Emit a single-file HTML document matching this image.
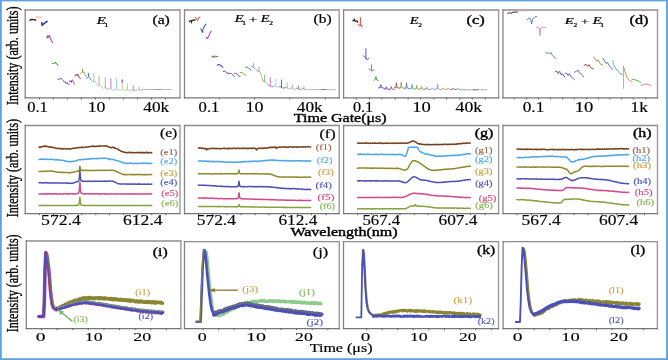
<!DOCTYPE html>
<html><head><meta charset="utf-8"><style>html,body{margin:0;padding:0;background:#fff;overflow:hidden}svg{display:block;font-family:"Liberation Serif",serif;filter:blur(0.4px)}</style></head><body>
<svg width="668" height="360" viewBox="0 0 668 360" font-family="Liberation Serif, serif">
<rect x="0" y="0" width="668" height="360" fill="#fff"/>
<line x1="25.2" y1="10" x2="180" y2="10" stroke="#8c8c8c" stroke-width="1.3" stroke-linecap="square"/>
<line x1="180" y1="10" x2="180" y2="97.9" stroke="#9a9a9a" stroke-width="1.4" stroke-linecap="square"/>
<line x1="25.2" y1="10" x2="25.2" y2="97.9" stroke="#858585" stroke-width="1.3" stroke-linecap="square"/>
<line x1="25.2" y1="97.9" x2="180" y2="97.9" stroke="#767676" stroke-width="1.2" stroke-linecap="square"/>
<line x1="184.5" y1="10" x2="339.2" y2="10" stroke="#8c8c8c" stroke-width="1.3" stroke-linecap="square"/>
<line x1="339.2" y1="10" x2="339.2" y2="97.9" stroke="#9a9a9a" stroke-width="1.4" stroke-linecap="square"/>
<line x1="184.5" y1="10" x2="184.5" y2="97.9" stroke="#858585" stroke-width="1.3" stroke-linecap="square"/>
<line x1="184.5" y1="97.9" x2="339.2" y2="97.9" stroke="#767676" stroke-width="1.2" stroke-linecap="square"/>
<line x1="343.6" y1="10" x2="498.6" y2="10" stroke="#8c8c8c" stroke-width="1.3" stroke-linecap="square"/>
<line x1="498.6" y1="10" x2="498.6" y2="97.9" stroke="#9a9a9a" stroke-width="1.4" stroke-linecap="square"/>
<line x1="343.6" y1="10" x2="343.6" y2="97.9" stroke="#858585" stroke-width="1.3" stroke-linecap="square"/>
<line x1="343.6" y1="97.9" x2="498.6" y2="97.9" stroke="#767676" stroke-width="1.2" stroke-linecap="square"/>
<line x1="503" y1="10" x2="657.5" y2="10" stroke="#8c8c8c" stroke-width="1.3" stroke-linecap="square"/>
<line x1="657.5" y1="10" x2="657.5" y2="97.9" stroke="#9a9a9a" stroke-width="1.4" stroke-linecap="square"/>
<line x1="503" y1="10" x2="503" y2="97.9" stroke="#858585" stroke-width="1.3" stroke-linecap="square"/>
<line x1="503" y1="97.9" x2="657.5" y2="97.9" stroke="#767676" stroke-width="1.2" stroke-linecap="square"/>
<line x1="25.2" y1="125.5" x2="180" y2="125.5" stroke="#8c8c8c" stroke-width="1.3" stroke-linecap="square"/>
<line x1="180" y1="125.5" x2="180" y2="213.6" stroke="#9a9a9a" stroke-width="1.4" stroke-linecap="square"/>
<line x1="25.2" y1="125.5" x2="25.2" y2="213.6" stroke="#858585" stroke-width="1.3" stroke-linecap="square"/>
<line x1="25.2" y1="213.6" x2="180" y2="213.6" stroke="#767676" stroke-width="1.2" stroke-linecap="square"/>
<line x1="184.5" y1="125.5" x2="339.2" y2="125.5" stroke="#8c8c8c" stroke-width="1.3" stroke-linecap="square"/>
<line x1="339.2" y1="125.5" x2="339.2" y2="213.6" stroke="#9a9a9a" stroke-width="1.4" stroke-linecap="square"/>
<line x1="184.5" y1="125.5" x2="184.5" y2="213.6" stroke="#858585" stroke-width="1.3" stroke-linecap="square"/>
<line x1="184.5" y1="213.6" x2="339.2" y2="213.6" stroke="#767676" stroke-width="1.2" stroke-linecap="square"/>
<line x1="343.6" y1="125.5" x2="498.6" y2="125.5" stroke="#8c8c8c" stroke-width="1.3" stroke-linecap="square"/>
<line x1="498.6" y1="125.5" x2="498.6" y2="213.6" stroke="#9a9a9a" stroke-width="1.4" stroke-linecap="square"/>
<line x1="343.6" y1="125.5" x2="343.6" y2="213.6" stroke="#858585" stroke-width="1.3" stroke-linecap="square"/>
<line x1="343.6" y1="213.6" x2="498.6" y2="213.6" stroke="#767676" stroke-width="1.2" stroke-linecap="square"/>
<line x1="503" y1="125.5" x2="657.5" y2="125.5" stroke="#8c8c8c" stroke-width="1.3" stroke-linecap="square"/>
<line x1="657.5" y1="125.5" x2="657.5" y2="213.6" stroke="#9a9a9a" stroke-width="1.4" stroke-linecap="square"/>
<line x1="503" y1="125.5" x2="503" y2="213.6" stroke="#858585" stroke-width="1.3" stroke-linecap="square"/>
<line x1="503" y1="213.6" x2="657.5" y2="213.6" stroke="#767676" stroke-width="1.2" stroke-linecap="square"/>
<line x1="26.3" y1="241" x2="180.9" y2="241" stroke="#8c8c8c" stroke-width="1.3" stroke-linecap="square"/>
<line x1="180.9" y1="241" x2="180.9" y2="328.6" stroke="#9a9a9a" stroke-width="1.4" stroke-linecap="square"/>
<line x1="26.3" y1="241" x2="26.3" y2="328.6" stroke="#858585" stroke-width="1.3" stroke-linecap="square"/>
<line x1="26.3" y1="328.6" x2="180.9" y2="328.6" stroke="#767676" stroke-width="1.2" stroke-linecap="square"/>
<line x1="184.5" y1="241.6" x2="339.3" y2="241.6" stroke="#8c8c8c" stroke-width="1.3" stroke-linecap="square"/>
<line x1="339.3" y1="241.6" x2="339.3" y2="328.6" stroke="#9a9a9a" stroke-width="1.4" stroke-linecap="square"/>
<line x1="184.5" y1="241.6" x2="184.5" y2="328.6" stroke="#858585" stroke-width="1.3" stroke-linecap="square"/>
<line x1="184.5" y1="328.6" x2="339.3" y2="328.6" stroke="#767676" stroke-width="1.2" stroke-linecap="square"/>
<line x1="343.5" y1="241.6" x2="498.5" y2="241.6" stroke="#8c8c8c" stroke-width="1.3" stroke-linecap="square"/>
<line x1="498.5" y1="241.6" x2="498.5" y2="328.6" stroke="#9a9a9a" stroke-width="1.4" stroke-linecap="square"/>
<line x1="343.5" y1="241.6" x2="343.5" y2="328.6" stroke="#858585" stroke-width="1.3" stroke-linecap="square"/>
<line x1="343.5" y1="328.6" x2="498.5" y2="328.6" stroke="#767676" stroke-width="1.2" stroke-linecap="square"/>
<line x1="503.1" y1="241.6" x2="657.4" y2="241.6" stroke="#8c8c8c" stroke-width="1.3" stroke-linecap="square"/>
<line x1="657.4" y1="241.6" x2="657.4" y2="328.6" stroke="#9a9a9a" stroke-width="1.4" stroke-linecap="square"/>
<line x1="503.1" y1="241.6" x2="503.1" y2="328.6" stroke="#858585" stroke-width="1.3" stroke-linecap="square"/>
<line x1="503.1" y1="328.6" x2="657.4" y2="328.6" stroke="#767676" stroke-width="1.2" stroke-linecap="square"/>
<line x1="39.4" y1="97.9" x2="39.4" y2="99.5" stroke="#555" stroke-width="0.9"/>
<line x1="53.4" y1="97.9" x2="53.4" y2="99.5" stroke="#555" stroke-width="0.9"/>
<line x1="67.3" y1="97.9" x2="67.3" y2="99.5" stroke="#555" stroke-width="0.9"/>
<line x1="81.3" y1="97.9" x2="81.3" y2="99.5" stroke="#555" stroke-width="0.9"/>
<line x1="95.4" y1="97.9" x2="95.4" y2="99.5" stroke="#555" stroke-width="0.9"/>
<line x1="109.5" y1="97.9" x2="109.5" y2="99.5" stroke="#555" stroke-width="0.9"/>
<line x1="123.3" y1="97.9" x2="123.3" y2="99.5" stroke="#555" stroke-width="0.9"/>
<line x1="137.6" y1="97.9" x2="137.6" y2="99.5" stroke="#555" stroke-width="0.9"/>
<line x1="151.6" y1="97.9" x2="151.6" y2="99.5" stroke="#555" stroke-width="0.9"/>
<line x1="165.6" y1="97.9" x2="165.6" y2="99.5" stroke="#555" stroke-width="0.9"/>
<line x1="219.3" y1="97.9" x2="219.3" y2="99.5" stroke="#555" stroke-width="0.9"/>
<line x1="254.6" y1="97.9" x2="254.6" y2="99.5" stroke="#555" stroke-width="0.9"/>
<line x1="289.9" y1="97.9" x2="289.9" y2="99.5" stroke="#555" stroke-width="0.9"/>
<line x1="325.3" y1="97.9" x2="325.3" y2="99.5" stroke="#555" stroke-width="0.9"/>
<line x1="356.2" y1="97.9" x2="356.2" y2="99.5" stroke="#555" stroke-width="0.9"/>
<line x1="369.3" y1="97.9" x2="369.3" y2="99.5" stroke="#555" stroke-width="0.9"/>
<line x1="381.8" y1="97.9" x2="381.8" y2="99.5" stroke="#555" stroke-width="0.9"/>
<line x1="395.2" y1="97.9" x2="395.2" y2="99.5" stroke="#555" stroke-width="0.9"/>
<line x1="408.1" y1="97.9" x2="408.1" y2="99.5" stroke="#555" stroke-width="0.9"/>
<line x1="420.8" y1="97.9" x2="420.8" y2="99.5" stroke="#555" stroke-width="0.9"/>
<line x1="434" y1="97.9" x2="434" y2="99.5" stroke="#555" stroke-width="0.9"/>
<line x1="446.5" y1="97.9" x2="446.5" y2="99.5" stroke="#555" stroke-width="0.9"/>
<line x1="459.9" y1="97.9" x2="459.9" y2="99.5" stroke="#555" stroke-width="0.9"/>
<line x1="472.3" y1="97.9" x2="472.3" y2="99.5" stroke="#555" stroke-width="0.9"/>
<line x1="485.5" y1="97.9" x2="485.5" y2="99.5" stroke="#555" stroke-width="0.9"/>
<line x1="514.2" y1="97.9" x2="514.2" y2="99.5" stroke="#555" stroke-width="0.9"/>
<line x1="526.3" y1="97.9" x2="526.3" y2="99.5" stroke="#555" stroke-width="0.9"/>
<line x1="538.3" y1="97.9" x2="538.3" y2="99.5" stroke="#555" stroke-width="0.9"/>
<line x1="550.4" y1="97.9" x2="550.4" y2="99.5" stroke="#555" stroke-width="0.9"/>
<line x1="562.5" y1="97.9" x2="562.5" y2="99.5" stroke="#555" stroke-width="0.9"/>
<line x1="574.1" y1="97.9" x2="574.1" y2="99.5" stroke="#555" stroke-width="0.9"/>
<line x1="586.3" y1="97.9" x2="586.3" y2="99.5" stroke="#555" stroke-width="0.9"/>
<line x1="598.4" y1="97.9" x2="598.4" y2="99.5" stroke="#555" stroke-width="0.9"/>
<line x1="610" y1="97.9" x2="610" y2="99.5" stroke="#555" stroke-width="0.9"/>
<line x1="621.7" y1="97.9" x2="621.7" y2="99.5" stroke="#555" stroke-width="0.9"/>
<line x1="633.4" y1="97.9" x2="633.4" y2="99.5" stroke="#555" stroke-width="0.9"/>
<line x1="645.6" y1="97.9" x2="645.6" y2="99.5" stroke="#555" stroke-width="0.9"/>
<text transform="translate(27.17 111.7) scale(1.173 1)" font-size="14.13" fill="#000" stroke="#000" stroke-width="0.15">0.1</text>
<text transform="translate(87.74 111.76) scale(1.247 1)" font-size="14.23" fill="#000" stroke="#000" stroke-width="0.15">10</text>
<text transform="translate(143.26 111.77) scale(1.267 1)" font-size="13.64" fill="#000" stroke="#000" stroke-width="0.15">40k</text>
<text transform="translate(198.57 111.7) scale(1.179 1)" font-size="14.13" fill="#000" stroke="#000" stroke-width="0.15">0.1</text>
<text transform="translate(245.52 111.76) scale(1.263 1)" font-size="14.23" fill="#000" stroke="#000" stroke-width="0.15">10</text>
<text transform="translate(296.86 111.77) scale(1.267 1)" font-size="13.64" fill="#000" stroke="#000" stroke-width="0.15">40k</text>
<text transform="translate(352.88 111.7) scale(1.149 1)" font-size="14.13" fill="#000" stroke="#000" stroke-width="0.15">0.1</text>
<text transform="translate(412.26 111.76) scale(1.311 1)" font-size="14.23" fill="#000" stroke="#000" stroke-width="0.15">10</text>
<text transform="translate(455.55 111.77) scale(1.297 1)" font-size="13.64" fill="#000" stroke="#000" stroke-width="0.15">40k</text>
<text transform="translate(522.74 111.7) scale(1.222 1)" font-size="14.13" fill="#000" stroke="#000" stroke-width="0.15">0.1</text>
<text transform="translate(574.76 111.76) scale(1.311 1)" font-size="14.23" fill="#000" stroke="#000" stroke-width="0.15">10</text>
<text transform="translate(630.48 111.9) scale(1.252 1)" font-size="13.84" fill="#000" stroke="#000" stroke-width="0.15">1k</text>
<text transform="translate(152.41 23.86) scale(1.319 1)" font-size="11.91" fill="#000" stroke="#000" stroke-width="0.25">(a)</text>
<text transform="translate(313.57 23.14) scale(1.313 1)" font-size="11.8" fill="#000" stroke="#000" stroke-width="0.2">(b)</text>
<text transform="translate(466.53 23.64) scale(1.385 1)" font-size="11.8" fill="#000" stroke="#000" stroke-width="0.35">(c)</text>
<text transform="translate(629.54 23.64) scale(1.376 1)" font-size="11.8" fill="#000" stroke="#000" stroke-width="0.35">(d)</text>
<text transform="translate(96.87 23.8) scale(1.550 1)" font-size="9.47" fill="#000" stroke="#000" stroke-width="0.22" font-style="italic">E</text>
<text transform="translate(104.43 26.95) scale(1.150 1)" font-size="6.5" fill="#000" stroke="#000" stroke-width="0.25">1</text>
<text transform="translate(234.67 22.05) scale(1.468 1)" font-size="9.77" fill="#000" stroke="#000" stroke-width="0.22" font-style="italic">E</text>
<text transform="translate(242.13 25.25) scale(1.150 1)" font-size="6.5" fill="#000" stroke="#000" stroke-width="0.25">1</text>
<text transform="translate(260.67 22.05) scale(1.468 1)" font-size="9.77" fill="#000" stroke="#000" stroke-width="0.22" font-style="italic">E</text>
<text transform="translate(269.17 25.15) scale(1.150 1)" font-size="6.5" fill="#000" stroke="#000" stroke-width="0.25">2</text>
<text transform="translate(248.65 22.84) scale(1.430 1)" font-size="10.52" fill="#000" stroke="#000" stroke-width="0.15">+</text>
<text transform="translate(409.87 23.8) scale(1.515 1)" font-size="9.47" fill="#000" stroke="#000" stroke-width="0.22" font-style="italic">E</text>
<text transform="translate(418.37 27.05) scale(1.150 1)" font-size="6.5" fill="#000" stroke="#000" stroke-width="0.25">2</text>
<text transform="translate(564.87 23.8) scale(1.602 1)" font-size="9.16" fill="#000" stroke="#000" stroke-width="0.22" font-style="italic">E</text>
<text transform="translate(573.57 27.05) scale(1.150 1)" font-size="6.5" fill="#000" stroke="#000" stroke-width="0.25">2</text>
<text transform="translate(580.77 24.61) scale(1.309 1)" font-size="11.16" fill="#000" stroke="#000" stroke-width="0.15">+</text>
<text transform="translate(592.67 23.8) scale(1.515 1)" font-size="9.47" fill="#000" stroke="#000" stroke-width="0.22" font-style="italic">E</text>
<text transform="translate(600.13 26.95) scale(1.150 1)" font-size="6.5" fill="#000" stroke="#000" stroke-width="0.25">1</text>
<polyline points="29.9,20.4 30.8,19.6 32.5,19.4 34.2,19.8 35.8,20" fill="none" stroke="#222" stroke-width="1.36" stroke-linejoin="round" stroke-linecap="round"/>
<polyline points="35.6,17.1 41.6,17.1" fill="none" stroke="#f08a70" stroke-width="0.765" stroke-linejoin="round" stroke-linecap="round"/>
<polyline points="41.8,22.8 42,25.2 43.2,24.4 44.2,23.4 45.5,22.6 47,21.3" fill="none" stroke="#3a3fb0" stroke-width="1.7" stroke-linejoin="round" stroke-linecap="round"/>
<polyline points="46.9,38 47.5,35.7 48.1,37.4 49,35.8 49.7,35.6 50.2,38.4 51,39.4 51.4,40.8 52.6,42.4" fill="none" stroke="#a040a8" stroke-width="1.02" stroke-linejoin="round" stroke-linecap="round"/>
<polyline points="52.3,63.4 53.5,63.3 54.6,63 55.4,62.4 56.2,63.4 57,64.2 58.3,65.3" fill="none" stroke="#4a9a40" stroke-width="1.02" stroke-linejoin="round" stroke-linecap="round"/>
<polyline points="58,79.5 59.5,79 61,78.3 62.3,79.5 63.5,80.8" fill="none" stroke="#5050c0" stroke-width="0.935" stroke-linejoin="round" stroke-linecap="round"/>
<polyline points="63.8,82 65.3,81.8 66,83.5 67,82.3 67.8,84 69.2,84.6" fill="none" stroke="#6a50b8" stroke-width="0.935" stroke-linejoin="round" stroke-linecap="round"/>
<polyline points="69.3,81.5 70.3,80.5 71.2,82.5 72,79.8 73,80.6 73.5,82.5 74.5,84.3" fill="none" stroke="#9040a0" stroke-width="0.935" stroke-linejoin="round" stroke-linecap="round"/>
<polyline points="75,76.2 76,74.4 77,75.6 77.8,74 78.5,76 79.5,78 80.5,78.5" fill="none" stroke="#a03030" stroke-width="0.935" stroke-linejoin="round" stroke-linecap="round"/>
<polyline points="80.6,73.8 81.6,72.4 82.3,71.8 82.6,68.8 82.8,72.5 84,72 85,74.5 86.2,76.2" fill="none" stroke="#9a9a40" stroke-width="0.85" stroke-linejoin="round" stroke-linecap="round"/>
<polyline points="86.6,78.6 87.6,77.2 88.3,76.8 88.4,73 88.6,77 89.6,77.4 90.4,79.4 91.4,80.2" fill="none" stroke="#5070c8" stroke-width="0.85" stroke-linejoin="round" stroke-linecap="round"/>
<polyline points="93.9,73.3 93.9,81" fill="none" stroke="#88c8cc" stroke-width="0.935" stroke-linejoin="round" stroke-linecap="round"/>
<polyline points="92.3,82.6 93.9,81" fill="none" stroke="#88c8cc" stroke-width="0.765" stroke-linejoin="round" stroke-linecap="round"/>
<polyline points="93.9,81 95.4,82.5 97.4,84.8" fill="none" stroke="#88c8cc" stroke-width="0.765" stroke-linejoin="round" stroke-linecap="round"/>
<polyline points="99.1,76.2 99.1,84.6" fill="none" stroke="#c8a078" stroke-width="0.935" stroke-linejoin="round" stroke-linecap="round"/>
<polyline points="97.5,86.2 99.1,84.6" fill="none" stroke="#c8a078" stroke-width="0.765" stroke-linejoin="round" stroke-linecap="round"/>
<polyline points="99.1,84.6 100.6,86.1 102.6,87.4" fill="none" stroke="#c8a078" stroke-width="0.765" stroke-linejoin="round" stroke-linecap="round"/>
<polyline points="105.3,77.6 105.3,87.2" fill="none" stroke="#80c070" stroke-width="0.935" stroke-linejoin="round" stroke-linecap="round"/>
<polyline points="103.7,88.8 105.3,87.2" fill="none" stroke="#80c070" stroke-width="0.765" stroke-linejoin="round" stroke-linecap="round"/>
<polyline points="105.3,87.2 106.8,88.7 108.8,88.6" fill="none" stroke="#80c070" stroke-width="0.765" stroke-linejoin="round" stroke-linecap="round"/>
<polyline points="110.8,79 110.8,88.4" fill="none" stroke="#e0a8d0" stroke-width="0.935" stroke-linejoin="round" stroke-linecap="round"/>
<polyline points="109.2,90 110.8,88.4" fill="none" stroke="#e0a8d0" stroke-width="0.765" stroke-linejoin="round" stroke-linecap="round"/>
<polyline points="110.8,88.4 112.3,89.9 114.3,89.2" fill="none" stroke="#e0a8d0" stroke-width="0.765" stroke-linejoin="round" stroke-linecap="round"/>
<polyline points="116.4,79 116.4,89" fill="none" stroke="#80d0e0" stroke-width="0.935" stroke-linejoin="round" stroke-linecap="round"/>
<polyline points="114.8,90.6 116.4,89" fill="none" stroke="#80d0e0" stroke-width="0.765" stroke-linejoin="round" stroke-linecap="round"/>
<polyline points="116.4,89 117.9,90.5 119.9,89.3" fill="none" stroke="#80d0e0" stroke-width="0.765" stroke-linejoin="round" stroke-linecap="round"/>
<polyline points="122.2,81.6 122.2,89.1" fill="none" stroke="#c8d070" stroke-width="0.935" stroke-linejoin="round" stroke-linecap="round"/>
<polyline points="120.6,90.7 122.2,89.1" fill="none" stroke="#c8d070" stroke-width="0.765" stroke-linejoin="round" stroke-linecap="round"/>
<polyline points="122.2,89.1 123.7,90.6 125.7,89.6" fill="none" stroke="#c8d070" stroke-width="0.765" stroke-linejoin="round" stroke-linecap="round"/>
<polyline points="127.5,84.1 127.5,89.4" fill="none" stroke="#c0c0c0" stroke-width="0.935" stroke-linejoin="round" stroke-linecap="round"/>
<polyline points="125.9,91 127.5,89.4" fill="none" stroke="#c0c0c0" stroke-width="0.765" stroke-linejoin="round" stroke-linecap="round"/>
<polyline points="127.5,89.4 129,90.9 131,89.7" fill="none" stroke="#c0c0c0" stroke-width="0.765" stroke-linejoin="round" stroke-linecap="round"/>
<polyline points="133.2,85.9 133.2,89.5" fill="none" stroke="#b07890" stroke-width="0.935" stroke-linejoin="round" stroke-linecap="round"/>
<polyline points="131.6,91.1 133.2,89.5" fill="none" stroke="#b07890" stroke-width="0.765" stroke-linejoin="round" stroke-linecap="round"/>
<polyline points="133.2,89.5 134.7,91 136.7,89.7" fill="none" stroke="#b07890" stroke-width="0.765" stroke-linejoin="round" stroke-linecap="round"/>
<polyline points="139,86.6 139,89.5" fill="none" stroke="#90c090" stroke-width="0.935" stroke-linejoin="round" stroke-linecap="round"/>
<polyline points="137.4,91.1 139,89.5" fill="none" stroke="#90c090" stroke-width="0.765" stroke-linejoin="round" stroke-linecap="round"/>
<polyline points="139,89.5 140.5,91 142.5,89.7" fill="none" stroke="#90c090" stroke-width="0.765" stroke-linejoin="round" stroke-linecap="round"/>
<polyline points="110.8,79 110.8,88.4" fill="none" stroke="#e0b0d8" stroke-width="1.7" stroke-linejoin="round" stroke-linecap="round"/>
<polyline points="122.2,80 122.2,82" fill="none" stroke="#7060d0" stroke-width="1.275" stroke-linejoin="round" stroke-linecap="round"/>
<polyline points="141.7,89.5 146.6,89.5" fill="none" stroke="#90c8e0" stroke-width="0.935" stroke-linejoin="round" stroke-linecap="round"/>
<polyline points="146.6,89.5 151.5,89.5" fill="none" stroke="#b0b0d0" stroke-width="0.935" stroke-linejoin="round" stroke-linecap="round"/>
<polyline points="151.5,89.5 156.4,89.5" fill="none" stroke="#c0a0a0" stroke-width="0.935" stroke-linejoin="round" stroke-linecap="round"/>
<polyline points="156.4,89.5 161.3,89.5" fill="none" stroke="#909090" stroke-width="0.935" stroke-linejoin="round" stroke-linecap="round"/>
<polyline points="161.3,89.5 166.2,89.5" fill="none" stroke="#f0a888" stroke-width="0.935" stroke-linejoin="round" stroke-linecap="round"/>
<polyline points="166.2,89.5 171.1,89.5" fill="none" stroke="#b0b0e8" stroke-width="0.935" stroke-linejoin="round" stroke-linecap="round"/>
<polyline points="189.5,21.6 190.4,20.6 191.4,21.4 192.6,20.2 193.6,20.4 195,19.8" fill="none" stroke="#222" stroke-width="1.275" stroke-linejoin="round" stroke-linecap="round"/>
<polyline points="191.4,21 191.6,23" fill="none" stroke="#222" stroke-width="1.02" stroke-linejoin="round" stroke-linecap="round"/>
<polyline points="195.3,17.4 196.5,19.2 197.5,20.8 198.5,17.5 200,17.2" fill="none" stroke="#e03828" stroke-width="0.935" stroke-linejoin="round" stroke-linecap="round"/>
<polyline points="200.8,29 201.6,30.4 202.6,32.4 203.1,28.8 204.5,26.2 205.8,24" fill="none" stroke="#3a50c0" stroke-width="1.02" stroke-linejoin="round" stroke-linecap="round"/>
<polyline points="206.3,37.2 207,38.6 208,37.4 209,35.2 210,33 211.3,31" fill="none" stroke="#a848b8" stroke-width="1.02" stroke-linejoin="round" stroke-linecap="round"/>
<polyline points="212,57 213,56 214.2,57.5 215.5,56 216.6,56.4 217.8,56.8" fill="none" stroke="#409040" stroke-width="1.105" stroke-linejoin="round" stroke-linecap="round"/>
<polyline points="217.2,65.2 218.5,64.5 220,65 221,65.6 222,66.5 223,67.3" fill="none" stroke="#4848b8" stroke-width="1.02" stroke-linejoin="round" stroke-linecap="round"/>
<polyline points="223.2,71.4 224.8,71.2 226,72 227,73.3 228.3,73.4" fill="none" stroke="#6048b0" stroke-width="0.935" stroke-linejoin="round" stroke-linecap="round"/>
<polyline points="228.3,73.2 230,73.4 231.5,73.6 232.5,74.6 233.2,75.8 234.3,76.2" fill="none" stroke="#8048a8" stroke-width="0.935" stroke-linejoin="round" stroke-linecap="round"/>
<polyline points="234.2,73.2 235.5,73.6 236.5,73.2 237.5,74.6 238.8,76 240,76.4" fill="none" stroke="#a84040" stroke-width="0.935" stroke-linejoin="round" stroke-linecap="round"/>
<polyline points="240.2,72.4 242,72.6 243.5,73.6 245,74.6 246,75.2" fill="none" stroke="#9a9a40" stroke-width="0.935" stroke-linejoin="round" stroke-linecap="round"/>
<polyline points="245.6,67.4 247,67 248.5,68 250,69.2 251.2,70" fill="none" stroke="#5070c8" stroke-width="0.935" stroke-linejoin="round" stroke-linecap="round"/>
<polyline points="253.3,63.2 253.3,67.2" fill="none" stroke="#70b8b8" stroke-width="0.935" stroke-linejoin="round" stroke-linecap="round"/>
<polyline points="251.5,66.4 253.3,67.2" fill="none" stroke="#70b8b8" stroke-width="0.85" stroke-linejoin="round" stroke-linecap="round"/>
<polyline points="253.3,67.2 254.9,68.3 257.4,71.1" fill="none" stroke="#70b8b8" stroke-width="0.85" stroke-linejoin="round" stroke-linecap="round"/>
<polyline points="259,67 259,71.5" fill="none" stroke="#c8a078" stroke-width="0.935" stroke-linejoin="round" stroke-linecap="round"/>
<polyline points="257.2,70.7 259,71.5" fill="none" stroke="#c8a078" stroke-width="0.85" stroke-linejoin="round" stroke-linecap="round"/>
<polyline points="259,71.5 260.6,72.6 263,81.2" fill="none" stroke="#c8a078" stroke-width="0.85" stroke-linejoin="round" stroke-linecap="round"/>
<polyline points="264.6,75 264.6,81.6" fill="none" stroke="#80c070" stroke-width="0.935" stroke-linejoin="round" stroke-linecap="round"/>
<polyline points="262.8,80.8 264.6,81.6" fill="none" stroke="#80c070" stroke-width="0.85" stroke-linejoin="round" stroke-linecap="round"/>
<polyline points="264.6,81.6 266.2,82.7 268.7,85.6" fill="none" stroke="#80c070" stroke-width="0.85" stroke-linejoin="round" stroke-linecap="round"/>
<polyline points="270.3,77.7 270.3,86" fill="none" stroke="#d070b0" stroke-width="0.935" stroke-linejoin="round" stroke-linecap="round"/>
<polyline points="268.5,85.2 270.3,86" fill="none" stroke="#d070b0" stroke-width="0.85" stroke-linejoin="round" stroke-linecap="round"/>
<polyline points="270.3,86 271.9,87.1 274.3,86.1" fill="none" stroke="#d070b0" stroke-width="0.85" stroke-linejoin="round" stroke-linecap="round"/>
<polyline points="275.9,79 275.9,86.5" fill="none" stroke="#90d8dc" stroke-width="0.935" stroke-linejoin="round" stroke-linecap="round"/>
<polyline points="274.1,85.7 275.9,86.5" fill="none" stroke="#90d8dc" stroke-width="0.85" stroke-linejoin="round" stroke-linecap="round"/>
<polyline points="275.9,86.5 277.5,87.6 279.9,86.8" fill="none" stroke="#90d8dc" stroke-width="0.85" stroke-linejoin="round" stroke-linecap="round"/>
<polyline points="281.5,80 281.5,87.2" fill="none" stroke="#6060c0" stroke-width="0.935" stroke-linejoin="round" stroke-linecap="round"/>
<polyline points="279.7,86.4 281.5,87.2" fill="none" stroke="#6060c0" stroke-width="0.85" stroke-linejoin="round" stroke-linecap="round"/>
<polyline points="281.5,87.2 283.1,88.3 285.6,87.5" fill="none" stroke="#6060c0" stroke-width="0.85" stroke-linejoin="round" stroke-linecap="round"/>
<polyline points="287.2,83 287.2,87.9" fill="none" stroke="#b0c060" stroke-width="0.935" stroke-linejoin="round" stroke-linecap="round"/>
<polyline points="285.4,87.1 287.2,87.9" fill="none" stroke="#b0c060" stroke-width="0.85" stroke-linejoin="round" stroke-linecap="round"/>
<polyline points="287.2,87.9 288.8,89 291.1,88.1" fill="none" stroke="#b0c060" stroke-width="0.85" stroke-linejoin="round" stroke-linecap="round"/>
<polyline points="292.7,84.7 292.7,88.5" fill="none" stroke="#b0b0b0" stroke-width="0.935" stroke-linejoin="round" stroke-linecap="round"/>
<polyline points="290.9,87.7 292.7,88.5" fill="none" stroke="#b0b0b0" stroke-width="0.85" stroke-linejoin="round" stroke-linecap="round"/>
<polyline points="292.7,88.5 294.3,89.6 296.9,88.4" fill="none" stroke="#b0b0b0" stroke-width="0.85" stroke-linejoin="round" stroke-linecap="round"/>
<polyline points="298.5,86 298.5,88.8" fill="none" stroke="#c07090" stroke-width="0.935" stroke-linejoin="round" stroke-linecap="round"/>
<polyline points="296.7,88 298.5,88.8" fill="none" stroke="#c07090" stroke-width="0.85" stroke-linejoin="round" stroke-linecap="round"/>
<polyline points="298.5,88.8 300.1,89.9 302.3,88.6" fill="none" stroke="#c07090" stroke-width="0.85" stroke-linejoin="round" stroke-linecap="round"/>
<polyline points="303.9,86.3 303.9,89" fill="none" stroke="#90b890" stroke-width="0.935" stroke-linejoin="round" stroke-linecap="round"/>
<polyline points="302.1,88.2 303.9,89" fill="none" stroke="#90b890" stroke-width="0.85" stroke-linejoin="round" stroke-linecap="round"/>
<polyline points="303.9,89 305.5,90.1 305.7,89.1" fill="none" stroke="#90b890" stroke-width="0.85" stroke-linejoin="round" stroke-linecap="round"/>
<polyline points="307.2,89.6 311.95,89.6" fill="none" stroke="#90c8e0" stroke-width="0.935" stroke-linejoin="round" stroke-linecap="round"/>
<polyline points="311.95,89.6 316.7,89.6" fill="none" stroke="#b0b0d0" stroke-width="0.935" stroke-linejoin="round" stroke-linecap="round"/>
<polyline points="316.7,89.6 321.45,89.6" fill="none" stroke="#b0b0b0" stroke-width="0.935" stroke-linejoin="round" stroke-linecap="round"/>
<polyline points="321.45,89.6 326.2,89.6" fill="none" stroke="#707070" stroke-width="0.935" stroke-linejoin="round" stroke-linecap="round"/>
<polyline points="326.2,89.6 330.95,89.6" fill="none" stroke="#f0a888" stroke-width="0.935" stroke-linejoin="round" stroke-linecap="round"/>
<polyline points="330.95,89.6 335.7,89.6" fill="none" stroke="#b0b0e8" stroke-width="0.935" stroke-linejoin="round" stroke-linecap="round"/>
<polyline points="352.8,21 353.8,20.2 354.4,18.9 354.9,21 355.9,21.4 356.9,20.6 357.8,22.3" fill="none" stroke="#222" stroke-width="1.105" stroke-linejoin="round" stroke-linecap="round"/>
<polyline points="360.4,17.6 360.4,25.6 361.6,26.6 362.4,25" fill="none" stroke="#e03828" stroke-width="0.935" stroke-linejoin="round" stroke-linecap="round"/>
<polyline points="358.2,24.6 360.4,25.8" fill="none" stroke="#e03828" stroke-width="0.935" stroke-linejoin="round" stroke-linecap="round"/>
<polyline points="365.9,48.6 365.9,58.6 367.4,59.6 368.7,58" fill="none" stroke="#3a50c0" stroke-width="0.935" stroke-linejoin="round" stroke-linecap="round"/>
<polyline points="363.2,55.6 365,57.4 365.9,58.6" fill="none" stroke="#3a50c0" stroke-width="0.935" stroke-linejoin="round" stroke-linecap="round"/>
<polyline points="371.5,64.8 371.5,70.6 372.8,71 373.6,69.8" fill="none" stroke="#b050b8" stroke-width="0.935" stroke-linejoin="round" stroke-linecap="round"/>
<polyline points="368.8,68.8 370.4,70 371.5,70.6" fill="none" stroke="#b050b8" stroke-width="0.935" stroke-linejoin="round" stroke-linecap="round"/>
<polyline points="373.8,80.2 375.2,79.6 376,76.6 376.6,79.8 378.4,80.4" fill="none" stroke="#48a048" stroke-width="0.935" stroke-linejoin="round" stroke-linecap="round"/>
<polyline points="378.6,87.7 380.24,87.9 380.84,84.6 381.44,87.5 384.2,88.3" fill="none" stroke="#4848b8" stroke-width="0.85" stroke-linejoin="round" stroke-linecap="round"/>
<polyline points="384.2,89 385.6,89.2 386.2,86.8 386.8,88.8 389.2,89.6" fill="none" stroke="#6048b0" stroke-width="0.85" stroke-linejoin="round" stroke-linecap="round"/>
<polyline points="389.2,89 390.68,89.2 391.28,86.6 391.88,88.8 394.4,89.6" fill="none" stroke="#9048a8" stroke-width="0.85" stroke-linejoin="round" stroke-linecap="round"/>
<polyline points="394.4,87.7 395.76,87.9 396.36,82.8 396.96,87.5 399.3,88.3" fill="none" stroke="#a84040" stroke-width="0.85" stroke-linejoin="round" stroke-linecap="round"/>
<polyline points="399.3,87.7 400.62,87.9 401.22,82.3 401.82,87.5 404.1,88.3" fill="none" stroke="#909a30" stroke-width="0.85" stroke-linejoin="round" stroke-linecap="round"/>
<polyline points="404.1,88.1 405.9,88.3 406.5,82.8 407.1,87.9 410.1,88.7" fill="none" stroke="#4a68c8" stroke-width="0.85" stroke-linejoin="round" stroke-linecap="round"/>
<polyline points="410.1,88.6 411.42,88.8 412.02,84.4 412.62,88.4 414.9,89.2" fill="none" stroke="#48b0b0" stroke-width="0.85" stroke-linejoin="round" stroke-linecap="round"/>
<polyline points="414.9,88.8 416.18,89 416.78,85.4 417.38,88.6 419.6,89.4" fill="none" stroke="#c08a48" stroke-width="0.85" stroke-linejoin="round" stroke-linecap="round"/>
<polyline points="419.6,89 420.92,89.2 421.52,86.4 422.12,88.8 424.4,89.6" fill="none" stroke="#60b040" stroke-width="0.85" stroke-linejoin="round" stroke-linecap="round"/>
<polyline points="424.4,89 426.2,89.2 426.8,87.4 427.4,88.8 430.4,89.6" fill="none" stroke="#c060a8" stroke-width="0.85" stroke-linejoin="round" stroke-linecap="round"/>
<polyline points="430.4,89.1 431.8,89.3 432.4,87.8 433,88.9 435.4,89.7" fill="none" stroke="#60c8d0" stroke-width="0.85" stroke-linejoin="round" stroke-linecap="round"/>
<polyline points="435.4,89.1 437.04,89.3 437.64,84 438.24,88.9 441,89.7" fill="none" stroke="#9090d8" stroke-width="0.85" stroke-linejoin="round" stroke-linecap="round"/>
<polyline points="441,89.1 442.4,89.3 443,87.8 443.6,88.9 446,89.7" fill="none" stroke="#a8b840" stroke-width="0.85" stroke-linejoin="round" stroke-linecap="round"/>
<polyline points="446,89.2 447.4,89.4 448,88 448.6,89 451,89.8" fill="none" stroke="#a0a0a0" stroke-width="0.85" stroke-linejoin="round" stroke-linecap="round"/>
<polyline points="451,89.2 452.4,89.4 453,88.2 453.6,89 456,89.8" fill="none" stroke="#a05070" stroke-width="0.85" stroke-linejoin="round" stroke-linecap="round"/>
<polyline points="456,89.2 457,89.4 457.6,88.4 458.2,89 460,89.8" fill="none" stroke="#60a860" stroke-width="0.85" stroke-linejoin="round" stroke-linecap="round"/>
<polyline points="460,89.8 464.45,89.8" fill="none" stroke="#80c0e0" stroke-width="0.935" stroke-linejoin="round" stroke-linecap="round"/>
<polyline points="464.45,89.8 468.9,89.8" fill="none" stroke="#a0a0c0" stroke-width="0.935" stroke-linejoin="round" stroke-linecap="round"/>
<polyline points="468.9,89.8 473.35,89.8" fill="none" stroke="#b0b0b0" stroke-width="0.935" stroke-linejoin="round" stroke-linecap="round"/>
<polyline points="473.35,89.8 477.8,89.8" fill="none" stroke="#606060" stroke-width="0.935" stroke-linejoin="round" stroke-linecap="round"/>
<polyline points="477.8,89.8 482.25,89.8" fill="none" stroke="#f0a080" stroke-width="0.935" stroke-linejoin="round" stroke-linecap="round"/>
<polyline points="482.25,89.8 486.7,89.8" fill="none" stroke="#a0a0e0" stroke-width="0.935" stroke-linejoin="round" stroke-linecap="round"/>
<polyline points="507.6,13.6 509.6,12.6 511,13.4 513,12.2 517.3,12" fill="none" stroke="#222" stroke-width="0.935" stroke-linejoin="round" stroke-linecap="round"/>
<polyline points="517.3,10.8 527,10.8" fill="none" stroke="#f0a090" stroke-width="0.68" stroke-linejoin="round" stroke-linecap="round"/>
<polyline points="527.2,19.6 529,18 530.5,18.8 531.6,23.8 532.6,19.4 534.6,17 536.6,16.4" fill="none" stroke="#4a5cc0" stroke-width="0.85" stroke-linejoin="round" stroke-linecap="round"/>
<polyline points="536.2,27.6 538,26.8 539.4,28 540,35.6 540.8,28.2 543,27 545.6,27.4" fill="none" stroke="#c888cc" stroke-width="0.85" stroke-linejoin="round" stroke-linecap="round"/>
<polyline points="545.7,52.8 547.6,53.4 549,52.6 550.2,53.8 551,52.6 552.4,55.4 553.8,56.6 555.6,58.2" fill="none" stroke="#48a048" stroke-width="0.935" stroke-linejoin="round" stroke-linecap="round"/>
<polyline points="555.6,71.4 557,71.2 558.2,73.6 559.6,71.2 561,74.6 562.6,73.8 564,76.4 565,77" fill="none" stroke="#5050b8" stroke-width="0.935" stroke-linejoin="round" stroke-linecap="round"/>
<polyline points="565.2,73.4 566.6,73 568,75.6 569.4,73.6 570.8,76.6 572.6,78 574.4,79.6" fill="none" stroke="#7050b0" stroke-width="0.935" stroke-linejoin="round" stroke-linecap="round"/>
<polyline points="574.6,72.2 576.6,71.2 578.4,70.4 579.4,72.8 580.6,73.2 582.6,75.6 583.8,76.8" fill="none" stroke="#9048a8" stroke-width="0.935" stroke-linejoin="round" stroke-linecap="round"/>
<polyline points="584,65.6 586,64.2 587.6,66.4 589,64.6 590.6,67.6 593.4,69" fill="none" stroke="#a84040" stroke-width="0.935" stroke-linejoin="round" stroke-linecap="round"/>
<polyline points="593.6,57.2 595,58.4 596.6,61.2 598.2,60 600,63.6 602.8,65.4" fill="none" stroke="#909a30" stroke-width="0.935" stroke-linejoin="round" stroke-linecap="round"/>
<polyline points="603,58.2 604.6,61 606,63.4 607.6,62.6 609.8,66.6 612.7,69.4" fill="none" stroke="#4a68c8" stroke-width="0.935" stroke-linejoin="round" stroke-linecap="round"/>
<polyline points="612.8,60.8 613.6,64.6 615.6,68.4 618,71.4 620.2,73.4 622.3,74.4" fill="none" stroke="#48b0b0" stroke-width="0.935" stroke-linejoin="round" stroke-linecap="round"/>
<polyline points="623.5,66.6 623.5,88.5" fill="none" stroke="#c8a070" stroke-width="0.85" stroke-linejoin="round" stroke-linecap="round"/>
<polyline points="623.5,66.6 625.2,72.4 627.2,77.6 629.6,80.6 632,81.6" fill="none" stroke="#c08a48" stroke-width="0.935" stroke-linejoin="round" stroke-linecap="round"/>
<polyline points="632,79.2 635,79.8 638,80.8 641,82.6" fill="none" stroke="#60b040" stroke-width="0.935" stroke-linejoin="round" stroke-linecap="round"/>
<polyline points="641,85.4 643.4,84.4 646,84 648.6,84.6 650.5,85.6" fill="none" stroke="#d070b8" stroke-width="0.935" stroke-linejoin="round" stroke-linecap="round"/>
<line x1="39.3" y1="213.6" x2="39.3" y2="215.2" stroke="#555" stroke-width="0.9"/>
<line x1="53.5" y1="213.6" x2="53.5" y2="215.2" stroke="#555" stroke-width="0.9"/>
<line x1="67.4" y1="213.6" x2="67.4" y2="215.2" stroke="#555" stroke-width="0.9"/>
<line x1="81.7" y1="213.6" x2="81.7" y2="215.2" stroke="#555" stroke-width="0.9"/>
<line x1="95.8" y1="213.6" x2="95.8" y2="215.2" stroke="#555" stroke-width="0.9"/>
<line x1="109.4" y1="213.6" x2="109.4" y2="215.2" stroke="#555" stroke-width="0.9"/>
<line x1="123.6" y1="213.6" x2="123.6" y2="215.2" stroke="#555" stroke-width="0.9"/>
<line x1="137.8" y1="213.6" x2="137.8" y2="215.2" stroke="#555" stroke-width="0.9"/>
<line x1="151.7" y1="213.6" x2="151.7" y2="215.2" stroke="#555" stroke-width="0.9"/>
<line x1="166" y1="213.6" x2="166" y2="215.2" stroke="#555" stroke-width="0.9"/>
<line x1="198.5" y1="213.6" x2="198.5" y2="215.2" stroke="#555" stroke-width="0.9"/>
<line x1="212.75" y1="213.6" x2="212.75" y2="215.2" stroke="#555" stroke-width="0.9"/>
<line x1="227" y1="213.6" x2="227" y2="215.2" stroke="#555" stroke-width="0.9"/>
<line x1="241" y1="213.6" x2="241" y2="215.2" stroke="#555" stroke-width="0.9"/>
<line x1="255.25" y1="213.6" x2="255.25" y2="215.2" stroke="#555" stroke-width="0.9"/>
<line x1="269" y1="213.6" x2="269" y2="215.2" stroke="#555" stroke-width="0.9"/>
<line x1="283.5" y1="213.6" x2="283.5" y2="215.2" stroke="#555" stroke-width="0.9"/>
<line x1="297.75" y1="213.6" x2="297.75" y2="215.2" stroke="#555" stroke-width="0.9"/>
<line x1="311.5" y1="213.6" x2="311.5" y2="215.2" stroke="#555" stroke-width="0.9"/>
<line x1="326" y1="213.6" x2="326" y2="215.2" stroke="#555" stroke-width="0.9"/>
<line x1="357.5" y1="213.6" x2="357.5" y2="215.2" stroke="#555" stroke-width="0.9"/>
<line x1="371.75" y1="213.6" x2="371.75" y2="215.2" stroke="#555" stroke-width="0.9"/>
<line x1="386" y1="213.6" x2="386" y2="215.2" stroke="#555" stroke-width="0.9"/>
<line x1="400" y1="213.6" x2="400" y2="215.2" stroke="#555" stroke-width="0.9"/>
<line x1="414.25" y1="213.6" x2="414.25" y2="215.2" stroke="#555" stroke-width="0.9"/>
<line x1="428" y1="213.6" x2="428" y2="215.2" stroke="#555" stroke-width="0.9"/>
<line x1="442.5" y1="213.6" x2="442.5" y2="215.2" stroke="#555" stroke-width="0.9"/>
<line x1="456.75" y1="213.6" x2="456.75" y2="215.2" stroke="#555" stroke-width="0.9"/>
<line x1="470.5" y1="213.6" x2="470.5" y2="215.2" stroke="#555" stroke-width="0.9"/>
<line x1="485" y1="213.6" x2="485" y2="215.2" stroke="#555" stroke-width="0.9"/>
<line x1="517" y1="213.6" x2="517" y2="215.2" stroke="#555" stroke-width="0.9"/>
<line x1="531.5" y1="213.6" x2="531.5" y2="215.2" stroke="#555" stroke-width="0.9"/>
<line x1="545.75" y1="213.6" x2="545.75" y2="215.2" stroke="#555" stroke-width="0.9"/>
<line x1="560" y1="213.6" x2="560" y2="215.2" stroke="#555" stroke-width="0.9"/>
<line x1="574" y1="213.6" x2="574" y2="215.2" stroke="#555" stroke-width="0.9"/>
<line x1="588.25" y1="213.6" x2="588.25" y2="215.2" stroke="#555" stroke-width="0.9"/>
<line x1="602" y1="213.6" x2="602" y2="215.2" stroke="#555" stroke-width="0.9"/>
<line x1="616.5" y1="213.6" x2="616.5" y2="215.2" stroke="#555" stroke-width="0.9"/>
<line x1="630" y1="213.6" x2="630" y2="215.2" stroke="#555" stroke-width="0.9"/>
<line x1="644.5" y1="213.6" x2="644.5" y2="215.2" stroke="#555" stroke-width="0.9"/>
<text transform="translate(41.07 225.1) scale(1.276 1)" font-size="13.9" fill="#000" stroke="#000" stroke-width="0.15">572.4</text>
<text transform="translate(123.05 225.1) scale(1.264 1)" font-size="13.9" fill="#000" stroke="#000" stroke-width="0.15">612.4</text>
<text transform="translate(196.69 225.1) scale(1.256 1)" font-size="13.9" fill="#000" stroke="#000" stroke-width="0.15">572.4</text>
<text transform="translate(278.46 225.1) scale(1.244 1)" font-size="13.9" fill="#000" stroke="#000" stroke-width="0.15">612.4</text>
<text transform="translate(362.42 225.1) scale(1.210 1)" font-size="13.9" fill="#000" stroke="#000" stroke-width="0.15">567.4</text>
<text transform="translate(438.55 225.1) scale(1.253 1)" font-size="13.84" fill="#000" stroke="#000" stroke-width="0.15">607.4</text>
<text transform="translate(521.49 225.1) scale(1.256 1)" font-size="13.9" fill="#000" stroke="#000" stroke-width="0.15">567.4</text>
<text transform="translate(598.95 225.1) scale(1.260 1)" font-size="13.84" fill="#000" stroke="#000" stroke-width="0.15">607.4</text>
<text transform="translate(159.97 136.84) scale(1.271 1)" font-size="12.24" fill="#000" stroke="#000" stroke-width="0.2">(e)</text>
<text transform="translate(319.44 138.01) scale(1.409 1)" font-size="11.45" fill="#000" stroke="#000" stroke-width="0.2">(f)</text>
<text transform="translate(474.74 136.81) scale(1.364 1)" font-size="11.76" fill="#000" stroke="#000" stroke-width="0.35">(g)</text>
<text transform="translate(633.05 136.94) scale(1.352 1)" font-size="11.8" fill="#000" stroke="#000" stroke-width="0.35">(h)</text>
<text transform="translate(160.23 154.5) scale(1.282 1)" font-size="8.3" fill="#9a6040" stroke="#9a6040" stroke-width="0.12">(e1)</text>
<text transform="translate(160.23 164.15) scale(1.282 1)" font-size="8.3" fill="#55aae8" stroke="#55aae8" stroke-width="0.12">(e2)</text>
<text transform="translate(160.23 175.95) scale(1.282 1)" font-size="8.3" fill="#c8a040" stroke="#c8a040" stroke-width="0.12">(e3)</text>
<text transform="translate(160.23 185) scale(1.282 1)" font-size="8.3" fill="#4a54b4" stroke="#4a54b4" stroke-width="0.12">(e4)</text>
<text transform="translate(161.23 195.95) scale(1.282 1)" font-size="8.3" fill="#d84878" stroke="#d84878" stroke-width="0.12">(e5)</text>
<text transform="translate(161.23 205.7) scale(1.282 1)" font-size="8.3" fill="#82b452" stroke="#82b452" stroke-width="0.12">(e6)</text>
<text transform="translate(315.74 150.34) scale(1.295 1)" font-size="8.1" fill="#9a6040" stroke="#9a6040" stroke-width="0.12">(f1)</text>
<text transform="translate(316.84 162.54) scale(1.295 1)" font-size="8.1" fill="#55aae8" stroke="#55aae8" stroke-width="0.12">(f2)</text>
<text transform="translate(317.94 174.74) scale(1.295 1)" font-size="8.1" fill="#c8a040" stroke="#c8a040" stroke-width="0.12">(f3)</text>
<text transform="translate(315.62 188.49) scale(1.339 1)" font-size="8.1" fill="#4a54b4" stroke="#4a54b4" stroke-width="0.12">(f4)</text>
<text transform="translate(317.61 200.49) scale(1.382 1)" font-size="8.1" fill="#d84878" stroke="#d84878" stroke-width="0.12">(f5)</text>
<text transform="translate(319.65 208.99) scale(1.251 1)" font-size="8.1" fill="#82b452" stroke="#82b452" stroke-width="0.12">(f6)</text>
<text transform="translate(474.93 152.53) scale(1.275 1)" font-size="8.3" fill="#9a6040" stroke="#9a6040" stroke-width="0.15">(g1)</text>
<text transform="translate(474.93 161.58) scale(1.275 1)" font-size="8.3" fill="#55aae8" stroke="#55aae8" stroke-width="0.15">(g2)</text>
<text transform="translate(474.94 173.63) scale(1.260 1)" font-size="8.3" fill="#c8a040" stroke="#c8a040" stroke-width="0.15">(g3)</text>
<text transform="translate(475.14 185.98) scale(1.260 1)" font-size="8.3" fill="#4a54b4" stroke="#4a54b4" stroke-width="0.15">(g4)</text>
<text transform="translate(478.63 200.98) scale(1.283 1)" font-size="8.3" fill="#d84878" stroke="#d84878" stroke-width="0.15">(g5)</text>
<text transform="translate(475.13 207.83) scale(1.283 1)" font-size="8.3" fill="#82b452" stroke="#82b452" stroke-width="0.15">(g6)</text>
<text transform="translate(632.43 152.75) scale(1.283 1)" font-size="8.3" fill="#9a6040" stroke="#9a6040" stroke-width="0.15">(h1)</text>
<text transform="translate(632.43 161) scale(1.283 1)" font-size="8.3" fill="#55aae8" stroke="#55aae8" stroke-width="0.15">(h2)</text>
<text transform="translate(633.12 167.75) scale(1.305 1)" font-size="8.3" fill="#c8a040" stroke="#c8a040" stroke-width="0.15">(h3)</text>
<text transform="translate(633.43 183.5) scale(1.283 1)" font-size="8.3" fill="#4a54b4" stroke="#4a54b4" stroke-width="0.15">(h4)</text>
<text transform="translate(634.83 195) scale(1.283 1)" font-size="8.3" fill="#d84878" stroke="#d84878" stroke-width="0.15">(h5)</text>
<text transform="translate(636.43 205.4) scale(1.283 1)" font-size="8.3" fill="#82b452" stroke="#82b452" stroke-width="0.15">(h6)</text>
<polyline points="39,146.94 39.6,147.42 40.2,147.29 40.8,146.81 41.4,146.84 42,146.66 42.6,146.66 43.2,146.62 43.8,146.01 44.4,145.89 45,146.44 45.6,146.18 46.2,146.5 46.8,146.08 47.4,146.54 48,146.88 48.6,146.65 49.2,147.27 49.8,147.29 50.4,146.67 51,146.73 51.6,147.2 52.2,147.61 52.8,147.37 53.4,147.42 54,147.74 54.6,147.64 55.2,147.95 55.8,148.26 56.4,148.43 57,148.34 57.6,148.39 58.2,148.4 58.8,148.57 59.4,148.46 60,148.27 60.6,148.87 61.2,148.68 61.8,148.75 62.4,148.43 63,149.03 63.6,148.95 64.2,148.43 64.8,148.6 65.4,148.89 66,148.9 66.6,149.08 67.2,148.72 67.8,149.02 68.4,148.91 69,148.65 69.6,148.86 70.2,149.07 70.8,149.03 71.4,148.73 72,148.73 72.6,148.25 73.2,148.3 73.8,148.59 74.4,148.2 75,147.91 75.6,148.07 76.2,148.07 76.8,147.94 77.4,147.63 78,147.59 78.6,147.58 79.2,147.72 79.8,147.52 80.4,147.42 81,147.48 81.6,147.12 82.2,147.1 82.8,147.53 83.4,147.68 84,147.34 84.6,147.13 85.2,146.9 85.8,147.07 86.4,147.34 87,147.11 87.6,146.87 88.2,147.02 88.8,146.49 89.4,146.62 90,146.86 90.6,146.53 91.2,146.38 91.8,146.19 92.4,146.34 93,146.59 93.6,145.88 94.2,146.41 94.8,146.43 95.4,146.48 96,146.37 96.6,146.41 97.2,146.19 97.8,146.21 98.4,146.09 99,145.81 99.6,146.38 100.2,146.14 100.8,145.86 101.4,146.06 102,146.03 102.6,145.93 103.2,145.91 103.8,146.04 104.4,146.09 105,146.08 105.6,146 106.2,145.78 106.8,146.05 107.4,146.18 108,146.65 108.6,147.04 109.2,147.19 109.8,147.36 110.4,147.53 111,147.24 111.6,147.73 112.2,147.63 112.8,147.25 113.4,147.29 114,147.43 114.6,148.15 115.2,148 115.8,148.14 116.4,148.78 117,148.87 117.6,148.99 118.2,149.37 118.8,149.96 119.4,150.03 120,150.43 120.6,151.06 121.2,151.18 121.8,151.37 122.4,151.74 123,151.65 123.6,152.12 124.2,152.31 124.8,152.27 125.4,152.29 126,152.89 126.6,152.61 127.2,152.39 127.8,152.68 128.4,152.83 129,152.25 129.6,152.25 130.2,152.35 130.8,152.76 131.4,152.36 132,152.75 132.6,152.73 133.2,152.63 133.8,152.4 134.4,152.94 135,152.81 135.6,152.61 136.2,152.4 136.8,152.71 137.4,152.52 138,152.65 138.6,152.47 139.2,152.69 139.8,152.28 140.4,152.45 141,152.94 141.6,152.87 142.2,152.46 142.8,152.86 143.4,152.46 144,152.92 144.6,152.78 145.2,152.54 145.8,152.42 146.4,152.25 147,152.87 147.6,152.27 148.2,152.83 148.8,152.93 149.4,152.65 150,152.36 150.6,152.86 151.2,152.94 151.8,152.75" fill="none" stroke="#74401e" stroke-width="1.5" stroke-linejoin="round" stroke-linecap="round"/>
<polyline points="39,159.39 39.6,159.39 40.2,159.02 40.8,159.04 41.4,159.37 42,159.34 42.6,159.32 43.2,159.18 43.8,159.33 44.4,159.34 45,159.35 45.6,159.19 46.2,159.32 46.8,159.31 47.4,159.47 48,159.59 48.6,159.58 49.2,159.42 49.8,159.38 50.4,159.31 51,159.22 51.6,159.24 52.2,159.46 52.8,159.44 53.4,159.51 54,159.78 54.6,159.67 55.2,159.74 55.8,159.66 56.4,159.62 57,159.8 57.6,159.76 58.2,159.95 58.8,160.19 59.4,160.07 60,159.87 60.6,160.18 61.2,160.19 61.8,160.24 62.4,160.4 63,160.46 63.6,160.59 64.2,160.55 64.8,160.95 65.4,161.09 66,160.89 66.6,161.28 67.2,161.38 67.8,161.39 68.4,161.5 69,161.55 69.6,161.77 70.2,161.6 70.8,161.7 71.4,161.42 72,161.55 72.6,161.45 73.2,161.16 73.8,161.12 74.4,161.2 75,161.09 75.6,160.94 76.2,160.68 76.8,160.51 77.4,160.43 78,159.95 78.6,160.04 79.2,159.6 79.8,159.78 80.4,159.52 81,159.78 81.6,159.65 82.2,159.54 82.8,159.52 83.4,159.53 84,159.46 84.6,159.3 85.2,159.2 85.8,159.27 86.4,159.39 87,159.2 87.6,158.91 88.2,159.16 88.8,159.07 89.4,159.09 90,158.73 90.6,158.91 91.2,158.57 91.8,158.78 92.4,158.58 93,158.53 93.6,158.78 94.2,158.44 94.8,158.61 95.4,158.75 96,158.48 96.6,158.46 97.2,158.72 97.8,158.51 98.4,158.61 99,158.3 99.6,158.41 100.2,158.3 100.8,158.49 101.4,158.21 102,158.56 102.6,158.14 103.2,158.42 103.8,158.11 104.4,158.2 105,158.43 105.6,158.18 106.2,158.26 106.8,158.58 107.4,158.58 108,158.58 108.6,159.13 109.2,158.93 109.8,159.02 110.4,159.28 111,159.48 111.6,159.59 112.2,159.34 112.8,159.46 113.4,159.4 114,159.67 114.6,159.92 115.2,160.06 115.8,160.29 116.4,160.42 117,160.66 117.6,160.81 118.2,160.94 118.8,161.06 119.4,161.48 120,161.57 120.6,161.71 121.2,162.08 121.8,162.48 122.4,162.37 123,162.75 123.6,162.84 124.2,163.05 124.8,163.02 125.4,163.47 126,163.25 126.6,163.44 127.2,163.37 127.8,163.2 128.4,163.42 129,163.25 129.6,163.21 130.2,163.2 130.8,163.26 131.4,163.23 132,163.46 132.6,163.4 133.2,163.6 133.8,163.58 134.4,163.61 135,163.29 135.6,163.38 136.2,163.3 136.8,163.44 137.4,163.45 138,163.53 138.6,163.49 139.2,163.3 139.8,163.37 140.4,163.41 141,163.19 141.6,163.2 142.2,163.36 142.8,163.24 143.4,163.49 144,163.29 144.6,163.23 145.2,163.27 145.8,163.29 146.4,163.28 147,163.41 147.6,163.39 148.2,163.32 148.8,163.46 149.4,163.28 150,163.57 150.6,163.59 151.2,163.5 151.8,163.37" fill="none" stroke="#4ea6e6" stroke-width="1.5" stroke-linejoin="round" stroke-linecap="round"/>
<polyline points="39,171.51 39.6,171.61 40.2,171.53 40.8,171.59 41.4,171.57 42,171.33 42.6,171.27 43.2,171.53 43.8,171.27 44.4,171.21 45,171.44 45.6,171.2 46.2,171.29 46.8,171.11 47.4,171.13 48,170.93 48.6,171.07 49.2,171.14 49.8,171.01 50.4,171.09 51,171.1 51.6,170.93 52.2,171.25 52.8,171.28 53.4,171.28 54,171.29 54.6,171.7 55.2,171.68 55.8,171.88 56.4,172.05 57,172.1 57.6,172.26 58.2,172.15 58.8,172.36 59.4,172.27 60,172.46 60.6,172.44 61.2,172.17 61.8,172.19 62.4,172.24 63,172.53 63.6,172.36 64.2,172.46 64.8,172.37 65.4,172.47 66,172.45 66.6,172.46 67.2,172.57 67.8,172.59 68.4,172.72 69,172.65 69.6,172.75 70.2,172.72 70.8,172.73 71.4,172.54 72,172.25 72.6,172.38 73.2,172.28 73.8,172.11 74.4,171.85 75,171.77 75.6,171.48 76.2,171.62 76.8,171.47 77.4,171.3 78,171 78.3,171.11 78.5,171.02 78.7,170.52 78.9,170.55 79.1,170.1 79.3,169.5 79.5,168.67 79.7,167.34 79.9,166.21 80.1,166.98 80.3,168.6 80.5,169.19 80.7,169.86 80.9,169.95 81.1,170.28 81.3,170.41 81.5,170.3 81.6,170.5 82.2,170.33 82.8,170.28 83.4,170.49 84,170.29 84.6,170.36 85.2,170.44 85.8,170.51 86.4,170.34 87,170.3 87.6,170.6 88.2,170.39 88.8,170.62 89.4,170.6 90,170.41 90.6,170.43 91.2,170.45 91.8,170.49 92.4,170.47 93,170.45 93.6,170.47 94.2,170.58 94.8,170.41 95.4,170.38 96,170.48 96.6,170.3 97.2,170.32 97.8,170.56 98.4,170.39 99,170.39 99.6,170.19 100.2,170.33 100.8,170.39 101.4,170.18 102,170.39 102.6,170.39 103.2,170.18 103.8,170.38 104.4,170.32 105,170.39 105.6,170.27 106.2,170.39 106.8,170.4 107.4,170.14 108,170.15 108.6,170.37 109.2,170.47 109.8,170.21 110.4,170.29 111,170.33 111.6,170.23 112.2,170.25 112.8,170.28 113.4,170.39 114,170.61 114.6,170.67 115.2,170.91 115.8,171.29 116.4,171.27 117,171.74 117.6,172.09 118.2,172.23 118.8,172.5 119.4,173 120,173.09 120.6,173.34 121.2,173.69 121.8,174.02 122.4,174.01 123,174.26 123.6,174.4 124.2,174.67 124.8,174.57 125.4,174.73 126,174.48 126.6,174.54 127.2,174.65 127.8,174.74 128.4,174.58 129,174.5 129.6,174.46 130.2,174.61 130.8,174.49 131.4,174.71 132,174.72 132.6,174.49 133.2,174.52 133.8,174.71 134.4,174.65 135,174.71 135.6,174.54 136.2,174.47 136.8,174.52 137.4,174.71 138,174.52 138.6,174.54 139.2,174.57 139.8,174.57 140.4,174.57 141,174.75 141.6,174.48 142.2,174.42 142.8,174.76 143.4,174.74 144,174.78 144.6,174.58 145.2,174.76 145.8,174.75 146.4,174.5 147,174.69 147.6,174.72 148.2,174.66 148.8,174.61 149.4,174.52 150,174.54 150.6,174.5 151.2,174.44 151.8,174.63" fill="none" stroke="#8d8a2c" stroke-width="1.5" stroke-linejoin="round" stroke-linecap="round"/>
<polyline points="39,182.72 39.6,182.68 40.2,182.77 40.8,182.7 41.4,182.68 42,182.78 42.6,182.94 43.2,182.91 43.8,182.9 44.4,182.75 45,182.85 45.6,182.78 46.2,182.75 46.8,182.74 47.4,182.78 48,183.01 48.6,182.98 49.2,182.99 49.8,182.99 50.4,182.82 51,182.86 51.6,182.97 52.2,183.01 52.8,183.05 53.4,183.06 54,182.83 54.6,183 55.2,183.02 55.8,182.98 56.4,182.88 57,182.98 57.6,182.87 58.2,183.12 58.8,183.1 59.4,183.01 60,182.94 60.6,183.12 61.2,183.03 61.8,183.13 62.4,183.13 63,183.04 63.6,183.03 64.2,183.11 64.8,183.08 65.4,183.02 66,183.08 66.6,183.26 67.2,183.05 67.8,183.07 68.4,183.26 69,183.17 69.6,183.26 70.2,183.26 70.8,183.22 71.4,183.42 72,183.18 72.6,183.19 73.2,182.98 73.8,182.91 74.4,182.57 75,182.34 75.6,182.23 76.2,181.91 76.8,181.85 77.4,181.84 78,181.32 78.3,181.06 78.5,180.89 78.7,180.74 78.9,180.25 79.1,179.43 79.3,178.28 79.5,176.17 79.7,173.07 79.9,170.81 80.1,173.08 80.3,176.27 80.5,178.31 80.7,179.37 80.9,180.09 81.1,180.21 81.3,180.54 81.5,180.92 81.6,180.93 82.2,181.06 82.8,181.33 83.4,181.3 84,181.39 84.6,181.25 85.2,181.24 85.8,181.32 86.4,181.23 87,181.31 87.6,181.48 88.2,181.3 88.8,181.2 89.4,181.21 90,181.24 90.6,181.42 91.2,181.29 91.8,181.27 92.4,181.2 93,181.47 93.6,181.29 94.2,181.22 94.8,181.17 95.4,181.17 96,181.2 96.6,181.34 97.2,181.18 97.8,181.14 98.4,181.27 99,181.19 99.6,181.41 100.2,181.15 100.8,181.26 101.4,181.33 102,181.22 102.6,181.39 103.2,181.23 103.8,181.15 104.4,181.2 105,181.08 105.6,181.2 106.2,181.14 106.8,181.33 107.4,181.31 108,181.21 108.6,181.06 109.2,181.13 109.8,181.12 110.4,181.11 111,181.12 111.6,181.31 112.2,181.1 112.8,181.14 113.4,181.55 114,181.66 114.6,182.04 115.2,182.16 115.8,182.61 116.4,182.85 117,183.2 117.6,183.47 118.2,183.64 118.8,183.71 119.4,183.87 120,184.11 120.6,184.12 121.2,184.13 121.8,183.95 122.4,184.05 123,184.09 123.6,184.05 124.2,184.1 124.8,184.02 125.4,184.06 126,184.07 126.6,183.95 127.2,184.15 127.8,184.17 128.4,183.91 129,184.18 129.6,184.18 130.2,184.1 130.8,183.92 131.4,184.18 132,183.95 132.6,184.21 133.2,184.12 133.8,183.95 134.4,183.98 135,184.13 135.6,184.12 136.2,184.18 136.8,184.24 137.4,184.03 138,183.97 138.6,184.25 139.2,183.98 139.8,184.25 140.4,184.02 141,184.24 141.6,184.23 142.2,184.27 142.8,184.17 143.4,184.28 144,184.08 144.6,184.22 145.2,184.13 145.8,184.3 146.4,184.27 147,184.18 147.6,184.2 148.2,184.05 148.8,184.05 149.4,184.22 150,184.19 150.6,184.31 151.2,184.23 151.8,184.09" fill="none" stroke="#4c4fb4" stroke-width="1.5" stroke-linejoin="round" stroke-linecap="round"/>
<polyline points="39,193.93 39.6,193.96 40.2,193.97 40.8,194 41.4,193.96 42,194 42.6,193.79 43.2,193.89 43.8,194 44.4,193.93 45,193.99 45.6,193.81 46.2,193.89 46.8,193.84 47.4,193.91 48,193.92 48.6,193.78 49.2,193.83 49.8,193.85 50.4,194 51,193.96 51.6,193.82 52.2,193.97 52.8,193.81 53.4,193.93 54,193.81 54.6,193.78 55.2,193.99 55.8,193.83 56.4,193.83 57,194.01 57.6,193.99 58.2,193.85 58.8,194.01 59.4,193.91 60,193.94 60.6,193.82 61.2,194 61.8,193.94 62.4,194.01 63,193.99 63.6,193.84 64.2,193.86 64.8,193.81 65.4,193.81 66,193.79 66.6,193.84 67.2,193.91 67.8,193.77 68.4,193.93 69,193.85 69.6,193.84 70.2,193.96 70.8,193.87 71.4,193.83 72,193.87 72.6,193.91 73.2,193.75 73.8,193.96 74.4,193.72 75,193.88 75.6,193.88 76.2,193.65 76.8,193.78 77.4,193.58 78,193.43 78.3,193.11 78.5,192.92 78.7,192.67 78.9,192.42 79.1,191.53 79.3,190.42 79.5,188.25 79.7,184.81 79.9,182.36 80.1,184.67 80.3,188.16 80.5,190.43 80.7,191.51 80.9,192.37 81.1,192.82 81.3,193.12 81.5,193.11 81.6,193.4 82.2,193.46 82.8,193.65 83.4,193.78 84,193.89 84.6,193.78 85.2,193.94 85.8,193.86 86.4,193.81 87,193.82 87.6,193.79 88.2,193.77 88.8,193.79 89.4,193.93 90,194 90.6,193.8 91.2,193.78 91.8,194 92.4,193.9 93,193.87 93.6,193.83 94.2,193.91 94.8,193.97 95.4,193.88 96,193.87 96.6,193.79 97.2,193.99 97.8,193.78 98.4,193.89 99,193.98 99.6,193.81 100.2,193.95 100.8,194 101.4,193.93 102,193.97 102.6,193.8 103.2,193.88 103.8,193.81 104.4,193.98 105,193.85 105.6,193.89 106.2,194.02 106.8,193.98 107.4,194.01 108,193.89 108.6,193.89 109.2,193.95 109.8,193.89 110.4,193.85 111,193.88 111.6,193.81 112.2,193.87 112.8,194.02 113.4,194.01 114,193.93 114.6,193.9 115.2,193.86 115.8,193.8 116.4,193.84 117,193.97 117.6,193.99 118.2,193.87 118.8,193.97 119.4,193.96 120,193.95 120.6,193.94 121.2,193.96 121.8,193.87 122.4,193.95 123,193.85 123.6,193.9 124.2,193.96 124.8,193.94 125.4,193.85 126,194.01 126.6,193.94 127.2,193.92 127.8,193.78 128.4,193.91 129,193.84 129.6,193.94 130.2,193.89 130.8,193.98 131.4,193.93 132,193.97 132.6,193.86 133.2,193.93 133.8,193.96 134.4,193.98 135,193.86 135.6,193.98 136.2,193.99 136.8,193.94 137.4,194.01 138,194.01 138.6,193.9 139.2,193.91 139.8,193.82 140.4,193.98 141,194 141.6,193.89 142.2,193.95 142.8,193.95 143.4,193.95 144,193.82 144.6,193.97 145.2,193.92 145.8,193.94 146.4,193.88 147,193.93 147.6,193.97 148.2,193.93 148.8,193.95 149.4,193.79 150,193.82 150.6,193.89 151.2,193.94 151.8,193.83" fill="none" stroke="#d4488a" stroke-width="1.5" stroke-linejoin="round" stroke-linecap="round"/>
<polyline points="39,205.57 39.6,205.58 40.2,205.5 40.8,205.44 41.4,205.38 42,205.54 42.6,205.49 43.2,205.56 43.8,205.47 44.4,205.56 45,205.44 45.6,205.57 46.2,205.55 46.8,205.48 47.4,205.51 48,205.54 48.6,205.42 49.2,205.51 49.8,205.57 50.4,205.44 51,205.57 51.6,205.54 52.2,205.58 52.8,205.46 53.4,205.4 54,205.57 54.6,205.57 55.2,205.48 55.8,205.4 56.4,205.42 57,205.53 57.6,205.45 58.2,205.61 58.8,205.52 59.4,205.43 60,205.53 60.6,205.46 61.2,205.6 61.8,205.59 62.4,205.5 63,205.53 63.6,205.54 64.2,205.57 64.8,205.61 65.4,205.38 66,205.46 66.6,205.52 67.2,205.44 67.8,205.51 68.4,205.39 69,205.58 69.6,205.49 70.2,205.39 70.8,205.52 71.4,205.44 72,205.41 72.6,205.47 73.2,205.38 73.8,205.39 74.4,205.54 75,205.49 75.6,205.31 76.2,205.47 76.8,205.25 77.4,205.25 78,205.24 78.3,205.04 78.5,204.83 78.7,204.64 78.9,204.33 79.1,203.75 79.3,203.07 79.5,201.24 79.7,198.84 79.9,197.26 80.1,198.84 80.3,201.47 80.5,202.89 80.7,203.96 80.9,204.45 81.1,204.71 81.3,204.97 81.5,205 81.6,205.14 82.2,205.33 82.8,205.35 83.4,205.39 84,205.47 84.6,205.42 85.2,205.35 85.8,205.52 86.4,205.41 87,205.47 87.6,205.55 88.2,205.4 88.8,205.37 89.4,205.39 90,205.51 90.6,205.46 91.2,205.43 91.8,205.48 92.4,205.59 93,205.43 93.6,205.47 94.2,205.58 94.8,205.52 95.4,205.44 96,205.49 96.6,205.49 97.2,205.41 97.8,205.47 98.4,205.45 99,205.57 99.6,205.45 100.2,205.53 100.8,205.61 101.4,205.6 102,205.47 102.6,205.52 103.2,205.45 103.8,205.47 104.4,205.49 105,205.57 105.6,205.6 106.2,205.45 106.8,205.38 107.4,205.49 108,205.39 108.6,205.39 109.2,205.56 109.8,205.41 110.4,205.55 111,205.47 111.6,205.6 112.2,205.58 112.8,205.39 113.4,205.43 114,205.61 114.6,205.53 115.2,205.48 115.8,205.57 116.4,205.57 117,205.5 117.6,205.49 118.2,205.4 118.8,205.47 119.4,205.41 120,205.53 120.6,205.52 121.2,205.41 121.8,205.53 122.4,205.4 123,205.4 123.6,205.53 124.2,205.49 124.8,205.6 125.4,205.53 126,205.55 126.6,205.41 127.2,205.58 127.8,205.4 128.4,205.53 129,205.6 129.6,205.6 130.2,205.59 130.8,205.49 131.4,205.55 132,205.57 132.6,205.41 133.2,205.61 133.8,205.6 134.4,205.49 135,205.57 135.6,205.49 136.2,205.45 136.8,205.55 137.4,205.39 138,205.57 138.6,205.61 139.2,205.45 139.8,205.61 140.4,205.4 141,205.59 141.6,205.45 142.2,205.61 142.8,205.48 143.4,205.6 144,205.39 144.6,205.4 145.2,205.58 145.8,205.53 146.4,205.51 147,205.39 147.6,205.42 148.2,205.47 148.8,205.39 149.4,205.62 150,205.56 150.6,205.61 151.2,205.55 151.8,205.46" fill="none" stroke="#84a23e" stroke-width="1.5" stroke-linejoin="round" stroke-linecap="round"/>
<polyline points="198.5,147.87 199.1,147.95 199.7,148.2 200.3,147.98 200.9,148.07 201.5,148.2 202.1,148.04 202.7,148.32 203.3,148.47 203.9,148.64 204.5,148.29 205.1,148.51 205.7,148.79 206.3,149.91 206.9,149.65 207.5,148.58 208.1,148.91 208.7,148.88 209.3,148.69 209.9,148.66 210.5,148.38 211.1,148.3 211.7,148.6 212.3,148.32 212.9,148.39 213.5,148.42 214.1,148.29 214.7,148.55 215.3,148.53 215.9,148.76 216.5,148.57 217.1,148.63 217.7,148.55 218.3,148.64 218.9,148.51 219.5,148.4 220.1,148.82 220.7,148.82 221.3,148.72 221.9,148.63 222.5,148.39 223.1,148.34 223.7,148.37 224.3,148.23 224.9,148.64 225.5,148.42 226.1,148.68 226.7,148.4 227.3,148.74 227.9,148.67 228.5,148.15 229.1,148.27 229.7,148.69 230.3,148.42 230.9,148.72 231.5,148.37 232.1,148.17 232.7,148.5 233.3,148.59 233.9,148.28 234.5,148.17 235.1,148.31 235.7,148.69 236.3,148.56 236.9,148.18 237.5,148.25 238.1,148.16 238.7,148.14 239.3,148.58 239.9,148.21 240.5,148.44 241.1,148.37 241.7,148.21 242.3,148.53 242.9,148.17 243.5,148.47 244.1,148.15 244.7,148.33 245.3,148.2 245.9,148.23 246.5,148.64 247.1,148.53 247.7,148.23 248.3,148.57 248.9,148.15 249.5,148.26 250.1,148.52 250.7,148.39 251.3,148.06 251.9,148.58 252.5,148.11 253.1,148.13 253.7,148.43 254.3,148.15 254.9,148.16 255.5,148.36 256.1,149.39 256.7,149.97 257.3,148.73 257.9,148.36 258.5,148.14 259.1,148.18 259.7,148.48 260.3,148.19 260.9,148.25 261.5,148.42 262.1,148.01 262.7,147.98 263.3,148.42 263.9,148.33 264.5,147.95 265.1,147.87 265.7,148.15 266.3,148.21 266.9,147.7 267.5,148.08 268.1,147.98 268.7,147.74 269.3,147.56 269.9,147.3 270.5,147.2 271.1,147.69 271.7,147.2 272.3,147.43 272.9,147.12 273.5,147.43 274.1,147.27 274.7,147.08 275.3,147.03 275.9,147.88 276.5,148.44 277.1,147.58 277.7,147.26 278.3,147.4 278.9,147.26 279.5,147.05 280.1,147.43 280.7,147 281.3,146.88 281.9,147.02 282.5,147.12 283.1,146.88 283.7,146.95 284.3,147.05 284.9,147.17 285.5,146.9 286.1,147.03 286.7,147.34 287.3,147.38 287.9,147.18 288.5,147.19 289.1,147.11 289.7,146.84 290.3,146.77 290.9,146.75 291.5,147.27 292.1,147.14 292.7,147.28 293.3,146.71 293.9,147.07 294.5,146.96 295.1,147.1 295.7,146.85 296.3,147.25 296.9,146.68 297.5,146.95 298.1,147.06 298.7,147.15 299.3,147.04 299.9,147.01 300.5,147.06 301.1,147.12 301.7,146.78 302.3,146.97 302.9,147.09 303.5,147.07 304.1,146.79 304.7,147.01 305.3,147.04 305.9,146.87 306.5,146.89 307.1,146.74 307.7,146.86 308.3,146.87 308.9,146.55 309.5,146.89 310.1,147.1 310.7,147.03" fill="none" stroke="#74401e" stroke-width="1.5" stroke-linejoin="round" stroke-linecap="round"/>
<polyline points="198.5,160.99 199.1,161.09 199.7,161.1 200.3,160.83 200.9,160.77 201.5,160.98 202.1,160.95 202.7,161.26 203.3,161.23 203.9,161.21 204.5,161.21 205.1,161.3 205.7,161.05 206.3,161.24 206.9,161.13 207.5,161.56 208.1,161.13 208.7,161.58 209.3,161.2 209.9,161.56 210.5,161.4 211.1,161.46 211.7,161.72 212.3,161.3 212.9,161.34 213.5,161.81 214.1,161.6 214.7,161.38 215.3,161.86 215.9,161.85 216.5,161.4 217.1,161.58 217.7,161.44 218.3,161.55 218.9,161.74 219.5,161.52 220.1,161.83 220.7,161.51 221.3,161.6 221.9,161.98 222.5,161.79 223.1,161.83 223.7,161.96 224.3,161.93 224.9,161.91 225.5,161.75 226.1,162.16 226.7,162.32 227.3,162.36 227.9,162.22 228.5,162.08 229.1,162.11 229.7,162.31 230.3,162.32 230.9,162.04 231.5,162.12 232.1,162.21 232.7,162.3 233.3,162.46 233.9,162.3 234.5,162.04 235.1,162.47 235.7,162.24 236.3,162.28 236.9,162.1 237.5,162.19 238.1,162.14 238.7,162.32 239.3,161.93 239.9,162.13 240.5,161.9 241.1,162.14 241.7,161.75 242.3,161.83 242.9,161.83 243.5,161.95 244.1,161.59 244.7,161.76 245.3,161.59 245.9,161.58 246.5,161.65 247.1,161.87 247.7,161.57 248.3,161.79 248.9,161.32 249.5,161.7 250.1,161.36 250.7,161.24 251.3,161.52 251.9,161.58 252.5,161.07 253.1,161.2 253.7,161.46 254.3,161.22 254.9,161.16 255.5,161.03 256.1,161.04 256.7,161.33 257.3,161.5 257.9,161.48 258.5,161.17 259.1,160.87 259.7,160.99 260.3,161.19 260.9,161.16 261.5,161 262.1,160.72 262.7,160.82 263.3,160.73 263.9,160.75 264.5,160.5 265.1,160.81 265.7,160.73 266.3,160.28 266.9,160.3 267.5,160.56 268.1,160.2 268.7,160.52 269.3,160.26 269.9,160.33 270.5,160.32 271.1,160.05 271.7,160.08 272.3,160.07 272.9,160.31 273.5,160.32 274.1,160.03 274.7,160.46 275.3,160.22 275.9,160.15 276.5,160.27 277.1,160.59 277.7,160.39 278.3,160.45 278.9,160.64 279.5,160.69 280.1,160.61 280.7,160.45 281.3,160.57 281.9,160.77 282.5,160.74 283.1,160.66 283.7,160.56 284.3,160.59 284.9,160.82 285.5,160.74 286.1,160.47 286.7,160.86 287.3,160.98 287.9,160.94 288.5,161 289.1,161.02 289.7,160.82 290.3,160.96 290.9,160.74 291.5,160.59 292.1,160.73 292.7,160.71 293.3,161.05 293.9,160.92 294.5,160.85 295.1,160.9 295.7,160.63 296.3,160.86 296.9,160.96 297.5,160.8 298.1,160.73 298.7,160.82 299.3,160.79 299.9,160.99 300.5,160.71 301.1,160.69 301.7,160.82 302.3,161.03 302.9,161.07 303.5,161.03 304.1,161.18 304.7,160.88 305.3,160.71 305.9,160.96 306.5,160.95 307.1,160.81 307.7,161.08 308.3,160.91 308.9,160.85 309.5,160.9 310.1,161.24 310.7,160.73" fill="none" stroke="#4ea6e6" stroke-width="1.5" stroke-linejoin="round" stroke-linecap="round"/>
<polyline points="198.5,173.73 199.1,173.86 199.7,173.85 200.3,173.9 200.9,173.71 201.5,173.72 202.1,173.69 202.7,173.72 203.3,173.87 203.9,173.69 204.5,173.81 205.1,173.71 205.7,173.74 206.3,173.78 206.9,173.9 207.5,173.83 208.1,173.65 208.7,173.73 209.3,173.69 209.9,173.91 210.5,173.89 211.1,173.89 211.7,173.9 212.3,173.87 212.9,173.93 213.5,173.89 214.1,173.73 214.7,173.9 215.3,173.8 215.9,173.88 216.5,173.82 217.1,173.78 217.7,173.76 218.3,173.78 218.9,173.74 219.5,173.68 220.1,173.89 220.7,173.89 221.3,173.94 221.9,173.86 222.5,173.81 223.1,173.87 223.7,173.69 224.3,173.85 224.9,173.78 225.5,173.7 226.1,173.71 226.7,173.8 227.3,173.72 227.9,173.78 228.5,173.83 229.1,173.76 229.7,173.68 230.3,173.79 230.9,173.71 231.5,173.71 232.1,173.7 232.7,173.75 233.3,173.66 233.9,173.83 234.5,173.91 235.1,173.74 235.7,173.83 236.3,173.87 236.9,173.57 237.4,173.53 237.6,173.68 237.8,173.62 238,173.45 238.2,173.12 238.4,172.86 238.6,172.35 238.8,171.2 239,170.29 239.2,171 239.4,172.35 239.6,172.85 239.8,173.29 240,173.3 240.2,173.66 240.4,173.62 240.6,173.7 241.1,173.62 241.7,173.78 242.3,173.79 242.9,173.8 243.5,173.74 244.1,173.86 244.7,173.75 245.3,173.74 245.9,173.7 246.5,173.86 247.1,173.69 247.7,173.73 248.3,173.69 248.9,173.86 249.5,173.84 250.1,173.84 250.7,173.69 251.3,173.81 251.9,173.79 252.5,173.72 253.1,173.69 253.7,174 254.3,173.74 254.9,173.79 255.5,173.79 256.1,173.89 256.7,173.74 257.3,173.86 257.9,173.83 258.5,173.97 259.1,173.73 259.7,173.83 260.3,173.88 260.9,174.02 261.5,173.89 262.1,173.88 262.7,173.94 263.3,173.83 263.9,173.75 264.5,173.9 265.1,174.02 265.7,173.97 266.3,173.83 266.9,173.95 267.5,174 268.1,173.83 268.7,173.96 269.3,173.96 269.9,174.03 270.5,174.18 271.1,174.32 271.7,174.56 272.3,174.67 272.9,175 273.5,175.13 274.1,175.57 274.7,175.75 275.3,175.8 275.9,176.24 276.5,176.27 277.1,176.54 277.7,176.72 278.3,176.78 278.9,176.86 279.5,176.96 280.1,176.89 280.7,177.11 281.3,176.88 281.9,177.1 282.5,176.92 283.1,176.95 283.7,176.97 284.3,176.87 284.9,176.9 285.5,176.97 286.1,177 286.7,177.14 287.3,177.17 287.9,176.9 288.5,177.05 289.1,176.93 289.7,177.14 290.3,177 290.9,177.17 291.5,177.08 292.1,176.96 292.7,176.92 293.3,177 293.9,177.19 294.5,176.99 295.1,177.09 295.7,177.06 296.3,177.06 296.9,177.2 297.5,177.03 298.1,177.19 298.7,177.18 299.3,177.27 299.9,177.15 300.5,177.27 301.1,177.13 301.7,177.18 302.3,177.2 302.9,177.27 303.5,177.29 304.1,177.06 304.7,177.07 305.3,177.19 305.9,177.28 306.5,177.2 307.1,177.13 307.7,177.33 308.3,177.13 308.9,177.07 309.5,177.06 310.1,177.06 310.7,177.27" fill="none" stroke="#8d8a2c" stroke-width="1.5" stroke-linejoin="round" stroke-linecap="round"/>
<polyline points="198.5,185.08 199.1,185.26 199.7,185.25 200.3,185.34 200.9,185.15 201.5,185.16 202.1,185.32 202.7,185.31 203.3,185.22 203.9,185.35 204.5,185.29 205.1,185.43 205.7,185.26 206.3,185.31 206.9,185.55 207.5,185.41 208.1,185.42 208.7,185.61 209.3,185.59 209.9,185.48 210.5,185.64 211.1,185.71 211.7,185.6 212.3,185.78 212.9,185.66 213.5,185.77 214.1,185.73 214.7,185.81 215.3,186.08 215.9,185.95 216.5,186.16 217.1,186.04 217.7,186.13 218.3,186.25 218.9,186.23 219.5,186.1 220.1,186.28 220.7,186.33 221.3,186.23 221.9,186.25 222.5,186.52 223.1,186.44 223.7,186.38 224.3,186.49 224.9,186.45 225.5,186.65 226.1,186.59 226.7,186.5 227.3,186.74 227.9,186.55 228.5,186.62 229.1,186.57 229.7,186.8 230.3,186.63 230.9,186.76 231.5,186.64 232.1,186.77 232.7,186.83 233.3,186.79 233.9,186.76 234.5,186.76 235.1,186.74 235.7,186.77 236.3,186.58 236.9,186.64 237.4,186.46 237.6,186.58 237.8,186.49 238,186.06 238.2,185.8 238.4,185.45 238.6,184.42 238.8,182.49 239,181.34 239.2,182.77 239.4,184.37 239.6,185.34 239.8,185.92 240,186.31 240.2,186.27 240.4,186.39 240.6,186.43 241.1,186.66 241.7,186.66 242.3,186.62 242.9,186.67 243.5,186.57 244.1,186.66 244.7,186.86 245.3,186.74 245.9,186.64 246.5,186.83 247.1,186.66 247.7,186.62 248.3,186.55 248.9,186.58 249.5,186.59 250.1,186.59 250.7,186.78 251.3,186.59 251.9,186.58 252.5,186.68 253.1,186.77 253.7,186.58 254.3,186.71 254.9,186.59 255.5,186.64 256.1,186.65 256.7,186.75 257.3,186.69 257.9,186.61 258.5,186.71 259.1,186.56 259.7,186.57 260.3,186.74 260.9,186.61 261.5,186.68 262.1,186.54 262.7,186.73 263.3,186.65 263.9,186.55 264.5,186.77 265.1,186.66 265.7,186.65 266.3,186.65 266.9,186.64 267.5,186.71 268.1,186.9 268.7,186.78 269.3,186.86 269.9,186.97 270.5,187.05 271.1,187.06 271.7,187.24 272.3,187.14 272.9,187.23 273.5,187.31 274.1,187.29 274.7,187.38 275.3,187.42 275.9,187.66 276.5,187.55 277.1,187.77 277.7,187.7 278.3,187.89 278.9,187.95 279.5,187.92 280.1,188.16 280.7,188.13 281.3,188.16 281.9,188.06 282.5,188.22 283.1,188.22 283.7,188.33 284.3,188.51 284.9,188.53 285.5,188.33 286.1,188.55 286.7,188.65 287.3,188.56 287.9,188.45 288.5,188.69 289.1,188.57 289.7,188.74 290.3,188.71 290.9,188.7 291.5,188.74 292.1,188.5 292.7,188.73 293.3,188.6 293.9,188.57 294.5,188.67 295.1,188.76 295.7,188.61 296.3,188.78 296.9,188.91 297.5,188.86 298.1,188.91 298.7,188.87 299.3,189.11 299.9,188.94 300.5,189.1 301.1,189.13 301.7,188.98 302.3,189.31 302.9,189.12 303.5,189.38 304.1,189.4 304.7,189.43 305.3,189.44 305.9,189.34 306.5,189.38 307.1,189.37 307.7,189.57 308.3,189.32 308.9,189.37 309.5,189.62 310.1,189.59 310.7,189.56" fill="none" stroke="#4c4fb4" stroke-width="1.5" stroke-linejoin="round" stroke-linecap="round"/>
<polyline points="198.5,198.11 199.1,197.88 199.7,198.06 200.3,197.92 200.9,198.13 201.5,197.9 202.1,198.12 202.7,198.08 203.3,198.14 203.9,198.18 204.5,198.01 205.1,198.05 205.7,198.16 206.3,198.07 206.9,198.08 207.5,198.09 208.1,198.26 208.7,198.29 209.3,198.29 209.9,198.17 210.5,198.36 211.1,198.28 211.7,198.24 212.3,198.31 212.9,198.33 213.5,198.27 214.1,198.41 214.7,198.38 215.3,198.45 215.9,198.56 216.5,198.52 217.1,198.48 217.7,198.61 218.3,198.67 218.9,198.57 219.5,198.7 220.1,198.49 220.7,198.54 221.3,198.57 221.9,198.77 222.5,198.73 223.1,198.75 223.7,198.66 224.3,198.73 224.9,198.83 225.5,198.65 226.1,198.67 226.7,198.66 227.3,198.77 227.9,198.86 228.5,198.8 229.1,198.76 229.7,198.79 230.3,198.71 230.9,198.89 231.5,198.75 232.1,198.72 232.7,198.74 233.3,198.86 233.9,198.73 234.5,198.87 235.1,198.72 235.7,198.72 236.3,198.6 236.9,198.72 237.4,198.56 237.6,198.38 237.8,198.15 238,198.02 238.2,197.62 238.4,197.09 238.6,195.96 238.8,194.11 239,192.81 239.2,193.95 239.4,195.96 239.6,197.13 239.8,197.59 240,198.04 240.2,198.27 240.4,198.54 240.6,198.42 241.1,198.57 241.7,198.85 242.3,198.84 242.9,198.84 243.5,198.95 244.1,198.92 244.7,198.96 245.3,198.88 245.9,198.85 246.5,198.85 247.1,198.94 247.7,199.03 248.3,198.98 248.9,198.99 249.5,199.07 250.1,199.1 250.7,199.09 251.3,199.04 251.9,199.18 252.5,199.19 253.1,199.23 253.7,199.24 254.3,199.05 254.9,199.22 255.5,199.16 256.1,199.19 256.7,199.23 257.3,199.16 257.9,199.2 258.5,199.4 259.1,199.26 259.7,199.41 260.3,199.38 260.9,199.31 261.5,199.33 262.1,199.41 262.7,199.45 263.3,199.39 263.9,199.34 264.5,199.38 265.1,199.57 265.7,199.55 266.3,199.42 266.9,199.62 267.5,199.57 268.1,199.53 268.7,199.69 269.3,199.52 269.9,199.53 270.5,199.61 271.1,199.73 271.7,199.7 272.3,199.7 272.9,199.82 273.5,199.72 274.1,199.83 274.7,199.66 275.3,199.87 275.9,199.74 276.5,199.87 277.1,199.94 277.7,199.91 278.3,199.91 278.9,199.92 279.5,199.99 280.1,199.91 280.7,199.9 281.3,200 281.9,200 282.5,199.92 283.1,200.04 283.7,200.04 284.3,199.98 284.9,200.13 285.5,200.17 286.1,200.08 286.7,200.22 287.3,200.27 287.9,200.2 288.5,200.16 289.1,200.14 289.7,200.12 290.3,200.17 290.9,200.36 291.5,200.15 292.1,200.37 292.7,200.33 293.3,200.36 293.9,200.21 294.5,200.35 295.1,200.26 295.7,200.38 296.3,200.42 296.9,200.42 297.5,200.38 298.1,200.48 298.7,200.33 299.3,200.32 299.9,200.5 300.5,200.31 301.1,200.41 301.7,200.42 302.3,200.54 302.9,200.42 303.5,200.48 304.1,200.47 304.7,200.47 305.3,200.47 305.9,200.47 306.5,200.51 307.1,200.47 307.7,200.47 308.3,200.6 308.9,200.61 309.5,200.44 310.1,200.61 310.7,200.39" fill="none" stroke="#d4488a" stroke-width="1.5" stroke-linejoin="round" stroke-linecap="round"/>
<polyline points="198.5,206.47 199.1,206.5 199.7,206.48 200.3,206.49 200.9,206.48 201.5,206.54 202.1,206.44 202.7,206.54 203.3,206.39 203.9,206.46 204.5,206.47 205.1,206.42 205.7,206.57 206.3,206.47 206.9,206.58 207.5,206.63 208.1,206.46 208.7,206.62 209.3,206.6 209.9,206.57 210.5,206.42 211.1,206.52 211.7,206.57 212.3,206.49 212.9,206.48 213.5,206.5 214.1,206.49 214.7,206.62 215.3,206.52 215.9,206.55 216.5,206.6 217.1,206.68 217.7,206.53 218.3,206.47 218.9,206.7 219.5,206.67 220.1,206.67 220.7,206.61 221.3,206.54 221.9,206.53 222.5,206.57 223.1,206.61 223.7,206.52 224.3,206.68 224.9,206.69 225.5,206.53 226.1,206.73 226.7,206.65 227.3,206.76 227.9,206.66 228.5,206.74 229.1,206.67 229.7,206.71 230.3,206.69 230.9,206.58 231.5,206.62 232.1,206.64 232.7,206.69 233.3,206.69 233.9,206.73 234.5,206.76 235.1,206.7 235.7,206.68 236.3,206.72 236.9,206.8 237.4,206.71 237.6,206.64 237.8,206.63 238,206.4 238.2,206.23 238.4,205.98 238.6,205.55 238.8,204.84 239,204.53 239.2,205.06 239.4,205.56 239.6,206.14 239.8,206.45 240,206.55 240.2,206.5 240.4,206.67 240.6,206.62 241.1,206.66 241.7,206.66 242.3,206.81 242.9,206.92 243.5,206.74 244.1,206.76 244.7,206.83 245.3,206.76 245.9,206.87 246.5,206.94 247.1,206.88 247.7,206.79 248.3,206.8 248.9,206.85 249.5,206.97 250.1,207.04 250.7,206.94 251.3,206.86 251.9,206.89 252.5,206.95 253.1,206.88 253.7,206.89 254.3,206.98 254.9,207.08 255.5,206.95 256.1,207.11 256.7,207.12 257.3,207.02 257.9,206.97 258.5,206.97 259.1,207.1 259.7,207.14 260.3,207.16 260.9,207.01 261.5,207.07 262.1,206.98 262.7,207.06 263.3,207.06 263.9,207.03 264.5,207.03 265.1,207.25 265.7,207.1 266.3,207.15 266.9,207.17 267.5,207.16 268.1,207.2 268.7,207.18 269.3,207.19 269.9,207.1 270.5,207.24 271.1,207.25 271.7,207.27 272.3,207.18 272.9,207.22 273.5,207.31 274.1,207.3 274.7,207.15 275.3,207.22 275.9,207.19 276.5,207.33 277.1,207.26 277.7,207.26 278.3,207.23 278.9,207.29 279.5,207.36 280.1,207.35 280.7,207.25 281.3,207.3 281.9,207.36 282.5,207.23 283.1,207.44 283.7,207.24 284.3,207.39 284.9,207.28 285.5,207.48 286.1,207.42 286.7,207.31 287.3,207.39 287.9,207.47 288.5,207.48 289.1,207.44 289.7,207.44 290.3,207.47 290.9,207.52 291.5,207.42 292.1,207.45 292.7,207.5 293.3,207.44 293.9,207.37 294.5,207.46 295.1,207.41 295.7,207.5 296.3,207.51 296.9,207.55 297.5,207.37 298.1,207.35 298.7,207.57 299.3,207.53 299.9,207.59 300.5,207.55 301.1,207.59 301.7,207.4 302.3,207.41 302.9,207.51 303.5,207.55 304.1,207.4 304.7,207.6 305.3,207.43 305.9,207.42 306.5,207.48 307.1,207.42 307.7,207.4 308.3,207.4 308.9,207.39 309.5,207.42 310.1,207.54 310.7,207.57" fill="none" stroke="#84a23e" stroke-width="1.5" stroke-linejoin="round" stroke-linecap="round"/>
<polyline points="357.5,143.04 358.1,143.29 358.7,143.26 359.3,143.19 359.9,143.06 360.5,143.34 361.1,143.35 361.7,143.21 362.3,143.2 362.9,143.07 363.5,142.96 364.1,143.14 364.7,143.24 365.3,142.99 365.9,143.34 366.5,143.07 367.1,143.07 367.7,142.98 368.3,143.44 368.9,143.31 369.5,143.38 370.1,143.26 370.7,142.98 371.3,143.12 371.9,143.2 372.5,143.02 373.1,143.42 373.7,143.14 374.3,143.03 374.9,143.35 375.5,143.02 376.1,143.41 376.7,143.18 377.3,143.22 377.9,143.12 378.5,143.19 379.1,143.05 379.7,142.98 380.3,143.38 380.9,143.07 381.5,143.33 382.1,143.06 382.7,143.43 383.3,143.39 383.9,143.32 384.5,143.33 385.1,143.24 385.7,143.31 386.3,143.02 386.9,143.19 387.5,143.36 388.1,143.06 388.7,143.4 389.3,143.39 389.9,143.16 390.5,143.14 391.1,143.18 391.7,143.15 392.3,143.44 392.9,143.15 393.5,142.97 394.1,143 394.7,143.3 395.3,143.44 395.9,143.2 396.5,143.2 397.1,143.22 397.7,143.32 398.3,143.07 398.9,143.25 399.5,143.23 400.1,143.26 400.7,143.05 401.3,143.05 401.9,143.14 402.5,143.43 403.1,143.16 403.7,143.29 404.3,143.16 404.9,143.06 405.5,143.03 406.1,143.36 406.7,143.28 407.3,142.98 407.9,142.98 408.5,142.77 409.1,142.62 409.7,142.35 410.3,141.76 410.9,141.73 411.5,141.45 412.1,141.08 412.7,141.14 413.3,140.99 413.9,141.1 414.5,141.31 415.1,141.96 415.7,142.01 416.3,142.37 416.9,143.1 417.5,143.42 418.1,143.55 418.7,143.95 419.3,143.74 419.9,143.97 420.5,144.08 421.1,144.22 421.7,144.16 422.3,144.15 422.9,144.32 423.5,144.62 424.1,144.69 424.7,144.6 425.3,144.5 425.9,144.41 426.5,144.77 427.1,144.58 427.7,144.69 428.3,144.36 428.9,144.46 429.5,144.76 430.1,144.74 430.7,144.78 431.3,144.65 431.9,144.56 432.5,144.63 433.1,144.75 433.7,144.49 434.3,144.59 434.9,144.46 435.5,144.69 436.1,144.32 436.7,144.64 437.3,144.76 437.9,144.3 438.5,144.57 439.1,144.58 439.7,144.67 440.3,144.54 440.9,144.37 441.5,144.43 442.1,144.69 442.7,144.66 443.3,144.28 443.9,144.25 444.5,144.24 445.1,144.2 445.7,144.4 446.3,144.25 446.9,144.59 447.5,144.48 448.1,144.23 448.7,144.42 449.3,144.32 449.9,144.4 450.5,144.26 451.1,144.23 451.7,144.22 452.3,144.29 452.9,144.42 453.5,144.32 454.1,144.04 454.7,144.31 455.3,144.35 455.9,144.25 456.5,144.21 457.1,143.78 457.7,143.94 458.3,143.69 458.9,143.96 459.5,143.62 460.1,143.82 460.7,143.54 461.3,143.69 461.9,143.44 462.5,143.25 463.1,143.36 463.7,143.27 464.3,143.5 464.9,143.16 465.5,143.21 466.1,143.19 466.7,143.34 467.3,142.9 467.9,143.11 468.5,143.04 469.1,143.13 469.7,143.23 470.3,142.91" fill="none" stroke="#74401e" stroke-width="1.5" stroke-linejoin="round" stroke-linecap="round"/>
<polyline points="357.5,154.55 358.1,154.11 358.7,154.04 359.3,154.57 359.9,154.13 360.5,154.1 361.1,154.39 361.7,154.22 362.3,154.52 362.9,154.16 363.5,154.56 364.1,154.22 364.7,154.37 365.3,154.55 365.9,154.42 366.5,154.55 367.1,154.44 367.7,154.09 368.3,154.54 368.9,154.38 369.5,154.24 370.1,154.17 370.7,154.53 371.3,154.39 371.9,154.59 372.5,154.51 373.1,154.61 373.7,154.4 374.3,154.48 374.9,154.43 375.5,154.25 376.1,154.63 376.7,154.28 377.3,154.54 377.9,154.64 378.5,154.48 379.1,154.21 379.7,154.58 380.3,154.5 380.9,154.25 381.5,154.18 382.1,154.44 382.7,154.17 383.3,154.66 383.9,154.44 384.5,154.45 385.1,154.39 385.7,154.53 386.3,154.68 386.9,154.35 387.5,154.39 388.1,154.51 388.7,154.36 389.3,154.52 389.9,154.49 390.5,154.44 391.1,154.57 391.7,154.5 392.3,154.26 392.9,154.75 393.5,154.41 394.1,154.45 394.7,154.44 395.3,154.73 395.9,154.74 396.5,154.5 397.1,154.44 397.7,154.28 398.3,154.71 398.9,154.32 399.5,154.53 400.1,154.42 400.7,154.48 401.3,154.66 401.9,154.8 402.5,154.98 403.1,155.53 403.7,155.93 404.3,156.07 404.9,155.98 405.5,156.3 406.1,155.26 406.7,153.7 407.3,151.68 407.9,149.54 408.5,147.68 409.1,147.39 409.7,147.2 410.3,147.21 410.9,147.25 411.5,147.47 412.1,147.33 412.7,147.19 413.3,147.32 413.9,147.28 414.5,147.12 415.1,147.35 415.7,147.37 416.3,147.26 416.9,147.44 417.5,147.21 418.1,148.32 418.7,149.57 419.3,150.61 419.9,151.45 420.5,152.1 421.1,152.04 421.7,152.14 422.3,152.31 422.9,153.14 423.5,153.17 424.1,153.39 424.7,153.74 425.3,153.97 425.9,154.4 426.5,154.04 427.1,154.13 427.7,154.1 428.3,154.39 428.9,154.35 429.5,154.55 430.1,154.89 430.7,155.14 431.3,155.25 431.9,154.97 432.5,155.31 433.1,155.72 433.7,155.43 434.3,155.66 434.9,155.95 435.5,156 436.1,156.29 436.7,156.35 437.3,156.26 437.9,156.16 438.5,156.15 439.1,156.16 439.7,156.04 440.3,156.34 440.9,156.05 441.5,156.41 442.1,156.25 442.7,155.89 443.3,156.09 443.9,156.11 444.5,155.76 445.1,155.95 445.7,155.66 446.3,156.01 446.9,155.55 447.5,155.84 448.1,155.99 448.7,155.87 449.3,155.49 449.9,155.61 450.5,155.36 451.1,155.44 451.7,155.69 452.3,155.63 452.9,155.17 453.5,155.35 454.1,155.48 454.7,155.23 455.3,155.56 455.9,155.6 456.5,155.39 457.1,155.25 457.7,155.46 458.3,155.22 458.9,154.98 459.5,154.95 460.1,154.81 460.7,155.09 461.3,154.83 461.9,154.84 462.5,154.81 463.1,154.8 463.7,154.29 464.3,154.31 464.9,154.48 465.5,154.33 466.1,154.05 466.7,154.13 467.3,153.81 467.9,153.74 468.5,153.63 469.1,153.77 469.7,153.67 470.3,153.81" fill="none" stroke="#4ea6e6" stroke-width="1.5" stroke-linejoin="round" stroke-linecap="round"/>
<polyline points="357.5,168.15 358.1,168.16 358.7,168.14 359.3,167.85 359.9,168.04 360.5,167.98 361.1,168.02 361.7,167.88 362.3,167.9 362.9,168 363.5,167.92 364.1,168.01 364.7,167.86 365.3,167.89 365.9,168.12 366.5,168.02 367.1,168.06 367.7,168.15 368.3,168.02 368.9,167.92 369.5,168.19 370.1,168.12 370.7,168.16 371.3,168.15 371.9,168.29 372.5,168.07 373.1,168.23 373.7,168.09 374.3,168.18 374.9,168.22 375.5,168.1 376.1,168.03 376.7,168.18 377.3,168.27 377.9,168.23 378.5,168.19 379.1,168.27 379.7,168.11 380.3,168.12 380.9,168.18 381.5,168.37 382.1,168.15 382.7,168.13 383.3,168.14 383.9,168.12 384.5,168.22 385.1,168.33 385.7,168.43 386.3,168.26 386.9,168.28 387.5,168.26 388.1,168.27 388.7,168.45 389.3,168.37 389.9,168.27 390.5,168.22 391.1,168.47 391.7,168.45 392.3,168.5 392.9,168.29 393.5,168.4 394.1,168.54 394.7,168.43 395.3,168.56 395.9,168.28 396.5,168.57 397.1,168.24 397.7,168.37 398.3,168.24 398.9,168.58 399.5,168.65 400.1,168.91 400.7,169.04 401.3,169.3 401.9,169.37 402.5,169.74 403.1,169.85 403.7,169.88 404.3,170.25 404.9,170.12 405.5,170.09 406.1,169.89 406.7,169.6 407.3,168.85 407.9,168.28 408.5,167.32 409.1,166.02 409.7,164.9 410.3,163.99 410.9,162.86 411.5,162.12 412.1,161.49 412.7,160.78 413.3,160.59 413.9,160.76 414.5,160.65 415.1,160.73 415.7,161.09 416.3,161.26 416.9,161.53 417.5,161.74 418.1,161.95 418.7,162.39 419.3,162.8 419.9,163.12 420.5,163.39 421.1,163.83 421.7,164.31 422.3,164.88 422.9,165.26 423.5,165.71 424.1,166.26 424.7,166.44 425.3,167.07 425.9,167.39 426.5,167.88 427.1,168.37 427.7,168.53 428.3,169.13 428.9,169.13 429.5,169.59 430.1,169.83 430.7,169.93 431.3,170.21 431.9,170.3 432.5,170.36 433.1,170.48 433.7,170.21 434.3,170.33 434.9,170.45 435.5,170.19 436.1,170.41 436.7,170.12 437.3,170.24 437.9,170 438.5,170.04 439.1,169.96 439.7,169.77 440.3,169.92 440.9,169.77 441.5,169.77 442.1,169.64 442.7,169.57 443.3,169.49 443.9,169.34 444.5,169.49 445.1,169.13 445.7,169.36 446.3,169.3 446.9,169.12 447.5,169.18 448.1,169.11 448.7,169.06 449.3,168.93 449.9,168.94 450.5,168.94 451.1,168.91 451.7,169.11 452.3,168.85 452.9,168.81 453.5,168.76 454.1,168.83 454.7,168.63 455.3,168.57 455.9,168.37 456.5,168.28 457.1,168.1 457.7,168.04 458.3,167.95 458.9,168.04 459.5,167.8 460.1,167.54 460.7,167.55 461.3,167.31 461.9,167.35 462.5,167.19 463.1,167.23 463.7,166.91 464.3,167.02 464.9,166.7 465.5,166.88 466.1,166.67 466.7,166.38 467.3,166.59 467.9,166.34 468.5,166.32 469.1,166.21 469.7,166.43 470.3,166.15" fill="none" stroke="#8d8a2c" stroke-width="1.5" stroke-linejoin="round" stroke-linecap="round"/>
<polyline points="357.5,180.86 358.1,180.9 358.7,180.71 359.3,180.95 359.9,180.71 360.5,180.85 361.1,180.68 361.7,180.88 362.3,180.7 362.9,180.87 363.5,180.88 364.1,180.89 364.7,180.8 365.3,180.93 365.9,180.97 366.5,180.71 367.1,180.83 367.7,180.97 368.3,180.91 368.9,180.82 369.5,180.78 370.1,180.98 370.7,180.73 371.3,180.93 371.9,180.96 372.5,180.76 373.1,180.81 373.7,180.81 374.3,180.89 374.9,180.84 375.5,181 376.1,181.02 376.7,180.84 377.3,181.02 377.9,180.77 378.5,180.78 379.1,180.96 379.7,181 380.3,181.01 380.9,181.07 381.5,181.04 382.1,180.86 382.7,181.01 383.3,181.07 383.9,180.82 384.5,180.95 385.1,180.85 385.7,180.85 386.3,180.95 386.9,181.01 387.5,181.11 388.1,180.86 388.7,180.97 389.3,181.13 389.9,181.06 390.5,180.99 391.1,180.91 391.7,181.03 392.3,180.92 392.9,181.03 393.5,181.04 394.1,180.96 394.7,181.08 395.3,180.97 395.9,180.99 396.5,181.1 397.1,180.92 397.7,180.91 398.3,181.03 398.9,181.04 399.5,181.28 400.1,181.23 400.7,181.43 401.3,181.52 401.9,181.83 402.5,181.98 403.1,182.2 403.7,182.45 404.3,182.35 404.9,182.72 405.5,182.66 406.1,182.61 406.7,182.3 407.3,181.95 407.9,181.45 408.5,180.91 409.1,180.28 409.7,179.69 410.3,179.08 410.9,178.5 411.5,178.13 412.1,177.63 412.7,177.21 413.3,176.77 413.9,176.73 414.5,176.85 415.1,177.02 415.7,177.15 416.3,177.48 416.9,177.88 417.5,178.03 418.1,178.42 418.7,178.89 419.3,179.1 419.9,179.52 420.5,179.67 421.1,179.74 421.7,179.98 422.3,179.87 422.9,180.11 423.5,180.17 424.1,180.13 424.7,180.31 425.3,180.19 425.9,180.36 426.5,180.38 427.1,180.46 427.7,180.82 428.3,180.72 428.9,181.12 429.5,181.15 430.1,181.33 430.7,181.28 431.3,181.67 431.9,181.78 432.5,181.7 433.1,181.85 433.7,181.95 434.3,182.16 434.9,182.13 435.5,182.43 436.1,182.4 436.7,182.51 437.3,182.41 437.9,182.55 438.5,182.48 439.1,182.53 439.7,182.44 440.3,182.59 440.9,182.52 441.5,182.48 442.1,182.29 442.7,182.2 443.3,182.14 443.9,182.08 444.5,182.28 445.1,182.02 445.7,182.14 446.3,181.89 446.9,181.95 447.5,181.78 448.1,181.74 448.7,181.82 449.3,181.72 449.9,181.77 450.5,181.51 451.1,181.48 451.7,181.38 452.3,181.39 452.9,181.59 453.5,181.44 454.1,181.4 454.7,181.35 455.3,181.48 455.9,181.44 456.5,181.25 457.1,181.17 457.7,181.15 458.3,181.27 458.9,181.17 459.5,180.93 460.1,180.84 460.7,180.76 461.3,180.77 461.9,180.68 462.5,180.42 463.1,180.33 463.7,180.2 464.3,180.3 464.9,180.08 465.5,180.1 466.1,179.8 466.7,179.83 467.3,179.73 467.9,179.77 468.5,179.55 469.1,179.46 469.7,179.61 470.3,179.64" fill="none" stroke="#4c4fb4" stroke-width="1.5" stroke-linejoin="round" stroke-linecap="round"/>
<polyline points="357.5,197.47 358.1,197.6 358.7,197.58 359.3,197.43 359.9,197.59 360.5,197.53 361.1,197.39 361.7,197.61 362.3,197.44 362.9,197.45 363.5,197.48 364.1,197.52 364.7,197.4 365.3,197.54 365.9,197.57 366.5,197.49 367.1,197.56 367.7,197.52 368.3,197.56 368.9,197.41 369.5,197.45 370.1,197.47 370.7,197.38 371.3,197.59 371.9,197.51 372.5,197.38 373.1,197.49 373.7,197.45 374.3,197.39 374.9,197.38 375.5,197.45 376.1,197.36 376.7,197.48 377.3,197.46 377.9,197.37 378.5,197.54 379.1,197.34 379.7,197.37 380.3,197.52 380.9,197.38 381.5,197.43 382.1,197.46 382.7,197.42 383.3,197.44 383.9,197.44 384.5,197.43 385.1,197.33 385.7,197.51 386.3,197.38 386.9,197.32 387.5,197.4 388.1,197.5 388.7,197.45 389.3,197.41 389.9,197.41 390.5,197.35 391.1,197.44 391.7,197.38 392.3,197.31 392.9,197.32 393.5,197.31 394.1,197.45 394.7,197.5 395.3,197.47 395.9,197.34 396.5,197.32 397.1,197.51 397.7,197.37 398.3,197.32 398.9,197.42 399.5,197.43 400.1,197.41 400.7,197.39 401.3,197.35 401.9,197.4 402.5,197.37 403.1,197.34 403.7,197.16 404.3,196.96 404.9,196.9 405.5,196.44 406.1,196.33 406.7,195.95 407.3,195.74 407.9,195.4 408.5,195.05 409.1,194.76 409.7,194.37 410.3,194.04 410.9,193.96 411.5,193.61 412.1,193.39 412.7,193.41 413.3,193.26 413.9,193.09 414.5,193.22 415.1,193.17 415.7,193.4 416.3,193.34 416.9,193.59 417.5,193.6 418.1,193.56 418.7,193.71 419.3,193.89 419.9,193.85 420.5,193.72 421.1,193.79 421.7,193.79 422.3,193.78 422.9,193.95 423.5,194.03 424.1,193.97 424.7,194.12 425.3,194.27 425.9,194.36 426.5,194.27 427.1,194.33 427.7,194.63 428.3,194.58 428.9,194.64 429.5,194.89 430.1,194.86 430.7,195.07 431.3,195.16 431.9,195.16 432.5,195.29 433.1,195.34 433.7,195.56 434.3,195.51 434.9,195.59 435.5,195.8 436.1,195.73 436.7,195.82 437.3,195.89 437.9,195.81 438.5,195.91 439.1,196.05 439.7,196.11 440.3,195.96 440.9,196 441.5,195.9 442.1,196.02 442.7,196 443.3,196.05 443.9,196.02 444.5,196.05 445.1,196.22 445.7,196.21 446.3,196.14 446.9,196.11 447.5,196.14 448.1,196.18 448.7,196.23 449.3,196.38 449.9,196.4 450.5,196.35 451.1,196.57 451.7,196.57 452.3,196.62 452.9,196.71 453.5,196.62 454.1,196.81 454.7,196.87 455.3,196.9 455.9,196.74 456.5,196.98 457.1,197.06 457.7,196.9 458.3,197.12 458.9,197.16 459.5,197.01 460.1,197.22 460.7,197.27 461.3,197.31 461.9,197.18 462.5,197.44 463.1,197.26 463.7,197.3 464.3,197.54 464.9,197.45 465.5,197.41 466.1,197.48 466.7,197.56 467.3,197.5 467.9,197.67 468.5,197.62 469.1,197.56 469.7,197.56 470.3,197.51" fill="none" stroke="#d4488a" stroke-width="1.5" stroke-linejoin="round" stroke-linecap="round"/>
<polyline points="357.5,208.86 358.1,208.73 358.7,208.73 359.3,208.82 359.9,208.69 360.5,208.87 361.1,208.86 361.7,208.69 362.3,208.84 362.9,208.8 363.5,208.83 364.1,208.91 364.7,208.92 365.3,208.78 365.9,208.88 366.5,208.87 367.1,208.91 367.7,208.69 368.3,208.9 368.9,208.73 369.5,208.71 370.1,208.82 370.7,208.88 371.3,208.91 371.9,208.77 372.5,208.88 373.1,208.69 373.7,208.91 374.3,208.75 374.9,208.81 375.5,208.71 376.1,208.69 376.7,208.68 377.3,208.82 377.9,208.81 378.5,208.88 379.1,208.88 379.7,208.78 380.3,208.88 380.9,208.73 381.5,208.89 382.1,208.74 382.7,208.91 383.3,208.77 383.9,208.78 384.5,208.8 385.1,208.69 385.7,208.7 386.3,208.81 386.9,208.85 387.5,208.69 388.1,208.78 388.7,208.77 389.3,208.87 389.9,208.92 390.5,208.7 391.1,208.81 391.7,208.7 392.3,208.87 392.9,208.91 393.5,208.85 394.1,208.82 394.7,208.69 395.3,208.7 395.9,208.74 396.5,208.7 397.1,208.71 397.7,208.91 398.3,208.76 398.9,208.9 399.5,208.86 400.1,208.87 400.7,208.9 401.3,208.85 401.9,208.76 402.5,208.79 403.1,208.77 403.7,208.69 404.3,208.68 404.9,208.72 405.5,208.54 406.1,208.43 406.7,208.08 407.3,207.84 407.9,207.44 408.5,207.15 409.1,206.91 409.7,206.44 410.3,206.2 410.9,206.12 411.5,205.97 412.1,205.96 412.7,205.87 413.3,205.89 413.9,205.85 414.1,205.95 414.3,205.79 414.5,205.74 414.7,205.82 414.9,205.61 415.1,205.25 415.3,205.06 415.5,204.68 415.7,205.07 415.9,205.43 416.1,205.68 416.3,205.81 416.5,205.83 416.7,206.1 416.9,206.01 417.1,206.01 417.5,206.01 418.1,206.16 418.7,206.28 419.3,206.16 419.9,206.26 420.5,206.24 421.1,206.21 421.7,206.27 422.3,206.32 422.9,206.4 423.5,206.23 424.1,206.31 424.7,206.39 425.3,206.41 425.9,206.52 426.5,206.63 427.1,206.65 427.7,206.79 428.3,206.75 428.9,207.05 429.5,207.08 430.1,207.02 430.7,207.12 431.3,207.34 431.9,207.27 432.5,207.49 433.1,207.39 433.7,207.61 434.3,207.69 434.9,207.72 435.5,207.84 436.1,207.93 436.7,207.99 437.3,207.8 437.9,207.94 438.5,207.88 439.1,208.05 439.7,207.93 440.3,207.92 440.9,207.89 441.5,207.89 442.1,207.95 442.7,207.93 443.3,208.02 443.9,208.09 444.5,208.07 445.1,207.98 445.7,207.97 446.3,208.1 446.9,207.98 447.5,208.08 448.1,208.16 448.7,208.08 449.3,208.06 449.9,207.97 450.5,208.02 451.1,208.2 451.7,207.99 452.3,208 452.9,208.14 453.5,208.08 454.1,208.16 454.7,208.08 455.3,208.08 455.9,208.1 456.5,208.22 457.1,208.22 457.7,208.07 458.3,208.24 458.9,208.27 459.5,208.2 460.1,208.12 460.7,208.11 461.3,208.35 461.9,208.15 462.5,208.13 463.1,208.15 463.7,208.36 464.3,208.39 464.9,208.34 465.5,208.38 466.1,208.36 466.7,208.18 467.3,208.26 467.9,208.33 468.5,208.34 469.1,208.36 469.7,208.35 470.3,208.21" fill="none" stroke="#84a23e" stroke-width="1.5" stroke-linejoin="round" stroke-linecap="round"/>
<polyline points="517,149.04 517.6,149.09 518.2,149.24 518.8,149.4 519.4,149.11 520,149.09 520.6,149.16 521.2,149.44 521.8,149.12 522.4,149.44 523,149.4 523.6,149.12 524.2,149.33 524.8,149.29 525.4,149.27 526,149.59 526.6,149.11 527.2,149.07 527.8,149.57 528.4,149.28 529,149.18 529.6,149.25 530.2,149.27 530.8,149.6 531.4,149.2 532,149.21 532.6,149.41 533.2,149.39 533.8,149.62 534.4,149.56 535,149.3 535.6,149.22 536.2,149.57 536.8,149.66 537.4,149.15 538,149.53 538.6,149.61 539.2,149.5 539.8,149.27 540.4,149.58 541,149.55 541.6,149.27 542.2,149.52 542.8,149.29 543.4,149.2 544,149.37 544.6,149.37 545.2,149.41 545.8,149.55 546.4,149.66 547,149.73 547.6,149.74 548.2,149.76 548.8,149.65 549.4,149.39 550,149.33 550.6,149.58 551.2,149.54 551.8,149.61 552.4,149.3 553,149.36 553.6,149.76 554.2,149.59 554.8,149.65 555.4,149.33 556,149.49 556.6,149.77 557.2,149.64 557.8,149.83 558.4,149.4 559,149.54 559.6,149.73 560.2,149.54 560.8,149.73 561.4,149.61 562,149.38 562.6,149.37 563.2,149.85 563.8,149.38 564.4,149.43 565,149.5 565.6,149.71 566.2,149.79 566.8,149.58 567.4,149.6 568,149.75 568.6,149.48 569.2,149.53 569.8,149.66 570.4,149.67 571,149.35 571.6,149.39 572.2,149.4 572.8,149.72 573.4,149.7 574,149.84 574.6,149.73 575.2,149.45 575.8,149.72 576.4,149.84 577,149.49 577.6,149.3 578.2,149.49 578.8,149.43 579.4,149.37 580,149.29 580.6,149.33 581.2,149.72 581.8,149.27 582.4,149.57 583,149.34 583.6,149.33 584.2,149.66 584.8,149.37 585.4,149.29 586,149.43 586.6,149.55 587.2,149.45 587.8,149.62 588.4,149.36 589,149.42 589.6,149.51 590.2,149.36 590.8,149.49 591.4,149.34 592,149.15 592.6,149.13 593.2,149.48 593.8,149.45 594.4,149.54 595,149.39 595.6,149.32 596.2,149.09 596.8,149.45 597.4,149.04 598,149.19 598.6,149.02 599.2,149.14 599.8,149.09 600.4,149.14 601,149.28 601.6,149.18 602.2,149.01 602.8,149.28 603.4,149.25 604,149.29 604.6,148.85 605.2,149.15 605.8,149.29 606.4,148.93 607,148.89 607.6,149.21 608.2,148.95 608.8,148.96 609.4,149.18 610,148.93 610.6,148.82 611.2,148.82 611.8,148.88 612.4,149.06 613,148.87 613.6,149.08 614.2,148.69 614.8,148.78 615.4,148.98 616,148.89 616.6,148.89 617.2,149.12 617.8,148.76 618.4,148.7 619,148.61 619.6,148.84 620.2,148.74 620.8,148.83 621.4,148.57 622,148.56 622.6,148.76 623.2,148.96 623.8,148.71 624.4,149.04 625,148.85 625.6,148.76 626.2,148.95 626.8,148.66 627.4,148.86 628,148.99 628.6,148.82" fill="none" stroke="#74401e" stroke-width="1.5" stroke-linejoin="round" stroke-linecap="round"/>
<polyline points="517,157.42 517.6,157.48 518.2,157.51 518.8,157.76 519.4,157.58 520,157.67 520.6,157.39 521.2,157.55 521.8,157.68 522.4,157.53 523,157.69 523.6,157.64 524.2,157.4 524.8,157.23 525.4,157.52 526,157.23 526.6,157.15 527.2,157.43 527.8,157.45 528.4,157.42 529,157.44 529.6,157.09 530.2,157.01 530.8,156.99 531.4,157.32 532,156.93 532.6,156.91 533.2,156.82 533.8,156.8 534.4,156.76 535,156.86 535.6,156.75 536.2,156.78 536.8,157 537.4,156.65 538,156.89 538.6,156.83 539.2,156.72 539.8,156.7 540.4,156.75 541,156.64 541.6,156.46 542.2,156.48 542.8,156.41 543.4,156.46 544,156.68 544.6,156.42 545.2,156.25 545.8,156.4 546.4,156.52 547,156.35 547.6,156.44 548.2,156.17 548.8,156.15 549.4,156.39 550,156.12 550.6,156.22 551.2,156.25 551.8,156.17 552.4,156.11 553,156.1 553.6,156.52 554.2,156.43 554.8,156.56 555.4,156.4 556,156.63 556.6,156.63 557.2,156.57 557.8,156.57 558.4,156.61 559,156.53 559.6,156.64 560.2,156.83 560.8,156.65 561.4,156.97 562,156.87 562.6,156.94 563.2,157.06 563.8,157.01 564.4,156.82 565,156.88 565.6,156.79 566.2,156.82 566.8,157.43 567.4,157.73 568,158.49 568.6,159.12 569.2,159.67 569.8,160.67 570.4,161.3 571,161.61 571.6,161.76 572.2,161.92 572.8,161.79 573.4,161.74 574,161.43 574.6,161.47 575.2,161.32 575.8,160.72 576.4,160.68 577,160.33 577.6,160.03 578.2,159.99 578.8,159.6 579.4,159.67 580,159.3 580.6,159.68 581.2,159.32 581.8,159.19 582.4,159.48 583,159.32 583.6,159.19 584.2,159.11 584.8,158.81 585.4,158.55 586,158.48 586.6,158.58 587.2,158.43 587.8,157.94 588.4,157.85 589,157.68 589.6,157.7 590.2,157.15 590.8,157.33 591.4,156.93 592,156.91 592.6,156.59 593.2,156.45 593.8,156.67 594.4,156.41 595,156.52 595.6,156.42 596.2,156.33 596.8,156.02 597.4,156.24 598,156.4 598.6,156.19 599.2,156 599.8,156.03 600.4,156.35 601,156.33 601.6,156 602.2,156.01 602.8,156.15 603.4,156.04 604,155.87 604.6,156.18 605.2,155.99 605.8,155.85 606.4,155.67 607,155.83 607.6,155.9 608.2,155.61 608.8,155.53 609.4,155.76 610,155.8 610.6,155.53 611.2,155.52 611.8,155.55 612.4,155.45 613,155.24 613.6,155.26 614.2,155.19 614.8,155.14 615.4,155.05 616,155.13 616.6,155.02 617.2,155.24 617.8,154.98 618.4,155.2 619,155.1 619.6,154.84 620.2,154.75 620.8,154.89 621.4,154.82 622,154.81 622.6,154.61 623.2,154.75 623.8,154.82 624.4,154.67 625,154.57 625.6,154.83 626.2,154.55 626.8,154.83 627.4,154.69 628,154.4 628.6,154.58" fill="none" stroke="#4ea6e6" stroke-width="1.5" stroke-linejoin="round" stroke-linecap="round"/>
<polyline points="517,167.03 517.6,167.06 518.2,167.13 518.8,166.91 519.4,167.07 520,167.17 520.6,167.18 521.2,166.87 521.8,167.07 522.4,167.06 523,167.01 523.6,167.21 524.2,167.03 524.8,166.99 525.4,167.21 526,167.08 526.6,166.94 527.2,166.95 527.8,167.03 528.4,166.85 529,167.08 529.6,167.14 530.2,167.01 530.8,167.19 531.4,167.23 532,167.08 532.6,167.14 533.2,166.9 533.8,166.88 534.4,167.27 535,166.99 535.6,166.96 536.2,167.25 536.8,167.19 537.4,166.93 538,167.02 538.6,166.99 539.2,167.01 539.8,166.9 540.4,167.12 541,167.04 541.6,167.08 542.2,166.99 542.8,166.97 543.4,166.94 544,167.29 544.6,167.25 545.2,167.17 545.8,166.99 546.4,167.01 547,167 547.6,167.08 548.2,166.98 548.8,167.07 549.4,167.04 550,167.04 550.6,167.24 551.2,167.16 551.8,167.17 552.4,167.12 553,167.2 553.6,167.31 554.2,167.11 554.8,167.01 555.4,167.19 556,167.14 556.6,167.31 557.2,167.03 557.8,167.36 558.4,167 559,167.22 559.6,167.18 560.2,167.13 560.8,167.45 561.4,167.53 562,167.53 562.6,167.92 563.2,168.24 563.8,168.26 564.4,168.51 565,168.91 565.6,169.07 566.2,169.01 566.8,169.3 567.4,169.92 568,170.59 568.6,171.7 569.2,172.58 569.8,173.1 570.4,173.41 571,173.76 571.6,173.83 572.2,173.38 572.8,172.93 573.4,172.54 574,172.33 574.6,171.91 575.2,171.47 575.8,171.46 576.4,171.48 577,171.4 577.6,171.07 578.2,170.52 578.8,170.23 579.4,169.78 580,169.23 580.6,168.64 581.2,168.05 581.8,167.52 582.4,167.23 583,166.77 583.6,166.55 584.2,166.2 584.8,166.13 585.4,166.2 586,166.34 586.6,166.33 587.2,166.17 587.8,166.17 588.4,166.49 589,166.12 589.6,166.48 590.2,166.41 590.8,166.33 591.4,166.51 592,166.38 592.6,166.09 593.2,166.48 593.8,166.26 594.4,166.47 595,166.43 595.6,166.15 596.2,166.11 596.8,166.1 597.4,166.42 598,166.42 598.6,166.19 599.2,166.14 599.8,166.24 600.4,166.43 601,166.4 601.6,166.45 602.2,166.5 602.8,166.41 603.4,166.44 604,166.1 604.6,166.09 605.2,166.45 605.8,166.35 606.4,166.23 607,166.14 607.6,166.23 608.2,166.23 608.8,166.3 609.4,166.28 610,166.17 610.6,166.12 611.2,166.18 611.8,166.14 612.4,166.13 613,166.26 613.6,166.14 614.2,166.43 614.8,166.32 615.4,166.28 616,166.36 616.6,166.19 617.2,166.1 617.8,166.12 618.4,166.23 619,166.24 619.6,166.2 620.2,166.22 620.8,166.44 621.4,166.09 622,166.28 622.6,166.25 623.2,166.21 623.8,166.39 624.4,166.18 625,166.11 625.6,166.16 626.2,166.5 626.8,166.24 627.4,166.14 628,166.5 628.6,166.36" fill="none" stroke="#8d8a2c" stroke-width="1.5" stroke-linejoin="round" stroke-linecap="round"/>
<polyline points="517,178.81 517.6,178.83 518.2,178.92 518.8,178.95 519.4,178.94 520,178.76 520.6,178.97 521.2,178.79 521.8,178.75 522.4,178.68 523,178.84 523.6,178.71 524.2,178.76 524.8,178.89 525.4,178.96 526,178.96 526.6,178.73 527.2,178.73 527.8,178.81 528.4,178.92 529,179.04 529.6,179.03 530.2,179.09 530.8,178.98 531.4,179.01 532,178.89 532.6,178.91 533.2,178.89 533.8,179.02 534.4,179.05 535,179.05 535.6,179 536.2,179.02 536.8,178.97 537.4,179.19 538,179.12 538.6,179.19 539.2,179.23 539.8,179.05 540.4,179 541,179.07 541.6,179.31 542.2,179.28 542.8,179.15 543.4,179.3 544,179.16 544.6,179.36 545.2,179.09 545.8,179.33 546.4,179.43 547,179.24 547.6,179.27 548.2,179.16 548.8,179.22 549.4,179.21 550,179.24 550.6,179.17 551.2,179.26 551.8,179.2 552.4,179.36 553,179.32 553.6,179.27 554.2,179.53 554.8,179.31 555.4,179.39 556,179.53 556.6,179.48 557.2,179.56 557.8,179.43 558.4,179.53 559,179.24 559.6,179.48 560.2,179.33 560.8,179.24 561.4,179.24 562,178.99 562.6,178.58 563.2,178.31 563.8,178 564.4,177.99 565,177.68 565.6,177.44 566.2,177.52 566.8,177.48 567.4,177.82 568,178.25 568.6,178.83 569.2,179.22 569.8,179.53 570.4,179.99 571,180.1 571.6,180.43 572.2,180.58 572.8,180.22 573.4,180.41 574,180.28 574.6,179.88 575.2,179.84 575.8,179.67 576.4,179.12 577,178.99 577.6,178.78 578.2,178.61 578.8,178.19 579.4,178.16 580,177.96 580.6,177.88 581.2,177.74 581.8,177.73 582.4,177.64 583,177.63 583.6,177.63 584.2,177.64 584.8,177.7 585.4,177.77 586,177.79 586.6,177.76 587.2,177.93 587.8,178.2 588.4,178.05 589,178.38 589.6,178.41 590.2,178.36 590.8,178.37 591.4,178.7 592,178.81 592.6,178.67 593.2,178.88 593.8,179 594.4,179.03 595,178.92 595.6,179.03 596.2,179.27 596.8,179.3 597.4,179.36 598,179.26 598.6,179.51 599.2,179.49 599.8,179.39 600.4,179.53 601,179.34 601.6,179.45 602.2,179.48 602.8,179.68 603.4,179.72 604,179.57 604.6,179.8 605.2,179.7 605.8,180 606.4,180.09 607,180.11 607.6,179.98 608.2,180.19 608.8,180.25 609.4,180.49 610,180.44 610.6,180.58 611.2,180.72 611.8,181.12 612.4,181.16 613,181.39 613.6,181.56 614.2,181.56 614.8,181.79 615.4,181.78 616,181.98 616.6,181.95 617.2,182.19 617.8,182.19 618.4,182.45 619,182.76 619.6,182.89 620.2,182.92 620.8,182.78 621.4,183.23 622,183.17 622.6,183.31 623.2,183.31 623.8,183.53 624.4,183.44 625,183.43 625.6,183.62 626.2,183.57 626.8,183.63 627.4,183.65 628,183.86 628.6,183.86" fill="none" stroke="#4c4fb4" stroke-width="1.5" stroke-linejoin="round" stroke-linecap="round"/>
<polyline points="517,188.02 517.6,188.09 518.2,188.09 518.8,188.14 519.4,187.94 520,188.2 520.6,188.07 521.2,188.15 521.8,188.17 522.4,188.25 523,188.04 523.6,188.1 524.2,188.25 524.8,188.23 525.4,188.32 526,188.21 526.6,188.46 527.2,188.15 527.8,188.44 528.4,188.35 529,188.27 529.6,188.54 530.2,188.36 530.8,188.47 531.4,188.54 532,188.52 532.6,188.57 533.2,188.59 533.8,188.91 534.4,188.68 535,188.76 535.6,188.78 536.2,189.12 536.8,189.04 537.4,189.19 538,189.3 538.6,189.17 539.2,189.19 539.8,189.24 540.4,189.24 541,189.41 541.6,189.59 542.2,189.48 542.8,189.62 543.4,189.71 544,189.74 544.6,189.73 545.2,189.73 545.8,189.62 546.4,189.76 547,189.98 547.6,189.88 548.2,190 548.8,189.89 549.4,190.05 550,189.96 550.6,190.2 551.2,190.25 551.8,190 552.4,190.27 553,190.09 553.6,190.43 554.2,190.18 554.8,190.19 555.4,190.5 556,190.42 556.6,190.22 557.2,190.41 557.8,190.56 558.4,190.33 559,190.56 559.6,190.4 560.2,190.47 560.8,190.46 561.4,190.34 562,190.46 562.6,190.39 563.2,190.12 563.8,189.66 564.4,189.02 565,188.66 565.6,188.08 566.2,187.94 566.8,187.47 567.4,187.7 568,187.46 568.6,187.64 569.2,187.58 569.8,187.63 570.4,187.74 571,187.8 571.6,187.54 572.2,187.88 572.8,187.82 573.4,187.65 574,187.89 574.6,187.96 575.2,187.83 575.8,188.04 576.4,187.8 577,187.93 577.6,187.87 578.2,188.1 578.8,187.92 579.4,187.91 580,188.18 580.6,187.97 581.2,188.01 581.8,188.13 582.4,187.98 583,188.26 583.6,188.27 584.2,188.27 584.8,188.46 585.4,188.57 586,188.37 586.6,188.78 587.2,188.72 587.8,188.91 588.4,188.98 589,189.19 589.6,189.22 590.2,189.14 590.8,189.22 591.4,189.41 592,189.47 592.6,189.56 593.2,189.77 593.8,189.85 594.4,189.9 595,190.12 595.6,189.98 596.2,190.15 596.8,190.21 597.4,190.33 598,190.47 598.6,190.4 599.2,190.21 599.8,190.43 600.4,190.35 601,190.38 601.6,190.44 602.2,190.33 602.8,190.56 603.4,190.43 604,190.46 604.6,190.56 605.2,190.42 605.8,190.55 606.4,190.84 607,190.57 607.6,190.72 608.2,190.91 608.8,190.85 609.4,190.96 610,191.1 610.6,191.16 611.2,191.07 611.8,191.11 612.4,191.05 613,191.38 613.6,191.22 614.2,191.41 614.8,191.35 615.4,191.64 616,191.6 616.6,191.54 617.2,191.77 617.8,191.65 618.4,191.81 619,191.85 619.6,192.07 620.2,192.07 620.8,191.99 621.4,192.08 622,192.17 622.6,192.36 623.2,192.23 623.8,192.41 624.4,192.2 625,192.25 625.6,192.52 626.2,192.4 626.8,192.3 627.4,192.37 628,192.47 628.6,192.35" fill="none" stroke="#d4488a" stroke-width="1.5" stroke-linejoin="round" stroke-linecap="round"/>
<polyline points="517,199.44 517.6,199.68 518.2,199.67 518.8,199.67 519.4,199.63 520,199.68 520.6,199.39 521.2,199.64 521.8,199.53 522.4,199.73 523,199.66 523.6,199.74 524.2,199.77 524.8,199.82 525.4,199.96 526,200.06 526.6,199.88 527.2,200.09 527.8,200.17 528.4,200.05 529,200.01 529.6,200.2 530.2,200.36 530.8,200.33 531.4,200.27 532,200.53 532.6,200.45 533.2,200.72 533.8,200.53 534.4,200.75 535,200.75 535.6,201.03 536.2,200.8 536.8,201.14 537.4,201.04 538,201.1 538.6,201.11 539.2,201.29 539.8,201.52 540.4,201.61 541,201.66 541.6,201.62 542.2,201.55 542.8,201.72 543.4,201.84 544,201.78 544.6,202.1 545.2,201.84 545.8,201.96 546.4,202.01 547,202.06 547.6,202.08 548.2,202.21 548.8,202.31 549.4,202.57 550,202.49 550.6,202.57 551.2,202.52 551.8,202.5 552.4,202.69 553,202.79 553.6,202.6 554.2,202.84 554.8,202.72 555.4,202.92 556,202.83 556.6,202.78 557.2,202.81 557.8,203.06 558.4,202.99 559,202.83 559.6,203.14 560.2,202.92 560.8,202.92 561.4,202.53 562,201.99 562.6,201.26 563.2,200.54 563.8,199.66 564.4,199.41 565,199.25 565.6,199.46 566.2,199.3 566.8,199.31 567.4,199.24 568,199.41 568.6,199.44 569.2,199.1 569.8,199.18 570.4,199.02 571,199.22 571.6,199.25 572.2,198.94 572.8,199.11 573.4,198.95 574,198.99 574.6,199.03 575.2,198.96 575.8,199.07 576.4,198.97 577,199.07 577.6,199.07 578.2,199.15 578.8,199.12 579.4,199.27 580,199.27 580.6,199.54 581.2,199.56 581.8,199.67 582.4,199.95 583,199.79 583.6,200.04 584.2,200.18 584.8,200.31 585.4,200.47 586,200.44 586.6,200.76 587.2,200.78 587.8,200.68 588.4,200.98 589,201.04 589.6,201.29 590.2,201.3 590.8,201.37 591.4,201.44 592,201.52 592.6,201.48 593.2,201.54 593.8,201.58 594.4,201.42 595,201.6 595.6,201.58 596.2,201.59 596.8,201.65 597.4,201.7 598,201.64 598.6,201.73 599.2,201.65 599.8,201.96 600.4,201.89 601,201.95 601.6,202.02 602.2,201.82 602.8,201.94 603.4,202.08 604,202.17 604.6,202.22 605.2,202.34 605.8,202.46 606.4,202.58 607,202.64 607.6,202.62 608.2,202.87 608.8,202.94 609.4,203.08 610,202.83 610.6,203.12 611.2,203.06 611.8,203.4 612.4,203.52 613,203.51 613.6,203.48 614.2,203.76 614.8,203.72 615.4,203.87 616,203.78 616.6,203.83 617.2,204.18 617.8,204.27 618.4,204.17 619,204.14 619.6,204.29 620.2,204.58 620.8,204.4 621.4,204.66 622,204.56 622.6,204.84 623.2,204.68 623.8,204.95 624.4,204.83 625,204.69 625.6,204.87 626.2,204.91 626.8,204.83 627.4,204.83 628,205.01 628.6,205.08" fill="none" stroke="#84a23e" stroke-width="1.5" stroke-linejoin="round" stroke-linecap="round"/>
<line x1="41.5" y1="328.6" x2="41.5" y2="330.2" stroke="#555" stroke-width="0.9"/>
<line x1="57.1" y1="328.6" x2="57.1" y2="330.2" stroke="#555" stroke-width="0.9"/>
<line x1="72.7" y1="328.6" x2="72.7" y2="330.2" stroke="#555" stroke-width="0.9"/>
<line x1="88.3" y1="328.6" x2="88.3" y2="330.2" stroke="#555" stroke-width="0.9"/>
<line x1="103.9" y1="328.6" x2="103.9" y2="330.2" stroke="#555" stroke-width="0.9"/>
<line x1="119.5" y1="328.6" x2="119.5" y2="330.2" stroke="#555" stroke-width="0.9"/>
<line x1="135.1" y1="328.6" x2="135.1" y2="330.2" stroke="#555" stroke-width="0.9"/>
<line x1="150.7" y1="328.6" x2="150.7" y2="330.2" stroke="#555" stroke-width="0.9"/>
<line x1="166.3" y1="328.6" x2="166.3" y2="330.2" stroke="#555" stroke-width="0.9"/>
<line x1="203.05" y1="328.6" x2="203.05" y2="330.2" stroke="#555" stroke-width="0.9"/>
<line x1="218.65" y1="328.6" x2="218.65" y2="330.2" stroke="#555" stroke-width="0.9"/>
<line x1="234.25" y1="328.6" x2="234.25" y2="330.2" stroke="#555" stroke-width="0.9"/>
<line x1="249.85" y1="328.6" x2="249.85" y2="330.2" stroke="#555" stroke-width="0.9"/>
<line x1="265.45" y1="328.6" x2="265.45" y2="330.2" stroke="#555" stroke-width="0.9"/>
<line x1="281.05" y1="328.6" x2="281.05" y2="330.2" stroke="#555" stroke-width="0.9"/>
<line x1="296.65" y1="328.6" x2="296.65" y2="330.2" stroke="#555" stroke-width="0.9"/>
<line x1="312.25" y1="328.6" x2="312.25" y2="330.2" stroke="#555" stroke-width="0.9"/>
<line x1="327.85" y1="328.6" x2="327.85" y2="330.2" stroke="#555" stroke-width="0.9"/>
<line x1="366.5" y1="328.6" x2="366.5" y2="330.2" stroke="#555" stroke-width="0.9"/>
<line x1="382.1" y1="328.6" x2="382.1" y2="330.2" stroke="#555" stroke-width="0.9"/>
<line x1="397.7" y1="328.6" x2="397.7" y2="330.2" stroke="#555" stroke-width="0.9"/>
<line x1="413.3" y1="328.6" x2="413.3" y2="330.2" stroke="#555" stroke-width="0.9"/>
<line x1="428.9" y1="328.6" x2="428.9" y2="330.2" stroke="#555" stroke-width="0.9"/>
<line x1="444.5" y1="328.6" x2="444.5" y2="330.2" stroke="#555" stroke-width="0.9"/>
<line x1="460.1" y1="328.6" x2="460.1" y2="330.2" stroke="#555" stroke-width="0.9"/>
<line x1="475.7" y1="328.6" x2="475.7" y2="330.2" stroke="#555" stroke-width="0.9"/>
<line x1="491.3" y1="328.6" x2="491.3" y2="330.2" stroke="#555" stroke-width="0.9"/>
<line x1="518.5" y1="328.6" x2="518.5" y2="330.2" stroke="#555" stroke-width="0.9"/>
<line x1="534.1" y1="328.6" x2="534.1" y2="330.2" stroke="#555" stroke-width="0.9"/>
<line x1="549.7" y1="328.6" x2="549.7" y2="330.2" stroke="#555" stroke-width="0.9"/>
<line x1="565.3" y1="328.6" x2="565.3" y2="330.2" stroke="#555" stroke-width="0.9"/>
<line x1="580.9" y1="328.6" x2="580.9" y2="330.2" stroke="#555" stroke-width="0.9"/>
<line x1="596.5" y1="328.6" x2="596.5" y2="330.2" stroke="#555" stroke-width="0.9"/>
<line x1="612.1" y1="328.6" x2="612.1" y2="330.2" stroke="#555" stroke-width="0.9"/>
<line x1="627.7" y1="328.6" x2="627.7" y2="330.2" stroke="#555" stroke-width="0.9"/>
<line x1="643.3" y1="328.6" x2="643.3" y2="330.2" stroke="#555" stroke-width="0.9"/>
<text transform="translate(35.75 340.87) scale(1.502 1)" font-size="13.04" fill="#000" stroke="#000" stroke-width="0.12">0</text>
<text transform="translate(84.84 340.87) scale(1.360 1)" font-size="13.04" fill="#000" stroke="#000" stroke-width="0.12">10</text>
<text transform="translate(133.21 340.87) scale(1.378 1)" font-size="13.04" fill="#000" stroke="#000" stroke-width="0.12">20</text>
<text transform="translate(197.72 340.87) scale(1.375 1)" font-size="13.04" fill="#000" stroke="#000" stroke-width="0.12">0</text>
<text transform="translate(246.04 340.87) scale(1.535 1)" font-size="13.04" fill="#000" stroke="#000" stroke-width="0.12">10</text>
<text transform="translate(295.12 340.87) scale(1.362 1)" font-size="13.04" fill="#000" stroke="#000" stroke-width="0.12">20</text>
<text transform="translate(360.87 340.87) scale(1.466 1)" font-size="13.04" fill="#000" stroke="#000" stroke-width="0.12">0</text>
<text transform="translate(409.94 340.87) scale(1.360 1)" font-size="13.04" fill="#000" stroke="#000" stroke-width="0.12">10</text>
<text transform="translate(458.92 340.87) scale(1.353 1)" font-size="13.04" fill="#000" stroke="#000" stroke-width="0.12">20</text>
<text transform="translate(512.75 340.87) scale(1.502 1)" font-size="13.04" fill="#000" stroke="#000" stroke-width="0.12">0</text>
<text transform="translate(561.27 340.87) scale(1.421 1)" font-size="13.04" fill="#000" stroke="#000" stroke-width="0.12">10</text>
<text transform="translate(609.7 340.87) scale(1.403 1)" font-size="13.04" fill="#000" stroke="#000" stroke-width="0.12">20</text>
<text transform="translate(152.76 255.66) scale(1.349 1)" font-size="11.69" fill="#000" stroke="#000" stroke-width="0.3">(i)</text>
<text transform="translate(312.74 255.64) scale(1.376 1)" font-size="11.8" fill="#000" stroke="#000" stroke-width="0.2">(j)</text>
<text transform="translate(476.96 254.44) scale(1.328 1)" font-size="11.8" fill="#000" stroke="#000" stroke-width="0.3">(k)</text>
<text transform="translate(630.46 254.44) scale(1.337 1)" font-size="11.8" fill="#000" stroke="#000" stroke-width="0.3">(l)</text>
<text transform="translate(135.25 294.92) scale(1.259 1)" font-size="8.2" fill="#c8a040" stroke="#c8a040" stroke-width="0.1">(i1)</text>
<text transform="translate(138.45 319.42) scale(1.241 1)" font-size="8.2" fill="#4a54b4" stroke="#4a54b4" stroke-width="0.1">(i2)</text>
<text transform="translate(73.41 322.07) scale(1.219 1)" font-size="8.2" fill="#82b452" stroke="#82b452" stroke-width="0.1">(i3)</text>
<text transform="translate(299.12 295.07) scale(1.331 1)" font-size="8.2" fill="#82b452" stroke="#82b452" stroke-width="0.1">(j1)</text>
<text transform="translate(306.6 324.87) scale(1.399 1)" font-size="8.2" fill="#4a54b4" stroke="#4a54b4" stroke-width="0.1">(j2)</text>
<text transform="translate(242.37 291.67) scale(1.331 1)" font-size="8.2" fill="#c8a040" stroke="#c8a040" stroke-width="0.1">(j3)</text>
<text transform="translate(453.61 303.47) scale(1.356 1)" font-size="8.2" fill="#c8a040" stroke="#c8a040" stroke-width="0.1">(k1)</text>
<text transform="translate(477.65 324.47) scale(1.240 1)" font-size="8.2" fill="#4a54b4" stroke="#4a54b4" stroke-width="0.1">(k2)</text>
<text transform="translate(608.64 292.67) scale(1.264 1)" font-size="8.2" fill="#c8a040" stroke="#c8a040" stroke-width="0.1">(l1)</text>
<text transform="translate(608.64 323.27) scale(1.264 1)" font-size="8.2" fill="#4a54b4" stroke="#4a54b4" stroke-width="0.1">(l2)</text>
<polyline points="38.8,316.5 43.6,316.5 44.4,300 45,270 45.8,252.6 46.6,254 47.4,259 48.6,268 49.6,279 50.4,290 51.2,297 52.2,304.2 53.4,307.6 55,309 57,309.4" fill="none" stroke="#d0407a" stroke-width="3.6" stroke-linejoin="round" stroke-linecap="round"/>
<polyline points="38.8,316.5 43.6,316.5 44.4,300 45,270 45.8,252.6 46.6,254 47.4,259 48.6,268 49.6,279 50.4,290 51.2,297 52.2,304.2 53.4,307.6 55,309 57,309.4" fill="none" stroke="#4b50b8" stroke-width="2.4" stroke-linejoin="round" stroke-linecap="round"/>
<polyline points="46.4,252.6 47.2,254 48,259 49.2,268 50.2,279 51,290 51.8,297 52.8,304.2 54,307.6 55.6,309 57.6,309.4" fill="none" stroke="#8a8530" stroke-width="1.0" stroke-opacity="0.8" stroke-linejoin="round" stroke-linecap="round"/>
<polyline points="56,308.61 56.3,308.25 56.6,308.04 56.9,309.12 57.2,308.46 57.5,308.53 57.8,308.19 58.1,307.81 58.4,308.25 58.7,307.89 59,308.1 59.3,307.79 59.6,307.96 59.9,307.21 60.2,306.64 60.5,306.51 60.8,307.32 61.1,306.31 61.4,306.98 61.7,306.81 62,305.8 62.3,306.8 62.6,305.45 62.9,306.64 63.2,306.45 63.5,305.3 63.8,305.96 64.1,305.82 64.4,304.7 64.7,305.42 65,304.4 65.3,305.51 65.6,305 65.9,305.32 66.2,303.69 66.5,303.96 66.8,304.29 67.1,304.12 67.4,303.29 67.7,304.27 68,304.05 68.3,303.03 68.6,302.63 68.9,303.32 69.2,302.75 69.5,303.01 69.8,302.59 70.1,302.3 70.4,301.59 70.7,301.67 71,302.08 71.3,302.41 71.6,301.82 71.9,302.23 72.2,301.79 72.5,302.23 72.8,301.77 73.1,301.13 73.4,300.73 73.7,300.51 74,300.36 74.3,301.57 74.6,301.49 74.9,301.19 75.2,300.05 75.5,300.83 75.8,299.87 76.1,300.99 76.4,300.51 76.7,300.55 77,300.22 77.3,299.81 77.6,300.4 77.9,300.47 78.2,299.22 78.3,299.49 78.5,299.9 78.7,299.74 78.9,299.24 79.1,299.24 79.3,299.99 79.5,298.82 79.7,298.64 79.9,299.33 80.1,298.63 80.3,299.59 80.5,298.64 80.7,299.56 80.9,298.66 81.1,299.43 81.3,299.19 81.5,299.12 81.8,298.24 82.1,298.11 82.4,297.85 82.7,298.04 83,298.77 83.3,297.75 83.6,297.98 83.9,298.46 84.2,297.75 84.5,297.98 84.8,297.77 85.1,298.43 85.4,297.49 85.7,298.85 86,298.16 86.3,298.35 86.6,298.09 86.9,298.01 87.2,298.77 87.5,298.65 87.8,298.54 88.1,297.28 88.4,298.18 88.7,298.75 89,298.26 89.3,298.07 89.6,298.29 89.9,297.54 90.2,298.42 90.5,298.52 90.8,297.38 91.1,298.09 91.4,298.23 91.7,297.84 92,298.38 92.3,298.77 92.6,298.74 92.9,297.79 93.2,297.55 93.5,298.67 93.8,298.29 94.1,298.64 94.4,298.71 94.7,297.77 95,298.27 95.3,297.82 95.6,298.61 95.9,298.45 96.2,297.73 96.5,298.15 96.8,298.3 97.1,297.73 97.4,297.65 97.7,298.13 98,297.49 98.3,298.17 98.6,298.88 98.9,298.71 99.2,297.48 99.5,298.71 99.8,298.54 100.1,298.54 100.4,297.47 100.7,298.66 101,297.78 101.3,298.78 101.6,298.03 101.9,298.12 102.2,297.83 102.5,298.96 102.8,297.95 103.1,299.01 103.4,298.46 103.7,297.9 104,298.73 104.3,298.55 104.6,297.77 104.9,299.06 105.2,298.2 105.5,297.82 105.8,299.03 106.1,298.99 106.4,298.47 106.7,298.17 107,298.73 107.3,298.85 107.6,299.04 107.9,298.74 108.2,298.88 108.5,299.15 108.8,298.32 109.1,298.33 109.4,298.83 109.7,299.29 110,299.38 110.3,299.49 110.6,298.84 110.9,299.3 111.2,298.35 111.5,298.83 111.8,298.33 112.1,299.58 112.4,299.87 112.7,299.36 113,299.51 113.3,298.93 113.6,299.62 113.9,298.51 114.2,298.99 114.5,298.98 114.8,299.82 115.1,298.73 115.4,298.73 115.7,298.64 116,299.87 116.3,299.05 116.6,300.01 116.9,299.08 117.2,299.94 117.5,298.94 117.8,300.09 118.1,300.22 118.4,300.09 118.7,299.82 119,300.16 119.3,300.21 119.6,300.31 119.9,299.23 120.2,300.18 120.5,300.1 120.8,299.43 121.1,299.18 121.4,300.38 121.7,299.73 122,299.85 122.3,300.45 122.6,299.83 122.9,299.49 123.2,300.22 123.5,300 123.8,299.62 124.1,300.32 124.4,300.69 124.7,299.66 125,300.6 125.3,300.54 125.6,300.2 125.9,299.7 126.2,300.48 126.5,299.9 126.8,299.88 127.1,300.88 127.4,299.97 127.7,299.72 128,300.95 128.3,301.22 128.6,300.15 128.9,300.34 129.2,300.59 129.5,300.95 129.8,299.8 130.1,300.85 130.4,300.21 130.7,301.36 131,300.56 131.3,301.44 131.6,300.68 131.9,301.04 132.2,300.08 132.5,300.37 132.8,300.55 133.1,300.7 133.4,300.42 133.7,300.84 134,300.34 134.3,301.14 134.6,301.8 134.9,301.66 135.2,301.32 135.5,301.92 135.8,301.55 136.1,301.42 136.4,301.17 136.7,300.6 137,301.93 137.3,301.96 137.6,301.85 137.9,301.69 138.2,301.92 138.5,302.18 138.8,302.24 139.1,301.94 139.4,300.77 139.7,302.29 140,301.71 140.3,301.54 140.6,301.52 140.9,301.28 141.2,300.92 141.5,301.87 141.8,301.88 142.1,301.05 142.4,302.4 142.7,302.39 143,302.34 143.3,301.83 143.6,301.6 143.9,301.76 144.2,301.61 144.5,302.56 144.8,302.52 145.1,302.5 145.4,301.91 145.7,301.92 146,302.21 146.3,301.59 146.6,301.44 146.9,302.74 147.2,301.61 147.5,301.62 147.8,301.99 148.1,301.36 148.4,302.08 148.7,301.51 149,302.6 149.3,301.42 149.6,302.58 149.9,301.75 150.2,302.59 150.5,302.63 150.8,302.89 151.1,301.66 151.4,302.97 151.7,301.65 152,301.99 152.3,301.45 152.6,302.25 152.9,301.6 153.2,302.38 153.5,303 153.8,302.77 154.1,302.57 154.4,301.7 154.7,303.15 155,302.17 155.3,303.12 155.6,301.85 155.9,302.11 156.2,303.16 156.5,302.86 156.8,301.97 157.1,302.42 157.4,302.58 157.7,302.13 158,302.09 158.3,301.89 158.6,302.59 158.9,302.45 159.2,302.36 159.5,302.58 159.8,302.39 160.1,302.47 160.4,303.09 160.7,302.12 161,302.05 161.3,302.63 161.6,302.39 161.9,302.7 162.2,303.33 162.5,303.49 162.8,303.3" fill="none" stroke="#8a8530" stroke-width="3.0" stroke-linejoin="round" stroke-linecap="round"/>
<polyline points="56,309.77 56.4,308.9 56.8,309.06 57.2,308.87 57.6,309.35 58,309.15 58.4,309.27 58.8,308.17 59.2,308.44 59.6,307.84 60,307.93 60.4,308.14 60.8,307.43 61.2,307.51 61.6,307.91 62,307.65 62.4,307.13 62.8,307.45 63.2,307.58 63.6,306.49 64,307.32 64.4,307.06 64.8,306.5 65.2,306.15 65.6,306.98 66,306.1 66.4,305.68 66.8,305.56 67.2,306.33 67.6,305.9 68,306.02 68.4,305.8 68.8,305.43 69.2,305.83 69.6,304.98 70,305.06 70.4,305.3 70.8,304.95 71.2,305.15 71.6,304.71 72,304.77 72.4,303.88 72.8,304 73.2,303.98 73.6,303.63 74,303.72 74.4,303.47 74.8,303.58 75.2,303.91 75.6,303.49 76,303.4 76.4,303.12 76.8,303.09 77.2,303.8 77.6,303.35 78,303.21 78.3,302.61 78.5,303.23 78.7,302.51 78.9,302.72 79.1,303.4 79.3,302.94 79.5,302.79 79.7,302.89 79.9,303.04 80.1,302.92 80.3,302.25 80.5,302.01 80.7,302.33 80.9,302.26 81.1,302.18 81.3,303.04 81.5,302.95 81.6,302.27 82,302.65 82.4,302.31 82.8,302.91 83.2,302.34 83.6,302.08 84,302.03 84.4,302.38 84.8,302 85.2,302.35 85.6,302.7 86,302.08 86.4,301.92 86.8,302.91 87.2,302.38 87.6,301.94 88,301.95 88.4,302.08 88.8,302.76 89.2,303.01 89.6,302.63 90,302.25 90.4,302.69 90.8,303.49 91.2,302.99 91.6,303.57 92,303.5 92.4,302.54 92.8,303.45 93.2,303.46 93.6,303.34 94,303.08 94.4,303.58 94.8,303 95.2,303.45 95.6,303.54 96,304.21 96.4,304.18 96.8,303.51 97.2,303.86 97.6,303.54 98,304.49 98.4,304.5 98.8,303.88 99.2,304.36 99.6,304.39 100,303.9 100.4,304.7 100.8,304.5 101.2,304.85 101.6,304.62 102,304.05 102.4,304.5 102.8,304.2 103.2,305.36 103.6,305.36 104,305.37 104.4,304.81 104.8,304.58 105.2,305.63 105.6,305.77 106,304.81 106.4,305.35 106.8,304.92 107.2,305.81 107.6,305.89 108,305.19 108.4,305.67 108.8,305.82 109.2,305.55 109.6,306.34 110,305.87 110.4,305.68 110.8,306.14 111.2,306.43 111.6,305.86 112,306.06 112.4,306.95 112.8,306.6 113.2,306.41 113.6,306.57 114,306.16 114.4,306.35 114.8,306.55 115.2,306.92 115.6,306.55 116,306.61 116.4,306.49 116.8,307.23 117.2,306.82 117.6,307.69 118,307.7 118.4,306.82 118.8,307.09 119.2,307.67 119.6,307.19 120,307.16 120.4,308.18 120.8,307.81 121.2,307.75 121.6,308.18 122,308.27 122.4,307.59 122.8,307.54 123.2,308 123.6,308.05 124,308.16 124.4,308.53 124.8,308.53 125.2,308.96 125.6,307.96 126,308.38 126.4,308.37 126.8,309.05 127.2,308.38 127.6,308.37 128,308.74 128.4,308.77 128.8,308.65 129.2,308.68 129.6,309.55 130,309.03 130.4,309.59 130.8,309.28 131.2,308.74 131.6,309.94 132,309.8 132.4,310.02 132.8,310.03 133.2,310 133.6,309.24 134,309.68 134.4,309.42 134.8,309.7 135.2,309.35 135.6,309.79 136,310.58 136.4,309.78 136.8,310.46 137.2,310.13 137.6,310.15 138,310.85 138.4,310.95 138.8,310.49 139.2,310.74 139.6,310.13 140,310.36 140.4,311.2 140.8,310.77 141.2,310.77 141.6,311.05 142,310.26 142.4,310.93 142.8,310.87 143.2,311.33 143.6,310.53 144,311.54 144.4,310.52 144.8,310.68 145.2,311.21 145.6,311.35 146,310.86 146.4,310.76 146.8,311.72 147.2,310.98 147.6,311.44 148,311.51 148.4,311.31 148.8,311.54 149.2,311.51 149.6,312.04 150,311.2 150.4,311.85 150.8,311.32 151.2,311.55 151.6,311.92 152,311.51 152.4,311.57 152.8,312.13 153.2,311.35 153.6,311.85 154,312.54 154.4,312.57 154.8,311.5 155.2,311.71 155.6,311.81 156,312.65 156.4,312.63 156.8,312.66 157.2,312.09 157.6,311.87 158,312.72 158.4,312.6 158.8,312.53 159.2,313.02 159.6,312.66 160,311.92 160.4,312.93 160.8,312.35 161.2,312.82 161.6,313.19 162,312.27 162.4,312.28 162.8,312.31" fill="none" stroke="#d0407a" stroke-width="3.4" stroke-linejoin="round" stroke-linecap="round"/>
<polyline points="56,309.14 56.35,309.68 56.7,309.01 57.05,309.21 57.4,309.3 57.75,309.31 58.1,308.85 58.45,308.78 58.8,308.19 59.15,308.48 59.5,308.31 59.85,308.67 60.2,308.25 60.55,308.34 60.9,307.9 61.25,307.53 61.6,308.08 61.95,307.94 62.3,307.38 62.65,306.98 63,307.29 63.35,307.16 63.7,307.32 64.05,307.03 64.4,306.83 64.75,306.78 65.1,306.47 65.45,306.03 65.8,305.93 66.15,306.69 66.5,306.48 66.85,305.82 67.2,306.3 67.55,305.82 67.9,305.29 68.25,305.92 68.6,305.54 68.95,305.77 69.3,305.41 69.65,304.71 70,305.12 70.35,305.2 70.7,305.23 71.05,304.58 71.4,304.69 71.75,304.78 72.1,304.16 72.45,304.76 72.8,304.61 73.15,303.79 73.5,304.25 73.85,303.94 74.2,303.68 74.55,304.01 74.9,304.29 75.25,303.79 75.6,303.27 75.95,303.57 76.3,303.77 76.65,303.86 77,303.54 77.35,302.78 77.7,303.62 78.05,303.17 78.3,302.59 78.5,302.59 78.7,302.5 78.9,303.03 79.1,302.47 79.3,303.08 79.5,302.33 79.7,302.71 79.9,302.57 80.1,302.13 80.3,302.08 80.5,302.97 80.7,303.03 80.9,302.16 81.1,302.76 81.3,303 81.5,302.9 81.55,302.88 81.9,302.31 82.25,302.67 82.6,302.42 82.95,302.84 83.3,302.58 83.65,302.7 84,302.69 84.35,302.2 84.7,302.5 85.05,301.86 85.4,301.95 85.75,302.65 86.1,302.12 86.45,302.45 86.8,302.39 87.15,302.13 87.5,302.5 87.85,302.88 88.2,302.35 88.55,302.42 88.9,302.3 89.25,302.35 89.6,303.05 89.95,302.98 90.3,303.29 90.65,303.04 91,303.38 91.35,302.69 91.7,302.71 92.05,302.79 92.4,303.01 92.75,303.66 93.1,302.95 93.45,303.23 93.8,302.89 94.15,302.9 94.5,303.47 94.85,303.59 95.2,303.54 95.55,304 95.9,304.01 96.25,304.16 96.6,303.84 96.95,303.58 97.3,303.51 97.65,304.2 98,303.65 98.35,303.56 98.7,304.31 99.05,303.79 99.4,304.34 99.75,303.98 100.1,304.26 100.45,303.91 100.8,304.33 101.15,304.34 101.5,304.33 101.85,304.26 102.2,304.76 102.55,304.93 102.9,304.5 103.25,304.4 103.6,304.68 103.95,305.17 104.3,304.8 104.65,305.23 105,304.71 105.35,305.4 105.7,304.9 106.05,305.04 106.4,305.6 106.75,305.4 107.1,305.62 107.45,305.33 107.8,305.77 108.15,305.46 108.5,305.69 108.85,305.72 109.2,306.24 109.55,306.14 109.9,305.99 110.25,306.35 110.6,306.17 110.95,306.34 111.3,306.19 111.65,306.31 112,306 112.35,306.78 112.7,306.54 113.05,306.78 113.4,306.62 113.75,306.1 114.1,306.24 114.45,307.07 114.8,306.95 115.15,307.21 115.5,307.26 115.85,306.65 116.2,307.46 116.55,307.14 116.9,307.32 117.25,307.17 117.6,306.96 117.95,307.25 118.3,307.28 118.65,307.18 119,307.28 119.35,307.44 119.7,307.32 120.05,307.25 120.4,307.96 120.75,307.57 121.1,307.63 121.45,308.1 121.8,308.07 122.15,307.87 122.5,307.78 122.85,308.32 123.2,307.82 123.55,308.1 123.9,308.06 124.25,308.73 124.6,308.03 124.95,308.44 125.3,308.42 125.65,308 126,308.18 126.35,308.94 126.7,308.89 127.05,308.37 127.4,308.39 127.75,309.2 128.1,308.9 128.45,309.08 128.8,309.33 129.15,308.73 129.5,309.02 129.85,309.49 130.2,308.82 130.55,308.94 130.9,309.62 131.25,309.63 131.6,309.36 131.95,309.03 132.3,309.78 132.65,309.31 133,309.81 133.35,309.36 133.7,309.31 134.05,309.9 134.4,309.65 134.75,309.69 135.1,309.8 135.45,309.88 135.8,309.94 136.15,310.17 136.5,309.68 136.85,310.3 137.2,310.17 137.55,310.55 137.9,310.07 138.25,310.5 138.6,310.1 138.95,310.64 139.3,310.68 139.65,310.59 140,310.58 140.35,311.08 140.7,310.53 141.05,310.28 141.4,310.56 141.75,310.31 142.1,311.19 142.45,311.17 142.8,310.55 143.15,311.03 143.5,310.64 143.85,311.32 144.2,310.92 144.55,310.59 144.9,311.2 145.25,310.69 145.6,311.53 145.95,311.6 146.3,311.32 146.65,310.98 147,311.54 147.35,310.84 147.7,310.95 148.05,311.17 148.4,310.98 148.75,311.81 149.1,311.64 149.45,311.81 149.8,311.69 150.15,311.3 150.5,311.38 150.85,311.75 151.2,311.96 151.55,311.83 151.9,311.56 152.25,312.07 152.6,311.72 152.95,311.97 153.3,312.22 153.65,312.07 154,311.9 154.35,312.06 154.7,311.71 155.05,311.98 155.4,312.41 155.75,312.09 156.1,311.66 156.45,312.49 156.8,311.86 157.15,311.77 157.5,312.35 157.85,312.58 158.2,311.95 158.55,312.32 158.9,312.37 159.25,312.06 159.6,312.6 159.95,312.26 160.3,312.73 160.65,312.58 161,312.63 161.35,312.37 161.7,312.94 162.05,312.22 162.4,312.56 162.75,312.38" fill="none" stroke="#4b50b8" stroke-width="2.8" stroke-linejoin="round" stroke-linecap="round"/>
<polyline points="58,307.75 58.5,307.66 59,307.68 59.5,307.11 60,306.97 60.5,306.68 61,306.57 61.5,306.34 62,306.26 62.5,306.31 63,306.43 63.5,306.08 64,305.73 64.5,305.58 65,305.58 65.5,305.2 66,304.88 66.5,305.17 67,304.87 67.5,304.4 68,304.21 68.5,304.06 69,304.41 69.5,303.73 70,303.88 70.5,303.96 71,303.28 71.5,303.37 72,303.31 72.5,303.45 73,302.89 73.5,302.82 74,302.69 74.5,302.45 75,302.7 75.5,302.67 76,302.32 76.5,301.96 77,302.25 77.5,302.14 78,301.97 78.3,301.71 78.5,301.96 78.7,301.79 78.9,301.72 79.1,301.64 79.3,301.41 79.5,301.49 79.7,301.65 79.9,301.53 80.1,301.3 80.3,301.57 80.5,301.57 80.7,301.08 80.9,301.13 81.1,301.16 81.3,301.02 81.5,301.45 82,301.35 82.5,301.26 83,301.5 83.5,301.08 84,300.95 84.5,300.87 85,300.97 85.5,301.24 86,301.06 86.5,300.8 87,301.09 87.5,300.93 88,301.34 88.5,301.11 89,301.21 89.5,301.55 90,301.73 90.5,301.67 91,301.54 91.5,301.82 92,301.66 92.5,301.57 93,301.8 93.5,302.11 94,302.14 94.5,301.95 95,302.4 95.5,302.48 96,302.23 96.5,302.72 97,302.38 97.5,302.34 98,302.69 98.5,302.98 99,302.9 99.5,302.95 100,302.99 100.5,302.95 101,303.04 101.5,303.18 102,303.35 102.5,303.67 103,303.22 103.5,303.41 104,303.91 104.5,303.81 105,303.54 105.5,303.84 106,304.05 106.5,304.29 107,303.87 107.5,304.44 108,304.44 108.5,304.23 109,304.46 109.5,304.72 110,304.45 110.5,304.8 111,304.8 111.5,304.58 112,304.78 112.5,304.95 113,304.86 113.5,305.43 114,305.09 114.5,305.16 115,305.46 115.5,305.5 116,305.45 116.5,305.54 117,305.72 117.5,306.05 118,305.63 118.5,306.21 119,306.3 119.5,306.23 120,306.38 120.5,306.2 121,306.63 121.5,306.57 122,306.61 122.5,306.54 123,306.48 123.5,306.84 124,306.94 124.5,306.58 125,306.84 125.5,307.05 126,306.93 126.5,306.95 127,307.06 127.5,307.03 128,307.17 128.5,307.41 129,307.55 129.5,307.71 130,307.58 130.5,307.55 131,308.1 131.5,308 132,308.11 132.5,308.19 133,308.04 133.5,308.28 134,308.19 134.5,308.47 135,308.64 135.5,308.23 136,308.78 136.5,308.45 137,308.46 137.5,308.57 138,308.94 138.5,309.19 139,309.31 139.5,308.92 140,309.16 140.5,309.51 141,309.52 141.5,309.53 142,309.22 142.5,309.28 143,309.25 143.5,309.36 144,309.49 144.5,309.77 145,309.73 145.5,309.48 146,309.53 146.5,309.74 147,310.04 147.5,309.84 148,310.07 148.5,310.05 149,310.21 149.5,310.02 150,310 150.5,310.09 151,310.34 151.5,310.07 152,310.06 152.5,310.49 153,310.32 153.5,310.46 154,310.22 154.5,310.19 155,310.34 155.5,310.51 156,310.31 156.5,310.5 157,310.94 157.5,310.68 158,310.47 158.5,310.99 159,310.73 159.5,310.7 160,311.02 160.5,311.08 161,310.92 161.5,311.2 162,311.34 162.5,311.06 163,311.2" fill="none" stroke="#7cc070" stroke-width="1.0" stroke-linejoin="round" stroke-linecap="round"/>
<line x1="72.50" y1="321.40" x2="58.00" y2="309.80" stroke="#78b868" stroke-width="1.4"/>
<polygon points="58.00,309.80 63.84,311.30 60.75,315.17" fill="#78b868"/>
<polyline points="205.6,250.5 206.6,252.5 207.6,260.5 208.6,273 209.8,284.5 211,295.5 212.2,304.5 213.4,310.5 215.5,315.2 219,316 224,314.2 232,309.6 240,305 246,302.6" fill="none" stroke="#8ccc8a" stroke-width="2.6" stroke-linejoin="round" stroke-linecap="round"/>
<polyline points="246,302.24 246.35,302.56 246.7,302.04 247.05,302.91 247.4,302.04 247.75,302.45 248.1,302.93 248.45,302.14 248.8,302.9 249.15,302.52 249.5,302.22 249.85,302.29 250.2,302.18 250.55,301.82 250.9,302.67 251.25,301.79 251.6,302.56 251.95,302.33 252.3,301.13 252.65,301.41 253,301.67 253.35,302.1 253.7,301.16 254.05,301.73 254.4,301.33 254.75,301.87 255.1,302.03 255.45,301.75 255.8,300.91 256.15,301.66 256.5,301.16 256.85,301.68 257.2,301.12 257.55,301.68 257.9,301.75 258.25,301.48 258.6,301.44 258.95,301.38 259.3,301.02 259.65,300.39 260,301.48 260.35,300.76 260.7,300.14 261.05,300.73 261.4,300.71 261.75,300.42 262.1,301.49 262.45,300.31 262.8,301.42 263.15,300.93 263.5,300.42 263.85,300.68 264.2,300.81 264.55,300.36 264.9,301.27 265.25,301.12 265.6,301.59 265.95,301.38 266.3,301.33 266.65,301.63 267,301.54 267.35,301.15 267.7,301.01 268.05,300.99 268.4,301.41 268.75,301.57 269.1,301.44 269.45,301.46 269.8,300.33 270.15,300.89 270.5,300.43 270.85,301.14 271.2,301.14 271.55,301.12 271.9,301.54 272.25,300.66 272.6,301.37 272.95,301.18 273.3,300.66 273.65,301.74 274,300.45 274.35,301.04 274.7,301.14 275.05,301.23 275.4,301.78 275.75,301.19 276.1,301.66 276.45,300.84 276.8,301.11 277.15,300.65 277.5,301.35 277.85,301.05 278.2,301.56 278.55,300.63 278.9,301.13 279.25,301.83 279.6,300.51 279.95,301.42 280.3,301.47 280.65,301.56 281,301.34 281.35,301.28 281.7,301.95 282.05,301.02 282.4,301.63 282.75,301.6 283.1,301.71 283.45,301.38 283.8,300.75 284.15,301.83 284.5,301.16 284.85,301.89 285.2,302.19 285.55,301.92 285.9,301.42 286.25,302.08 286.6,301.44 286.95,301.36 287.3,301.74 287.65,301.87 288,301.94 288.35,301.77 288.7,301.59 289.05,302.08 289.4,301.52 289.75,301.93 290.1,301.11 290.45,301.31 290.8,302.36 291.15,301.47 291.5,301.77 291.85,301.29 292.2,302.3 292.55,301.71 292.9,301.34 293.25,301.68 293.6,302.62 293.95,302.39 294.3,301.36 294.65,302.71 295,301.5 295.35,302.1 295.7,302.19 296.05,302.56 296.4,301.68 296.75,302.66 297.1,301.91 297.45,302.58 297.8,302.87 298.15,302.42 298.5,301.61 298.85,302.56 299.2,302.26 299.55,302.7 299.9,302.79 300.25,301.86 300.6,302.53 300.95,302.65 301.3,303.07 301.65,302.65 302,302.67 302.35,302.91 302.7,302.07 303.05,303.07 303.4,302.7 303.75,302.8 304.1,302.15 304.45,302.68 304.8,302.54 305.15,302.28 305.5,303.32 305.85,303.21 306.2,302.69 306.55,302.17 306.9,303.46 307.25,302.27 307.6,302.83 307.95,302.94 308.3,303.36 308.65,303.1 309,303.05 309.35,302.94 309.7,303.61 310.05,303.41 310.4,302.78 310.75,303.41 311.1,303.65 311.45,303.02 311.8,302.48 312.15,302.47 312.5,303.75 312.85,302.71 313.2,303.56 313.55,302.73 313.9,302.79 314.25,302.72 314.6,303.66 314.95,302.66 315.3,303.21 315.65,303.71 316,303.33 316.35,302.63 316.7,302.66 317.05,303.82 317.4,303.09 317.75,302.81 318.1,303.45 318.45,303.83 318.8,303.17 319.15,302.96 319.5,303.05 319.85,303.47 320.2,303.92 320.55,302.96 320.9,303.93 321.25,303.84" fill="none" stroke="#8ccc8a" stroke-width="2.8" stroke-linejoin="round" stroke-linecap="round"/>
<polyline points="196.5,321.8 200.6,321.8 201.4,300 202.6,268 204,250 205,252 206,260 207,272.5 208.2,284 209.4,295 210.6,304 211.8,310 213.2,313 214.5,313.8" fill="none" stroke="#4b50b8" stroke-width="2.6" stroke-linejoin="round" stroke-linecap="round"/>
<polyline points="196,321.8 200.1,321.8 200.9,300 202.1,268 203.5,250" fill="none" stroke="#8a8530" stroke-width="1.1" stroke-linejoin="round" stroke-linecap="round"/>
<polyline points="214,314.67 214.35,313.25 214.7,314.06 215.05,313.59 215.4,314.11 215.75,313.23 216.1,313.82 216.45,312.62 216.8,313.67 217.15,312.72 217.5,312.27 217.85,312.37 218.2,312.64 218.55,311.68 218.9,312.05 219.25,311.39 219.6,311.34 219.95,311.36 220.3,311.31 220.65,311.25 221,311.83 221.35,311.2 221.7,311.69 222.05,311.62 222.4,311.49 222.75,311.44 223.1,310.79 223.45,310.8 223.8,310.97 224.15,310.37 224.5,309.68 224.85,310.08 225.2,309.97 225.55,309.35 225.9,309.11 226.25,309.11 226.6,309.7 226.95,309.74 227.3,309.39 227.65,308.94 228,308.26 228.35,308.1 228.7,308.88 229.05,308.58 229.4,308.36 229.75,307.83 230.1,307.64 230.45,307.61 230.8,307.42 231.15,307.97 231.5,307.45 231.85,307.68 232.2,307.4 232.55,307.45 232.9,307.61 233.25,307.55 233.6,306.56 233.95,307.58 234.3,307.32 234.65,307.16 235,306.53 235.35,307.12 235.7,306.81 236.05,305.9 236.4,306.41 236.75,306.53 237.1,306.28 237.4,306.39 237.6,305.81 237.8,305.94 238,305.05 238.2,305.81 238.4,305.02 238.6,305.76 238.8,305.95 239,305.14 239.2,304.65 239.4,304.55 239.6,305.15 239.8,304.58 240,305.33 240.2,305.12 240.4,304.94 240.6,305.15 240.95,304.36 241.3,304.74 241.65,304.11 242,304.76 242.35,305.05 242.7,304.1 243.05,304.79 243.4,305.17 243.75,304.18 244.1,303.96 244.45,303.97 244.8,304.73 245.15,303.62 245.5,304.54 245.85,303.77 246.2,304.4 246.55,304.55 246.9,304.56 247.25,303.71 247.6,304.28 247.95,304.02 248.3,304.87 248.65,304.13 249,304.02 249.35,304.42 249.7,304.04 250.05,304.3 250.4,305.04 250.75,304.58 251.1,304.44 251.45,305.56 251.8,304.69 252.15,305.5 252.5,305.41 252.85,305.3 253.2,305.5 253.55,305.47 253.9,305.9 254.25,305.76 254.6,305.24 254.95,305.85 255.3,305.71 255.65,306.35 256,305.29 256.35,305.83 256.7,306.62 257.05,305.43 257.4,306.42 257.75,306.73 258.1,306.39 258.45,305.68 258.8,306.76 259.15,306.1 259.5,306.53 259.85,307.01 260.2,306.37 260.55,306.33 260.9,306.21 261.25,306.58 261.6,306.3 261.95,307.18 262.3,307.43 262.65,306.4 263,307.12 263.35,307.55 263.7,307.58 264.05,306.92 264.4,307.35 264.75,307.62 265.1,307.44 265.45,308.17 265.8,308.1 266.15,308.24 266.5,307.12 266.85,307.03 267.2,307.88 267.55,307.92 267.9,307.54 268.25,307.56 268.6,308.38 268.95,308.45 269.3,307.41 269.65,307.62 270,308.51 270.35,308.15 270.7,307.83 271.05,309 271.4,308.19 271.75,307.89 272.1,308.41 272.45,308.46 272.8,308.85 273.15,309.08 273.5,308.17 273.85,308.78 274.2,309.44 274.55,308.91 274.9,309.53 275.25,309.6 275.6,309.52 275.95,309.36 276.3,308.66 276.65,309.94 277,309.04 277.35,309.1 277.7,309.44 278.05,309.54 278.4,309.92 278.75,309.66 279.1,310.25 279.45,310.11 279.8,309.97 280.15,309.5 280.5,310.06 280.85,309.91 281.2,310.32 281.55,309.69 281.9,310.46 282.25,310.39 282.6,309.69 282.95,310.8 283.3,310.21 283.65,310.19 284,310.09 284.35,310.21 284.7,310.83 285.05,311.05 285.4,310.46 285.75,310.59 286.1,310.55 286.45,310.11 286.8,311.23 287.15,310.62 287.5,310.11 287.85,310.45 288.2,310.59 288.55,311.31 288.9,310.51 289.25,310.52 289.6,311.61 289.95,310.82 290.3,311.74 290.65,310.5 291,310.65 291.35,310.87 291.7,311.17 292.05,311.42 292.4,311.17 292.75,312.11 293.1,312.12 293.45,311.64 293.8,312.27 294.15,312.15 294.5,312.35 294.85,311.85 295.2,311.23 295.55,311.92 295.9,311.24 296.25,311.79 296.6,312.65 296.95,311.86 297.3,312.31 297.65,312.73 298,312.43 298.35,312.02 298.7,312.25 299.05,311.75 299.4,312.72 299.75,312.57 300.1,312.16 300.45,312.36 300.8,312.98 301.15,311.9 301.5,312.17 301.85,312.79 302.2,313.05 302.55,312.74 302.9,312.91 303.25,312.08 303.6,312.9 303.95,312.92 304.3,312.28 304.65,312.96 305,312.61 305.35,312.78 305.7,313.44 306.05,313.55 306.4,312.43 306.75,312.57 307.1,313.38 307.45,313.82 307.8,313.46 308.15,313.09 308.5,313.69 308.85,313.96 309.2,312.82 309.55,312.82 309.9,313.42 310.25,313.84 310.6,313.61 310.95,313.59 311.3,313.18 311.65,313.23 312,313.1 312.35,313.73 312.7,313.49 313.05,313.97 313.4,313.85 313.75,313.68 314.1,314.34 314.45,313.78 314.8,314 315.15,314.03 315.5,314.41 315.85,314.84 316.2,314.54 316.55,313.55 316.9,314.64 317.25,314.36 317.6,314.56 317.95,313.75 318.3,313.76 318.65,313.8 319,313.99 319.35,314.02 319.7,314.89 320.05,315.01 320.4,314.55 320.75,314.32 321.1,314.67 321.45,314.26" fill="none" stroke="#4b50b8" stroke-width="4.0" stroke-linejoin="round" stroke-linecap="round"/>
<polyline points="214,313.07 214.8,312.91 215.6,312.33 216.4,312.17 217.2,311.98 218,311.41 218.8,311.22 219.6,310.9 220.4,310.67 221.2,309.89 222,309.68 222.8,309.89 223.6,309.45 224.4,308.87 225.2,308.87 226,308.24 226.8,308.07 227.6,307.83 228.4,307.41 229.2,307.07 230,307 230.8,306.83 231.6,306.38 232.4,306.33 233.2,306.27 234,305.45 234.8,305.33 235.6,304.96 236.4,305.06 237.2,304.64 237.4,304.6 237.6,304.42 237.8,304.67 238,304.6 238.2,304.34 238.4,304.51 238.6,304.09 238.8,304.09 239,304.39 239.2,303.89 239.4,303.78 239.6,303.65 239.8,303.97 240,303.99 240.2,303.51 240.4,303.74 240.6,303.66 241.2,303.55 242,303.39 242.8,303.39 243.6,303.14 244.4,303.51 245.2,302.98 246,303.08 246.8,303.14 247.6,303.29 248.4,303.32 249.2,303.49 250,303.88 250.8,303.57 251.6,303.73 252.4,303.93 253.2,304.34 254,304.29 254.8,304.41 255.6,304.36 256.4,304.54 257.2,304.99 258,304.88 258.8,305.16 259.6,305.17 260.4,305.35 261.2,305.41 262,305.96 262.8,305.92 263.6,305.97 264.4,305.94 265.2,306.43 266,306.4 266.8,306.27 267.6,306.42 268.4,307.01 269.2,306.77 270,306.95 270.8,306.89 271.6,307.48 272.4,307.23 273.2,307.55 274,307.77 274.8,307.79 275.6,307.82 276.4,307.88 277.2,308.27 278,308.13 278.8,308.48 279.6,308.81 280.4,308.91 281.2,308.86 282,308.92 282.8,308.76 283.6,309.26 284.4,309.42 285.2,309.18 286,309.12 286.8,309.5 287.6,309.55 288.4,309.9 289.2,309.95 290,309.86 290.8,310.02 291.6,310.1 292.4,310.31 293.2,310.4 294,310.52 294.8,310.35 295.6,310.81 296.4,310.46 297.2,310.69 298,310.97 298.8,310.76 299.6,311.21 300.4,311.13 301.2,311.22 302,311.15 302.8,311.41 303.6,311.61 304.4,311.38 305.2,311.93 306,312.1 306.8,311.91 307.6,312.01 308.4,312.25 309.2,312.23 310,312.32 310.8,312.29 311.6,312.4 312.4,312.39 313.2,312.31 314,312.8 314.8,312.81 315.6,312.5 316.4,313.05 317.2,313.25 318,312.99 318.8,313.37 319.6,313.04 320.4,313.37 321.2,313.55" fill="none" stroke="#8a8530" stroke-width="0.9" stroke-linejoin="round" stroke-linecap="round"/>
<line x1="237.80" y1="290.20" x2="209.80" y2="290.20" stroke="#8a7a30" stroke-width="1.3"/>
<polygon points="209.80,290.20 214.80,287.95 214.80,292.45" fill="#8a7a30"/>
<polyline points="362.7,265 363.5,250 364.1,254 364.7,266 365.8,288 366.9,302 368,308.5 369.2,311.6 371,313.8 373,315" fill="none" stroke="#8a8530" stroke-width="2.0" stroke-linejoin="round" stroke-linecap="round"/>
<polyline points="356.4,317.4 361.3,317.4 361.6,300 362.2,265 363,250 363.6,254 364.2,266 365.3,288 366.4,302 367.5,308.5 368.7,311.6 370.5,313.8 372.5,315" fill="none" stroke="#4b50b8" stroke-width="1.8" stroke-linejoin="round" stroke-linecap="round"/>
<polyline points="373,315.39 373.35,315.47 373.7,315.82 374.05,315.07 374.4,315.05 374.75,315.59 375.1,315.26 375.45,315.05 375.8,315.1 376.15,314.96 376.5,314.7 376.85,315.38 377.2,315.75 377.55,315.42 377.9,315.32 378.25,314.86 378.6,314.98 378.95,314.53 379.3,315.38 379.65,314.71 380,314.69 380.35,315.63 380.7,314.58 381.05,315.45 381.4,314.81 381.75,314.94 382.1,314.65 382.45,313.88 382.8,314.59 383.15,313.82 383.5,313.95 383.85,313.44 384.2,313.25 384.55,313.62 384.9,313 385.25,313.46 385.6,314.07 385.95,314.2 386.3,313.25 386.65,312.68 387,312.95 387.35,312.43 387.7,312.57 388.05,313.09 388.4,312.99 388.75,312.02 389.1,312.62 389.45,312.43 389.8,312.3 390.15,311.83 390.5,312.15 390.85,311.66 391.2,312.47 391.55,312.36 391.9,312.27 392.25,311.88 392.6,312.64 392.95,311.7 393.3,311.39 393.65,311.58 394,312.33 394.35,311.14 394.7,311.99 395.05,312.19 395.4,312 395.75,311.36 396.1,311.28 396.45,311.85 396.8,311.55 397.15,311.63 397.5,310.63 397.85,311.22 398.2,311.35 398.55,310.54 398.9,310.44 399.25,311.33 399.6,310.86 399.95,310.56 400.3,310.61 400.65,310.24 401,310.23 401.35,310.03 401.7,310.48 402.05,310.1 402.4,311.23 402.75,311.33 403.1,310.79 403.45,310.05 403.8,310.82 404.15,310.16 404.5,310.49 404.85,310.13 405.2,310.69 405.55,310.07 405.9,310.38 406.25,310.32 406.6,310.67 406.95,311.38 407.3,310.86 407.65,311.17 408,311.09 408.35,310.81 408.7,310.12 409.05,310.11 409.4,310.23 409.75,310.81 410.1,310.56 410.45,311.45 410.8,310.36 411.15,310.27 411.5,311.04 411.85,310.99 412.2,310.17 412.55,310.61 412.9,310.77 413.25,311.35 413.6,311.29 413.9,311.44 414.1,310.93 414.3,311.54 414.5,310.84 414.7,310.57 414.9,310.36 415.1,311.4 415.3,311.13 415.5,311.08 415.7,311.63 415.9,311.11 416.1,310.64 416.3,311.22 416.5,311.57 416.7,310.45 416.9,311.6 417.1,310.81 417.1,310.36 417.45,310.96 417.8,311.38 418.15,310.95 418.5,310.62 418.85,311.38 419.2,310.39 419.55,311.25 419.9,310.79 420.25,311.19 420.6,311.05 420.95,310.73 421.3,310.64 421.65,311.59 422,311.07 422.35,310.83 422.7,311.32 423.05,311.61 423.4,310.61 423.75,311.19 424.1,310.75 424.45,311.7 424.8,310.64 425.15,311.84 425.5,311.46 425.85,311.41 426.2,311.47 426.55,311.1 426.9,311.39 427.25,310.99 427.6,311.29 427.95,311.67 428.3,311.72 428.65,311.31 429,311.77 429.35,312.05 429.7,312.06 430.05,310.92 430.4,311.69 430.75,311.22 431.1,312.22 431.45,311.89 431.8,311.7 432.15,311.97 432.5,311.85 432.85,311.42 433.2,312.5 433.55,311.24 433.9,311.23 434.25,311.64 434.6,311.44 434.95,311.81 435.3,312.19 435.65,311.88 436,312.77 436.35,311.83 436.7,312.77 437.05,312.86 437.4,312.23 437.75,312.64 438.1,311.57 438.45,312.88 438.8,312.17 439.15,312.03 439.5,312.93 439.85,312.18 440.2,311.73 440.55,311.66 440.9,312.84 441.25,311.94 441.6,312.64 441.95,311.84 442.3,312.96 442.65,313.21 443,312.34 443.35,313 443.7,313.18 444.05,312.2 444.4,312.59 444.75,313.4 445.1,313.35 445.45,312.79 445.8,312.79 446.15,312.02 446.5,313.26 446.85,313.46 447.2,312.91 447.55,312.43 447.9,312.3 448.25,313.09 448.6,313.2 448.95,313.08 449.3,313.46 449.65,312.28 450,312.26 450.35,312.42 450.7,312.75 451.05,312.38 451.4,312.69 451.75,312.65 452.1,313.58 452.45,313.17 452.8,312.7 453.15,313.18 453.5,312.67 453.85,313.93 454.2,312.61 454.55,312.85 454.9,313.37 455.25,313.87 455.6,313.53 455.95,312.77 456.3,313.49 456.65,313.71 457,314.02 457.35,313.59 457.7,313.03 458.05,313.91 458.4,313.74 458.75,314.05 459.1,313.03 459.45,314 459.8,313.48 460.15,313.11 460.5,313.18 460.85,312.97 461.2,314.18 461.55,313.07 461.9,313.82 462.25,313.27 462.6,313.29 462.95,313.46 463.3,314.22 463.65,313.07 464,313.57 464.35,313.49 464.7,313.75 465.05,313.97 465.4,314.36 465.75,314.03 466.1,314.37 466.45,314.44 466.8,314.35 467.15,313.19 467.5,313.26 467.85,313.97 468.2,313.5 468.55,313.77 468.9,314.04 469.25,314.06 469.6,314.43 469.95,314.46 470.3,313.64 470.65,314.19 471,314.06 471.35,314.04 471.7,314.48 472.05,314.48 472.4,314.49 472.75,314.02 473.1,313.59 473.45,314.36 473.8,313.88 474.15,313.98 474.5,313.69 474.85,313.67 475.2,314.24 475.55,315.03 475.9,314.53 476.25,314.01 476.6,315.07 476.95,313.96 477.3,314.7 477.65,313.81 478,315.15 478.35,315.1 478.7,315.01 479.05,314.34 479.4,314.47 479.75,314.56 480.1,315.21 480.45,314.72" fill="none" stroke="#8a8530" stroke-width="2.5" stroke-linejoin="round" stroke-linecap="round"/>
<polyline points="373,316.43 373.4,315.68 373.8,316.48 374.2,315.75 374.6,315.98 375,316.41 375.4,315.87 375.8,316.03 376.2,315.69 376.6,316.49 377,316.51 377.4,315.7 377.8,315.66 378.2,316.01 378.6,316.06 379,316.32 379.4,315.89 379.8,316.14 380.2,315.71 380.6,315.77 381,315.64 381.4,316.11 381.8,316.13 382.2,316.19 382.6,316.51 383,315.88 383.4,315.92 383.8,316.04 384.2,316.53 384.6,315.89 385,315.88 385.4,316.02 385.8,316.28 386.2,315.88 386.6,315.77 387,316.34 387.4,316.18 387.8,316.19 388.2,315.63 388.6,315.86 389,315.72 389.4,315.99 389.8,316.53 390.2,316.62 390.6,316.48 391,316 391.4,316.2 391.8,316.54 392.2,315.99 392.6,316.04 393,316.36 393.4,315.99 393.8,316.13 394.2,316.02 394.6,316.48 395,316.18 395.4,315.76 395.8,315.68 396.2,316.31 396.6,315.79 397,316.35 397.4,315.9 397.8,316.21 398.2,316.03 398.6,316.34 399,315.83 399.4,316.1 399.8,316.36 400.2,315.96 400.6,316.69 401,316.7 401.4,316.67 401.8,316.64 402.2,316.65 402.6,316.28 403,316.55 403.4,316.12 403.8,315.78 404.2,316.65 404.6,316.64 405,315.98 405.4,316.1 405.8,315.96 406.2,316.44 406.6,315.9 407,316.55 407.4,315.77 407.8,316.14 408.2,316.52 408.6,316.23 409,315.88 409.4,315.78 409.8,316.43 410.2,315.83 410.6,316.03 411,316.36 411.4,316.07 411.8,315.8 412.2,316.56 412.6,316.49 413,316.38 413.4,315.87 413.8,316.25 413.9,316.73 414.1,316.28 414.3,316.03 414.5,316.71 414.7,316.12 414.9,316.3 415.1,315.94 415.3,316.64 415.5,316.46 415.7,316.31 415.9,316.27 416.1,316.12 416.3,316.24 416.5,316.29 416.7,315.8 416.9,316.5 417.1,316.54 417.4,315.82 417.8,315.92 418.2,316.5 418.6,316.14 419,315.94 419.4,316.49 419.8,316.78 420.2,316.15 420.6,316.39 421,316.35 421.4,316.36 421.8,316.41 422.2,316.72 422.6,316.67 423,316.7 423.4,316.51 423.8,316.58 424.2,316.58 424.6,316.56 425,316.51 425.4,316.59 425.8,315.89 426.2,316 426.6,316.48 427,316.26 427.4,316.07 427.8,316.49 428.2,316.04 428.6,316.6 429,316.16 429.4,316.76 429.8,316.16 430.2,316.82 430.6,316.18 431,316.64 431.4,315.99 431.8,316.36 432.2,316.22 432.6,316.72 433,316.58 433.4,316.44 433.8,315.98 434.2,316.39 434.6,316.11 435,315.98 435.4,316.58 435.8,316.42 436.2,316.88 436.6,316.73 437,315.93 437.4,316.83 437.8,316.42 438.2,316.88 438.6,316.2 439,316.36 439.4,316.59 439.8,316.15 440.2,316.31 440.6,316.24 441,316.24 441.4,316.45 441.8,316.41 442.2,316.79 442.6,316.16 443,316.16 443.4,316.21 443.8,315.92 444.2,316.25 444.6,316.27 445,316.02 445.4,316.44 445.8,316.02 446.2,316.73 446.6,316.87 447,316.54 447.4,316.14 447.8,316.09 448.2,316 448.6,316.13 449,316.79 449.4,316.71 449.8,316.81 450.2,316.32 450.6,316.51 451,316.67 451.4,316.62 451.8,316.61 452.2,315.99 452.6,316.96 453,316.54 453.4,316.25 453.8,316.29 454.2,316.73 454.6,316.9 455,316.01 455.4,316.19 455.8,316.03 456.2,316.63 456.6,316.59 457,316.6 457.4,316.18 457.8,316.4 458.2,316.87 458.6,316.32 459,316.2 459.4,316.21 459.8,316.8 460.2,316.24 460.6,316.71 461,316.62 461.4,316.83 461.8,316.07 462.2,316.31 462.6,316.97 463,316.51 463.4,316.1 463.8,316.13 464.2,316.21 464.6,316.68 465,316.34 465.4,316.12 465.8,316.29 466.2,316.83 466.6,316.75 467,316.51 467.4,316.3 467.8,316.13 468.2,316.15 468.6,316.92 469,316.66 469.4,316.06 469.8,316.83 470.2,316.99 470.6,316.45 471,316.95 471.4,316.38 471.8,316.4 472.2,316.47 472.6,316.57 473,316.44 473.4,316.3 473.8,316.15 474.2,316.37 474.6,316.64 475,316.94 475.4,316.78 475.8,316.59 476.2,316.49 476.6,316.24 477,316.78 477.4,316.88 477.8,316.44 478.2,316.84 478.6,316.93 479,316.45 479.4,316.1 479.8,316.93 480.2,316.61" fill="none" stroke="#4b50b8" stroke-width="2.4" stroke-linejoin="round" stroke-linecap="round"/>
<polyline points="523.7,248.6 524.6,251 525.7,261 527,276 528.2,291 529.4,301 530.7,308.5 532.4,313.4 534.5,315.4" fill="none" stroke="#8a8530" stroke-width="2.4" stroke-linejoin="round" stroke-linecap="round"/>
<polyline points="515.8,322 520,322 520.8,300 521.6,268 522.5,247.6 523.4,250 524.5,260 525.8,275 527,290 528.2,300 529.5,307.5 531.2,312.4 533.3,314.4" fill="none" stroke="#4b50b8" stroke-width="1.9" stroke-linejoin="round" stroke-linecap="round"/>
<polyline points="534,314.72 534.35,315.11 534.7,314.05 535.05,315.53 535.4,315.19 535.75,315.39 536.1,314.13 536.45,313.95 536.8,313.63 537.15,313.78 537.5,313.42 537.85,314.41 538.2,313.81 538.55,314.44 538.9,314.27 539.25,313.53 539.6,313.16 539.95,313.37 540.3,312.66 540.65,313.43 541,312.48 541.35,312.2 541.7,313.17 542.05,312.23 542.4,312.83 542.75,312.66 543.1,311.94 543.45,311.06 543.8,310.68 544.15,310.62 544.5,311.19 544.85,310.61 545.2,310.05 545.55,309.39 545.9,309.7 546.25,309.55 546.6,308.82 546.95,308.89 547.3,308.75 547.65,308.72 548,308.63 548.35,308.53 548.7,308.77 549.05,307.66 549.4,307.12 549.75,307.24 550.1,306.9 550.45,307.3 550.8,306.96 551.15,306.54 551.5,306 551.85,306.88 552.2,306.5 552.55,306.32 552.9,306.27 553.25,306.34 553.6,304.86 553.95,304.93 554.3,305.2 554.65,305.4 555,304.91 555.35,304.73 555.7,304.24 556.05,303.97 556.4,304.8 556.75,304.8 557.1,303.85 557.45,303.62 557.8,302.91 558.15,303.49 558.5,302.69 558.85,303.18 559.2,302.45 559.55,302.57 559.9,303.03 560.25,301.97 560.6,302.16 560.95,301.63 561.3,301.73 561.65,302.16 562,301.39 562.35,302.11 562.7,301.19 563.05,301.23 563.4,301.5 563.75,301.24 564.1,301.48 564.45,300.84 564.8,300.36 565.15,300.98 565.5,300.38 565.85,300.64 566.2,301.16 566.55,301.28 566.9,301.6 567.25,301.2 567.6,300.97 567.95,300.6 568.3,300.78 568.65,300.44 569,300.11 569.35,300.77 569.7,300.89 570.05,300.34 570.4,301 570.75,300.63 571.1,300.25 571.45,301.08 571.8,299.72 572.15,300.08 572.5,300.13 572.85,300.66 573.2,299.96 573.55,301.09 573.9,299.66 574.25,300.18 574.6,300.18 574.95,300.58 575.3,299.77 575.65,299.59 576,300.48 576.35,300.52 576.7,300.15 577.05,300.65 577.4,299.86 577.75,299.97 578.1,300.07 578.45,299.5 578.8,300.65 579.15,299.45 579.5,299.5 579.85,300.85 580.2,300.15 580.55,299.68 580.9,300.89 581.25,299.8 581.6,300.25 581.95,299.57 582.3,299.8 582.65,300.36 583,300.74 583.35,299.85 583.7,300.88 584.05,300.72 584.4,300.79 584.75,301.28 585.1,300.53 585.45,299.8 585.8,299.9 586.15,301.23 586.5,300.03 586.85,300.32 587.2,300.95 587.55,301.11 587.9,301.16 588.25,300.88 588.6,300.53 588.95,301.47 589.3,300.09 589.65,300.49 590,301.68 590.35,300.43 590.7,301.5 591.05,301.14 591.4,301.21 591.75,301.24 592.1,300.97 592.45,301.62 592.8,300.39 593.15,300.78 593.5,301.58 593.85,301.55 594.2,301.42 594.55,301.52 594.9,300.92 595.25,301.43 595.6,301.41 595.95,301.82 596.3,300.91 596.65,301.02 597,301.1 597.35,300.95 597.7,301.81 598.05,301.45 598.4,300.8 598.75,302.14 599.1,301.57 599.45,302.08 599.8,301.98 600.15,301.45 600.5,301.35 600.85,301.75 601.2,302.4 601.55,302.21 601.9,302.48 602.25,301.9 602.6,301.88 602.95,301.52 603.3,301.94 603.65,301.98 604,302.34 604.35,302.49 604.7,302.62 605.05,301.61 605.4,302.27 605.75,301.37 606.1,301.74 606.45,302.28 606.8,301.35 607.15,302.75 607.5,302.26 607.85,301.81 608.2,302.13 608.55,302.69 608.9,301.66 609.25,303 609.6,302.62 609.95,302.44 610.3,301.93 610.65,302.65 611,302.04 611.35,301.82 611.7,303.1 612.05,302.32 612.4,303.03 612.75,302.59 613.1,302.75 613.45,302.49 613.8,303.22 614.15,303.18 614.5,302.58 614.85,302.88 615.2,302.46 615.55,303.5 615.9,302.8 616.25,303.06 616.6,303.05 616.95,302.31 617.3,302.72 617.65,303.46 618,303.18 618.35,302.66 618.7,302.56 619.05,303.71 619.4,303.65 619.75,303.8 620.1,302.69 620.45,303.31 620.8,303.15 621.15,303.15 621.5,303.07 621.85,303.54 622.2,303.45 622.55,302.67 622.9,302.64 623.25,302.88 623.6,303.92 623.95,304.02 624.3,303.74 624.65,303.27 625,303.56 625.35,303.75 625.7,303.03 626.05,304.31 626.4,304.26 626.75,302.87 627.1,303.24 627.45,303.3 627.8,304.26 628.15,304.36 628.5,304.43 628.85,303.63 629.2,303.84 629.55,303.3 629.9,303.06 630.25,304.05 630.6,303.93 630.95,304.48 631.3,304.57 631.65,303.98 632,303.23 632.35,304.07 632.7,304.67 633.05,303.96 633.4,304.26 633.75,304.07 634.1,303.98 634.45,303.96 634.8,303.68 635.15,304.05 635.5,304.63 635.85,304.56 636.2,303.45 636.55,303.77 636.9,303.56 637.25,303.61 637.6,303.5 637.95,304.67 638.3,303.85 638.65,304.61 639,304.9 639.35,303.84" fill="none" stroke="#8a8530" stroke-width="2.8" stroke-linejoin="round" stroke-linecap="round"/>
<polyline points="533.3,313.89 533.65,314.39 534,314.74 534.35,313.84 534.7,313.95 535.05,313.62 535.4,313.94 535.75,313.74 536.1,313.52 536.45,313.84 536.8,313.39 537.15,312.83 537.5,312.75 537.85,312.93 538.2,312.88 538.55,312.19 538.9,312.76 539.25,312.21 539.6,312.47 539.95,311.53 540.3,311.6 540.65,311.03 541,311.3 541.35,310.89 541.7,310.8 542.05,310.43 542.4,310.98 542.75,310.51 543.1,309.96 543.45,309.93 543.8,309.34 544.15,310.04 544.5,309.79 544.85,309.18 545.2,308.46 545.55,309.21 545.9,308.12 546.25,307.72 546.6,307.94 546.95,307.68 547.3,308.04 547.65,306.99 548,306.67 548.35,306.92 548.7,306.23 549.05,306.77 549.4,306.35 549.75,306.6 550.1,306.48 550.45,305.51 550.8,306.04 551.15,305.56 551.5,305.97 551.85,304.79 552.2,305.1 552.55,305.6 552.9,304.36 553.25,304.52 553.6,304.39 553.95,304.32 554.3,304.94 554.65,303.85 555,304.47 555.35,303.67 555.7,304.26 556.05,303.26 556.4,303.07 556.75,304 557.1,302.69 557.45,303.31 557.8,302.65 558.15,302.97 558.5,302.52 558.85,302.76 559.2,302.69 559.55,302.64 559.9,301.75 560.25,302.47 560.6,301.62 560.95,301.91 561.3,302.04 561.65,301.86 562,301.44 562.35,301.4 562.7,300.99 563.05,301.87 563.4,301.53 563.75,301.75 564.1,301.99 564.45,301.67 564.8,301.2 565.15,301.42 565.5,301.05 565.85,301.18 566.2,301.88 566.55,301.66 566.9,301.07 567.25,301.5 567.6,301.37 567.95,301.86 568.3,301.88 568.65,301.31 569,300.99 569.35,301.12 569.7,301.58 570.05,301.34 570.4,300.95 570.75,301.81 571.1,301.66 571.45,301.32 571.8,300.97 572.15,301.36 572.5,301.64 572.85,301.02 573.2,301.08 573.55,301 573.9,301 574.25,301.7 574.6,301.82 574.95,301.74 575.3,301.36 575.65,301.41 576,301 576.35,301.96 576.7,301.63 577.05,301.23 577.4,301.19 577.75,301.43 578.1,301.61 578.45,302.03 578.8,301.32 579.15,302.21 579.5,301.61 579.85,301.56 580.2,302.17 580.55,301.64 580.9,302.69 581.25,302.37 581.6,302.48 581.95,302.3 582.3,302.75 582.65,302.76 583,302.44 583.35,302 583.7,302.67 584.05,303.11 584.4,302.26 584.75,302.85 585.1,302.19 585.45,303.09 585.8,302.79 586.15,302.87 586.5,302.94 586.85,302.92 587.2,303.13 587.55,303.12 587.9,302.77 588.25,303.51 588.6,302.66 588.95,303.45 589.3,303.11 589.65,302.77 590,303.03 590.35,303.33 590.7,302.95 591.05,303.58 591.4,304.02 591.75,303.79 592.1,303.63 592.45,303.73 592.8,303.65 593.15,304.03 593.5,303.99 593.85,303.81 594.2,304.14 594.55,304.06 594.9,303.42 595.25,303.55 595.6,303.89 595.95,303.85 596.3,304.35 596.65,304.13 597,304.43 597.35,304.51 597.7,304.84 598.05,304.39 598.4,304.11 598.75,305.01 599.1,304.28 599.45,304.83 599.8,304.26 600.15,304.5 600.5,304.83 600.85,305.2 601.2,305.28 601.55,305.34 601.9,304.84 602.25,305.16 602.6,305.21 602.95,304.97 603.3,305.29 603.65,304.9 604,305.02 604.35,304.9 604.7,304.73 605.05,305.73 605.4,305.29 605.75,305.3 606.1,305.57 606.45,305.11 606.8,304.94 607.15,305.61 607.5,305.2 607.85,305.16 608.2,305.59 608.55,305.49 608.9,306.18 609.25,305.7 609.6,306.27 609.95,306.13 610.3,306.03 610.65,305.97 611,305.5 611.35,306.4 611.7,305.58 612.05,306.42 612.4,306.65 612.75,306.58 613.1,306.61 613.45,306.56 613.8,306.24 614.15,306.63 614.5,306.59 614.85,306.55 615.2,306.4 615.55,306.61 615.9,306.83 616.25,306.09 616.6,306.77 616.95,307.14 617.3,306.18 617.65,307.31 618,307.22 618.35,306.75 618.7,306.94 619.05,306.79 619.4,306.62 619.75,306.77 620.1,307.55 620.45,306.53 620.8,307.02 621.15,306.83 621.5,307.28 621.85,307.68 622.2,307.33 622.55,306.87 622.9,307.81 623.25,307.15 623.6,307.72 623.95,307.79 624.3,307.12 624.65,306.97 625,307.96 625.35,307.89 625.7,307.13 626.05,307.95 626.4,307.9 626.75,307.19 627.1,307.11 627.45,307.7 627.8,307.42 628.15,307.31 628.5,307.1 628.85,307.49 629.2,307.18 629.55,307.24 629.9,307.48 630.25,307.85 630.6,307.99 630.95,307.73 631.3,307.58 631.65,307.99 632,308.11 632.35,307.9 632.7,308.04 633.05,308.19 633.4,308.66 633.75,307.65 634.1,308.58 634.45,308.55 634.8,308.11 635.15,308.41 635.5,308.74 635.85,308.64 636.2,308.66 636.55,307.86 636.9,308.07 637.25,308 637.6,309.02 637.95,308.13 638.3,308.39 638.65,308.79 639,308.97 639.35,308.32" fill="none" stroke="#4b50b8" stroke-width="2.8" stroke-linejoin="round" stroke-linecap="round"/>
<text transform="translate(18.38 104.94) rotate(-90) scale(0.764 1)" font-size="15.83" fill="#000" stroke="#000" stroke-width="0.35">Intensity (arb. units)</text>
<text transform="translate(18.38 217.24) rotate(-90) scale(0.764 1)" font-size="15.83" fill="#000" stroke="#000" stroke-width="0.35">Intensity (arb. units)</text>
<text transform="translate(18.38 332.23) rotate(-90) scale(0.760 1)" font-size="15.83" fill="#000" stroke="#000" stroke-width="0.35">Intensity (arb. units)</text>
<text transform="translate(293.81 122.27) scale(1.252 1)" font-size="12.78" fill="#000" stroke="#000" stroke-width="0.35">Time Gate(μs)</text>
<text transform="translate(290.38 235.9) scale(1.281 1)" font-size="12.53" fill="#000" stroke="#000" stroke-width="0.4">Wavelength(nm)</text>
<text transform="translate(309.71 351.97) scale(1.215 1)" font-size="13.22" fill="#000" stroke="#000" stroke-width="0.2">Time (μs)</text>
<rect x="0" y="0" width="668" height="1.4" fill="#5fa2de"/>
<rect x="0" y="0" width="1.8" height="360" fill="#5fa2de"/>
<rect x="666.1" y="0" width="1.9" height="360" fill="#5fa2de"/>
<rect x="0" y="358.2" width="668" height="1.8" fill="#5fa2de"/>
</svg>
</body></html>
